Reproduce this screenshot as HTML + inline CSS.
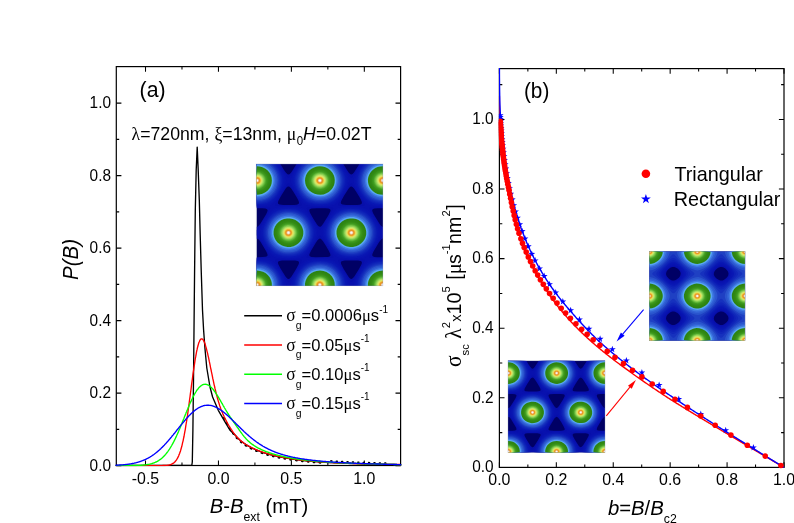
<!DOCTYPE html>
<html><head><meta charset="utf-8"><title>fig</title><style>html,body{margin:0;padding:0;background:#fff}svg{display:block;will-change:transform}</style></head><body>
<svg width="794" height="523" viewBox="0 0 794 523">
<rect width="794" height="523" fill="#fff"/>
<defs>
<clipPath id="ca"><rect x="115.5" y="65.8" width="285.8" height="400.4"/></clipPath>
<clipPath id="cb"><rect x="498.8" y="67.9" width="285.9" height="401.2"/></clipPath>
<g id="tri"><rect x="0" y="0" width="126.5" height="122" fill="#000065"/>
<path fill="#070faa" fill-rule="evenodd" d="M0.5,0.0 23.9,0.0 27.5,5.9 29.5,8.8 31.0,10.3 32.0,10.6 33.0,10.2 34.5,8.7 36.5,5.8 40.0,0.0 86.8,0.0 90.5,6.1 92.5,8.9 94.0,10.3 95.0,10.6 96.0,10.1 97.5,8.6 102.9,0.0 126.5,0.0 126.5,44.2 121.0,44.2 118.0,44.5 116.5,45.0 116.0,45.5 115.7,46.5 116.1,48.0 117.0,50.0 122.5,59.1 124.0,61.2 125.0,62.2 126.0,62.8 126.5,62.8 126.5,74.6 126.0,74.6 125.0,75.2 124.0,76.2 122.5,78.3 117.0,87.5 116.1,89.5 115.7,91.0 116.0,92.0 116.7,92.5 118.0,92.9 121.0,93.2 126.5,93.2 126.5,122.0 0.0,122.0 0.0,93.2 6.0,93.1 9.0,92.8 10.5,92.2 11.0,91.5 11.1,91.0 10.7,89.5 9.5,87.0 4.0,77.8 2.0,75.3 1.0,74.7 0.0,74.7 0.0,62.7 1.0,62.7 2.0,62.1 4.0,59.6 9.5,50.5 10.7,48.0 11.1,46.5 11.0,45.9 10.5,45.2 9.0,44.6 6.0,44.3 0.0,44.2 0.0,0.0ZM31.5,22.5 30.5,23.1 29.0,24.8 24.5,32.0 21.8,37.0 21.4,38.5 21.5,39.5 22.0,40.1 23.0,40.5 27.0,41.0 37.5,40.9 40.0,40.7 41.5,40.3 42.4,39.5 42.5,38.5 42.1,37.0 40.6,34.0 37.0,28.0 34.5,24.3 33.0,22.8 32.0,22.4ZM94.4,22.5 93.5,23.0 92.0,24.7 87.4,32.0 84.7,37.0 84.3,38.5 84.4,39.5 85.0,40.1 86.0,40.6 90.0,41.0 100.5,40.9 103.0,40.7 104.5,40.3 105.3,39.5 105.4,38.5 105.0,37.0 103.5,34.0 100.0,28.2 97.5,24.4 96.0,22.9 95.0,22.4ZM55.2,44.5 53.6,45.0 53.1,45.5 52.9,46.0 52.9,47.0 53.6,49.0 57.0,55.0 60.5,60.4 61.5,61.7 62.5,62.5 63.5,62.8 64.0,62.7 65.0,62.0 66.5,60.1 71.8,51.5 73.8,47.5 74.0,46.5 73.7,45.5 73.2,45.0 72.0,44.6 69.0,44.3 60.0,44.2ZM62.4,75.0 61.0,76.3 59.5,78.4 54.4,87.0 53.0,90.0 52.8,91.0 53.1,92.0 53.8,92.5 55.0,92.9 59.5,93.2 69.0,93.1 71.5,92.9 73.0,92.5 73.7,92.0 73.9,91.5 73.8,90.0 72.4,87.0 69.5,81.9 66.5,77.3 65.0,75.4 64.0,74.7 63.5,74.6ZM25.5,96.5 23.0,96.9 21.8,97.5 21.4,98.5 21.7,100.0 24.0,104.5 29.0,112.6 30.0,113.8 31.0,114.7 32.0,115.0 32.5,114.9 33.5,114.2 35.0,112.4 39.5,105.2 42.0,100.5 42.5,99.0 42.4,98.0 42.1,97.5 41.3,97.0 38.5,96.5 32.0,96.4ZM88.4,96.5 86.0,96.9 84.7,97.5 84.3,98.5 84.6,100.0 87.0,104.7 92.0,112.7 93.0,113.9 94.0,114.7 95.0,115.0 95.5,114.8 96.5,114.1 98.0,112.3 102.5,105.0 104.9,100.5 105.4,99.0 105.3,98.0 105.0,97.5 104.2,97.0 101.5,96.5 95.5,96.4Z"/>
<path fill="#0811ae" fill-rule="evenodd" d="M0.5,0.0 23.0,0.0 30.0,11.8 31.0,13.2 31.5,13.6 32.0,13.8 33.0,13.1 34.0,11.6 40.9,0.0 85.9,0.0 93.0,11.9 94.0,13.3 94.5,13.7 95.0,13.7 95.5,13.5 96.5,12.3 103.8,0.0 126.5,0.0 126.5,43.5 115.0,43.4 113.5,43.7 113.1,44.0 113.0,44.5 114.1,47.0 119.4,55.5 124.5,64.2 125.5,65.5 126.0,65.9 126.5,65.9 126.5,71.5 126.0,71.5 125.5,71.9 124.5,73.2 119.3,82.0 114.1,90.5 113.3,92.0 113.0,93.0 113.1,93.5 113.5,93.7 115.0,94.0 126.5,93.9 126.5,122.0 0.0,122.0 0.0,93.9 12.0,94.0 13.5,93.6 13.8,93.0 13.5,92.0 12.7,90.5 7.8,82.5 2.5,73.5 1.0,71.6 0.5,71.5 0.0,71.6 0.0,65.8 0.5,65.9 1.0,65.8 2.5,63.9 7.7,55.0 13.0,46.5 13.8,44.5 13.7,44.0 13.5,43.8 12.0,43.4 0.0,43.5 0.0,0.0ZM31.4,19.5 30.0,21.2 24.9,30.0 19.9,38.0 18.8,40.0 18.6,41.0 19.0,41.5 19.5,41.7 21.5,41.9 32.0,41.7 42.0,41.9 44.0,41.7 44.9,41.5 45.3,41.0 45.2,40.5 44.6,39.0 38.7,29.5 34.0,21.4 32.5,19.5 32.0,19.2ZM94.3,19.5 93.5,20.3 92.5,21.9 87.8,30.0 82.8,38.0 81.7,40.0 81.5,41.0 81.9,41.5 82.5,41.7 84.5,41.9 95.0,41.7 105.0,41.9 106.5,41.8 107.8,41.5 108.2,41.0 108.1,40.5 107.5,39.0 101.6,29.5 97.0,21.5 95.5,19.5 95.0,19.3ZM51.1,43.5 50.2,44.0 50.1,44.5 51.2,47.0 62.0,64.8 63.0,65.8 63.5,65.9 64.0,65.7 65.5,63.8 70.3,55.5 75.6,47.0 76.6,45.0 76.6,44.0 75.7,43.5 74.0,43.4 53.5,43.3ZM63.3,71.5 62.5,72.0 61.5,73.3 56.1,82.5 51.4,90.0 50.2,92.5 50.1,93.0 50.2,93.5 51.5,94.0 53.5,94.1 63.5,93.9 74.0,94.1 75.5,93.9 76.5,93.6 76.7,93.0 76.6,92.5 75.6,90.5 70.7,82.5 65.0,72.9 64.0,71.7ZM18.9,96.0 18.6,96.5 18.7,97.0 19.9,99.5 25.2,108.0 30.0,116.2 31.0,117.6 31.5,118.0 32.0,118.2 33.0,117.5 34.0,116.0 39.3,107.0 44.3,99.0 45.0,97.5 45.3,96.5 45.0,96.0 44.5,95.8 42.5,95.5 32.0,95.7 21.5,95.5 20.0,95.6ZM81.8,96.0 81.5,96.5 81.6,97.0 82.8,99.5 87.8,107.5 93.0,116.3 94.0,117.7 94.5,118.1 95.0,118.1 96.0,117.3 97.0,115.9 101.9,107.5 107.2,99.0 107.9,97.5 108.2,96.5 107.9,96.0 107.5,95.8 105.0,95.5 95.0,95.7 84.5,95.5 83.0,95.6Z"/>
<path fill="#0913b0" fill-rule="evenodd" d="M0.5,0.0 22.1,0.0 26.3,7.0 28.2,11.0 29.2,13.5 29.6,16.5 29.2,19.5 27.3,24.0 24.6,29.0 21.0,34.6 18.0,38.3 15.5,40.4 14.0,41.2 12.5,41.7 7.5,42.5 0.0,42.8 0.0,0.0ZM41.5,0.5 41.8,0.0 85.0,0.0 88.4,5.5 91.1,11.0 92.3,14.5 92.5,16.0 92.5,17.5 92.2,19.0 91.3,21.5 88.4,27.5 84.3,34.0 82.5,36.4 80.5,38.7 78.0,40.7 75.0,41.8 70.5,42.5 64.0,42.8 57.5,42.6 52.0,41.8 49.0,40.8 46.5,38.9 43.0,34.7 38.7,28.0 35.7,22.0 34.7,19.5 34.3,17.5 34.4,15.0 34.7,13.5 35.7,11.0 38.1,6.0ZM104.5,0.3 104.7,0.0 126.5,0.0 126.5,42.8 121.0,42.6 116.5,42.1 113.0,41.3 111.0,40.2 108.5,38.0 106.0,34.8 102.8,30.0 100.2,25.5 98.8,22.5 97.6,19.5 97.2,17.0 97.3,15.0 98.2,12.0 99.7,8.5 101.9,4.5ZM29.0,42.5 36.0,42.5 41.5,43.0 45.0,43.8 47.5,45.1 49.0,46.4 51.0,48.7 54.7,54.0 58.7,61.0 60.7,66.0 61.1,68.5 60.7,71.5 58.9,76.0 56.2,81.0 52.5,86.7 49.5,90.4 47.0,92.6 44.5,93.7 42.0,94.3 38.5,94.7 29.5,94.9 22.0,94.3 19.5,93.8 17.5,92.9 16.0,91.9 14.5,90.6 12.5,88.2 10.2,85.0 7.7,81.0 5.8,77.5 4.1,74.0 3.2,71.5 2.8,69.5 2.9,67.5 3.4,65.5 4.3,63.0 6.3,59.0 8.9,54.5 11.5,50.6 14.0,47.4 16.5,45.1 19.0,43.8 23.0,42.9ZM92.0,42.5 99.0,42.5 104.5,43.0 108.0,43.9 110.5,45.2 112.0,46.5 113.5,48.2 117.6,54.0 121.3,60.5 123.4,65.5 124.0,68.5 123.7,71.0 122.2,75.0 119.7,80.0 116.2,85.5 113.0,89.8 110.5,92.2 109.0,93.1 107.5,93.7 105.0,94.3 101.5,94.7 97.0,94.9 92.5,94.9 85.0,94.3 82.5,93.8 80.5,93.0 78.5,91.6 77.0,90.1 73.1,85.0 70.6,81.0 68.7,77.5 66.3,72.0 65.8,70.0 65.7,68.0 66.3,65.5 67.2,63.0 69.2,59.0 71.8,54.5 74.5,50.4 77.0,47.3 79.5,45.0 82.0,43.8 86.0,42.9ZM0.5,94.6 7.0,94.9 12.0,95.6 15.0,96.7 17.0,98.1 19.0,100.2 21.5,103.5 23.8,107.0 26.4,111.5 28.3,115.5 29.2,118.0 29.6,120.0 29.6,122.0 0.0,122.0 0.0,94.6ZM56.0,95.0 64.0,94.6 71.5,95.0 76.0,95.9 77.5,96.5 79.0,97.4 81.0,99.2 83.5,102.3 86.4,106.5 88.7,110.5 90.7,114.5 91.9,117.5 92.5,120.0 92.5,122.0 34.3,122.0 34.3,120.5 34.6,118.5 36.3,114.0 40.1,107.0 44.5,100.7 47.0,98.0 49.0,96.6 51.5,95.7ZM119.0,95.0 126.5,94.6 126.5,122.0 97.2,122.0 97.2,120.5 97.4,119.0 98.1,116.5 99.2,114.0 101.3,110.0 103.3,106.5 107.5,100.6 110.0,97.9 112.0,96.6 114.5,95.7Z"/>
<path fill="#0916b2" fill-rule="evenodd" d="M0.5,0.0 21.1,0.0 23.4,3.5 25.4,7.0 26.9,10.5 27.8,13.5 28.2,17.0 27.9,19.0 27.4,21.0 25.4,26.0 22.5,31.0 19.0,35.6 16.0,38.4 13.0,40.1 9.5,41.2 5.0,41.8 0.0,42.0 0.0,0.0ZM42.5,0.5 42.8,0.0 84.0,0.0 87.2,5.0 89.4,9.5 90.7,13.5 91.1,17.0 90.8,19.0 90.3,21.0 88.3,26.0 85.4,31.0 82.0,35.5 79.0,38.3 76.0,40.1 72.0,41.3 67.0,41.9 60.5,41.9 54.5,41.2 50.5,40.0 48.5,38.8 47.0,37.7 45.0,35.7 43.2,33.5 39.6,28.0 37.0,22.5 36.2,20.0 35.8,18.0 35.9,14.5 36.3,12.5 37.2,10.0 39.3,5.5ZM105.5,0.3 105.7,0.0 126.5,0.0 126.5,42.0 121.5,41.8 117.5,41.2 114.0,40.2 111.5,38.9 109.0,36.8 106.5,34.0 103.7,30.0 101.4,26.0 99.9,22.5 99.0,19.5 98.6,17.0 98.8,14.5 99.7,11.0 101.0,8.0 103.1,4.0ZM26.5,43.5 32.5,43.2 38.5,43.6 43.0,44.5 45.0,45.3 46.5,46.1 49.5,48.6 53.1,53.0 56.2,58.0 57.7,61.0 58.7,63.5 59.5,67.0 59.6,69.0 59.5,70.5 58.6,74.0 56.7,78.5 53.4,84.0 50.0,88.3 47.0,90.9 45.5,91.8 43.5,92.7 41.0,93.4 37.5,93.9 34.0,94.2 30.0,94.2 26.0,93.9 23.0,93.4 20.5,92.7 18.5,91.9 16.5,90.6 15.0,89.4 11.5,85.4 7.8,79.5 5.3,74.0 4.7,72.0 4.3,69.5 4.3,67.5 4.8,65.0 5.8,62.0 7.2,59.0 10.8,53.0 14.0,49.0 16.0,47.1 17.5,46.1 19.5,45.0 21.5,44.4ZM89.5,43.4 95.5,43.2 101.5,43.6 106.0,44.6 108.0,45.4 109.5,46.2 111.5,47.7 113.0,49.2 116.3,53.5 119.6,59.0 121.7,64.0 122.5,67.5 122.3,71.0 121.2,75.0 118.8,80.0 115.6,85.0 112.5,88.7 109.5,91.2 107.5,92.3 106.0,92.8 103.5,93.5 100.5,93.9 97.0,94.2 93.0,94.2 89.0,93.9 86.0,93.4 83.5,92.8 81.5,91.9 79.5,90.7 78.0,89.5 74.5,85.5 72.4,82.5 70.7,79.5 68.2,74.0 67.5,71.5 67.2,69.5 67.2,67.5 67.7,65.0 68.7,62.0 69.8,59.5 71.8,56.0 73.7,53.0 77.0,48.9 79.0,47.1 80.5,46.0 82.0,45.2 84.5,44.3ZM0.5,95.4 6.5,95.7 11.0,96.6 14.5,98.0 17.5,100.3 19.5,102.4 21.9,105.5 23.8,108.5 25.7,112.0 26.8,114.5 27.8,117.5 28.2,120.0 28.1,122.0 0.0,122.0 0.0,95.4ZM60.0,95.5 66.5,95.5 72.5,96.2 74.5,96.7 76.5,97.5 78.5,98.7 80.0,99.9 82.0,101.9 84.4,105.0 86.4,108.0 88.3,111.5 89.7,114.5 90.7,117.5 91.1,120.0 91.0,122.0 35.8,122.0 35.7,120.0 36.1,117.5 37.8,113.0 41.1,107.0 43.0,104.2 45.0,101.7 48.0,98.9 51.0,97.2 55.0,96.1ZM123.0,95.5 126.5,95.4 126.5,122.0 98.7,122.0 98.6,120.0 98.9,118.0 99.7,115.5 100.7,113.0 102.2,110.0 104.3,106.5 108.0,101.6 111.0,98.8 114.0,97.2 118.0,96.1Z"/>
<path fill="#0a18b4" fill-rule="evenodd" d="M0.5,0.0 19.9,0.0 22.4,3.5 24.6,7.5 26.2,11.5 26.8,14.5 27.0,16.5 26.8,18.5 26.3,21.0 25.7,23.0 23.3,28.0 20.0,32.9 17.0,36.1 14.0,38.3 10.5,39.9 6.0,40.8 0.0,41.2 0.0,0.0ZM44.0,0.0 82.8,0.0 85.9,4.5 88.2,9.0 89.6,13.5 89.9,17.0 89.7,19.0 89.2,21.0 87.5,25.5 84.7,30.5 81.5,34.6 78.5,37.3 75.0,39.3 73.0,40.0 70.5,40.6 65.0,41.2 59.0,41.0 54.0,40.0 52.0,39.4 50.0,38.4 48.0,37.0 46.5,35.8 44.5,33.7 42.8,31.5 39.8,26.5 38.6,24.0 37.7,21.5 37.0,17.5 37.0,15.5 37.2,13.5 38.4,9.5 40.9,4.5ZM106.5,0.5 106.9,0.0 126.5,0.0 126.5,41.2 122.0,41.0 118.0,40.3 114.5,39.2 112.0,37.8 109.5,35.9 107.0,33.2 104.7,30.0 102.4,26.0 100.9,22.5 100.1,19.5 99.8,16.5 100.0,14.0 100.8,11.0 102.2,7.5 104.1,4.0ZM26.0,44.4 31.5,44.0 37.0,44.3 41.5,45.2 43.5,45.9 45.5,46.9 47.5,48.3 49.0,49.6 52.0,53.0 55.2,58.0 57.2,62.5 58.3,66.5 58.4,70.0 57.5,74.0 55.7,78.5 52.7,83.5 49.5,87.3 48.0,88.7 46.0,90.2 42.5,91.9 40.0,92.6 37.0,93.1 34.0,93.4 30.5,93.4 27.5,93.2 24.5,92.7 22.0,92.1 19.5,91.1 18.0,90.3 16.0,88.8 14.1,87.0 12.5,85.2 9.3,80.5 7.7,77.5 6.7,75.0 5.9,72.5 5.6,70.5 5.5,68.5 5.7,66.0 6.3,63.5 7.2,61.0 8.7,58.0 10.2,55.5 13.5,51.0 15.0,49.5 17.0,47.8 19.0,46.6 21.0,45.7 23.5,44.9ZM88.5,44.5 94.0,44.0 99.5,44.3 104.5,45.2 108.0,46.7 109.5,47.6 111.5,49.2 114.9,53.0 117.8,57.5 120.1,62.5 121.2,66.5 121.3,70.0 120.4,74.0 118.6,78.5 115.9,83.0 112.5,87.2 111.0,88.6 109.0,90.1 105.5,91.8 103.0,92.6 100.0,93.1 97.0,93.3 93.5,93.4 90.5,93.2 87.5,92.7 85.0,92.1 82.5,91.1 81.0,90.3 79.0,88.9 77.0,87.0 75.5,85.3 72.2,80.5 70.6,77.5 69.6,75.0 68.8,72.5 68.5,70.5 68.4,68.5 68.6,66.0 69.2,63.5 70.1,61.0 72.7,56.0 74.5,53.4 76.4,51.0 78.0,49.4 80.0,47.7 82.0,46.5 84.0,45.6ZM0.5,96.2 6.0,96.6 10.5,97.5 14.0,99.1 16.0,100.4 17.5,101.7 19.5,103.9 21.1,106.0 23.1,109.0 24.7,112.0 25.9,115.0 26.6,117.5 26.9,119.5 26.9,122.0 0.0,122.0 0.0,96.2ZM58.5,96.5 64.5,96.2 70.5,96.8 73.0,97.4 75.0,98.1 77.0,99.1 79.0,100.5 81.0,102.3 83.3,105.0 85.4,108.0 87.1,111.0 88.4,114.0 89.4,117.0 89.8,119.5 89.8,122.0 37.0,122.0 37.0,120.0 37.2,118.0 37.7,116.0 38.6,113.5 41.1,108.5 44.5,103.7 47.5,100.7 50.5,98.7 54.0,97.4ZM121.5,96.5 126.5,96.2 126.5,122.0 99.9,122.0 99.8,120.0 100.2,117.5 101.7,113.0 104.3,108.0 107.5,103.6 110.5,100.7 113.5,98.7 117.0,97.3Z"/>
<path fill="#0d20b7" fill-rule="evenodd" d="M0.5,0.0 18.7,0.0 21.7,4.0 23.8,8.0 25.4,12.5 25.8,16.5 25.7,18.5 25.2,21.0 24.4,23.5 23.4,26.0 20.5,30.7 18.7,33.0 17.0,34.7 13.5,37.3 10.0,38.9 5.5,40.0 0.5,40.3 0.0,40.3 0.0,0.0ZM45.0,0.2 45.2,0.0 81.6,0.0 84.2,3.5 86.7,8.0 88.3,12.5 88.7,16.5 88.3,20.5 86.7,25.0 84.2,29.5 81.5,33.1 80.0,34.6 78.0,36.3 74.5,38.3 72.0,39.2 70.0,39.7 65.0,40.3 59.5,40.1 57.0,39.7 54.5,39.1 52.5,38.4 50.5,37.4 47.0,34.8 45.2,33.0 43.6,31.0 40.8,26.5 39.7,24.0 38.8,21.5 38.1,17.5 38.3,13.5 38.8,11.5 39.7,9.0 41.9,4.5ZM108.0,0.1 108.1,0.0 126.5,0.0 126.5,40.3 122.5,40.1 118.5,39.4 115.5,38.4 112.5,36.8 110.0,34.9 107.5,32.3 105.1,29.0 103.2,25.5 102.0,22.5 101.2,19.5 101.0,16.5 101.2,13.5 102.2,10.0 103.7,6.5 105.8,3.0ZM29.0,45.0 34.0,44.9 39.0,45.6 43.0,46.9 46.5,48.9 50.0,52.0 53.0,56.0 55.4,60.5 56.9,65.0 57.3,69.0 56.7,73.0 55.1,77.5 52.5,82.1 49.5,85.9 48.0,87.3 46.0,88.9 42.5,90.7 38.5,91.9 33.0,92.5 27.5,92.2 25.0,91.8 22.5,91.1 20.5,90.3 18.5,89.3 16.5,87.8 14.5,86.0 11.3,82.0 9.8,79.5 8.5,77.0 7.6,74.5 6.9,72.0 6.7,70.0 6.7,67.5 6.9,65.5 7.6,63.0 8.5,60.5 9.7,58.0 11.2,55.5 13.0,53.1 14.5,51.4 16.5,49.6 20.0,47.3 24.0,45.8ZM92.0,45.0 97.0,44.9 102.0,45.6 106.0,46.9 109.5,48.9 112.9,52.0 115.9,56.0 118.3,60.5 119.8,65.0 120.2,69.0 119.6,73.0 118.0,77.5 115.5,82.0 112.5,85.8 111.0,87.2 109.0,88.8 105.5,90.7 101.5,91.9 99.0,92.3 96.0,92.5 90.5,92.3 88.0,91.8 85.5,91.2 83.5,90.4 81.5,89.3 79.5,87.9 77.5,86.1 74.2,82.0 72.7,79.5 71.4,77.0 70.5,74.5 69.8,72.0 69.6,70.0 69.6,67.5 69.8,65.5 70.5,63.0 71.4,60.5 72.6,58.0 74.1,55.5 76.0,53.0 77.8,51.0 79.5,49.5 83.0,47.3 87.0,45.8ZM0.5,97.1 5.5,97.4 8.0,97.9 10.5,98.7 14.0,100.4 16.0,101.8 17.5,103.2 19.2,105.0 21.1,107.5 22.6,110.0 23.9,112.5 24.8,115.0 25.5,117.5 25.8,119.5 25.8,122.0 0.0,122.0 0.0,97.1ZM58.0,97.5 61.0,97.2 64.0,97.1 67.0,97.3 70.0,97.7 72.5,98.4 75.0,99.3 77.0,100.4 79.0,101.9 81.0,103.8 83.0,106.1 84.6,108.5 86.3,111.5 87.4,114.0 88.3,117.0 88.7,119.5 88.7,122.0 38.1,122.0 38.3,118.0 39.4,114.0 41.6,109.5 44.5,105.2 47.5,102.1 50.5,100.0 54.0,98.5ZM121.0,97.5 126.5,97.1 126.5,122.0 101.0,122.0 101.2,118.0 102.3,114.0 104.5,109.5 107.2,105.5 110.0,102.5 113.0,100.2 116.5,98.6Z"/>
<path fill="#1127ba" fill-rule="evenodd" d="M0.5,0.0 17.3,0.0 20.2,3.5 22.7,8.0 23.7,10.5 24.2,12.5 24.7,16.5 24.2,20.5 23.7,22.5 22.7,25.0 20.2,29.5 18.5,31.7 16.8,33.5 13.5,36.0 10.0,37.8 5.5,39.0 0.5,39.4 0.0,39.4 0.0,0.0ZM46.5,0.1 46.6,0.0 80.2,0.0 83.1,3.5 85.6,8.0 87.1,12.5 87.6,16.5 87.1,20.5 85.6,25.0 83.4,29.0 80.5,32.7 79.0,34.1 77.0,35.7 73.5,37.5 71.5,38.3 69.0,38.9 64.0,39.4 59.0,39.1 56.5,38.6 54.0,37.8 50.5,36.1 47.0,33.4 45.3,31.5 43.7,29.5 41.4,25.5 39.8,21.0 39.2,17.0 39.3,15.0 39.7,12.5 41.0,8.5 43.4,4.0ZM109.5,0.0 126.5,0.0 126.5,39.4 122.5,39.2 119.0,38.5 116.0,37.5 113.0,35.9 110.5,33.9 107.7,31.0 105.7,28.0 103.9,24.5 102.7,21.0 102.2,18.0 102.2,15.0 102.7,12.0 103.6,9.0 105.4,5.5 107.4,2.5ZM29.0,46.0 34.0,45.9 38.5,46.5 42.5,47.9 46.0,49.9 48.0,51.5 49.5,53.0 52.2,56.5 54.5,61.0 55.2,63.0 55.9,65.5 56.1,69.5 55.8,72.0 55.4,74.0 53.5,78.5 51.0,82.5 48.0,85.9 45.0,88.2 43.0,89.3 41.0,90.1 37.0,91.2 32.0,91.6 27.0,91.2 22.5,90.0 20.5,89.1 18.5,88.0 16.6,86.5 15.0,85.0 13.2,83.0 11.8,81.0 9.4,76.5 8.7,74.5 8.1,72.0 7.8,69.5 7.8,67.5 8.1,65.0 8.7,63.0 10.6,58.5 11.7,56.5 13.5,54.1 15.0,52.4 17.0,50.5 20.5,48.3 24.5,46.8ZM91.5,46.0 96.5,45.9 101.0,46.4 105.0,47.7 108.5,49.6 111.9,52.5 114.7,56.0 117.2,60.5 118.1,63.0 118.7,65.0 119.0,69.0 118.5,73.0 117.2,77.0 114.7,81.5 111.8,85.0 108.5,87.8 105.0,89.7 101.0,91.0 96.0,91.6 93.5,91.6 90.5,91.3 86.0,90.2 84.0,89.4 82.0,88.3 80.0,86.9 78.4,85.5 76.5,83.5 75.0,81.5 72.5,77.0 71.8,75.0 71.1,72.5 70.7,70.5 70.7,68.0 70.9,66.0 71.4,63.5 73.2,59.0 74.6,56.5 76.1,54.5 79.0,51.3 82.5,48.8 84.5,47.8 87.0,46.9ZM0.5,98.0 5.5,98.4 10.0,99.6 13.5,101.4 17.0,104.1 18.7,106.0 20.2,108.0 22.8,112.5 23.7,115.0 24.4,117.5 24.7,120.0 24.7,122.0 0.0,122.0 0.0,98.0ZM58.0,98.5 61.0,98.1 64.0,98.0 67.0,98.2 69.5,98.6 72.0,99.3 74.5,100.3 76.5,101.4 78.5,102.9 80.5,104.7 82.4,107.0 84.1,109.5 85.4,112.0 86.5,114.5 87.2,117.0 87.5,119.5 87.6,122.0 39.2,122.0 39.4,118.5 40.3,114.5 42.1,110.5 44.8,106.5 47.5,103.6 50.5,101.3 54.0,99.6ZM121.0,98.5 123.5,98.1 126.5,98.0 126.5,122.0 102.1,122.0 102.3,118.5 103.2,114.5 105.0,110.5 107.7,106.5 110.5,103.5 113.5,101.2 117.0,99.5Z"/>
<path fill="#1631be" fill-rule="evenodd" d="M0.5,0.0 15.7,0.0 18.9,3.5 21.3,7.5 22.2,9.5 23.0,12.0 23.4,14.0 23.5,16.5 23.1,20.5 22.4,23.0 21.6,25.0 19.3,29.0 16.2,32.5 13.0,35.0 9.5,36.8 5.5,37.9 0.5,38.4 0.0,38.4 0.0,0.0ZM48.0,0.2 48.2,0.0 78.6,0.0 79.6,1.0 82.5,4.5 84.7,8.5 86.0,12.5 86.4,16.5 86.0,20.5 84.7,24.5 82.5,28.5 79.5,32.1 76.5,34.6 74.5,35.8 72.5,36.8 68.5,37.9 63.5,38.4 59.0,38.0 54.5,36.8 52.5,35.9 50.5,34.8 47.2,32.0 44.3,28.5 42.1,24.5 41.2,22.0 40.7,20.0 40.4,16.0 40.9,12.0 41.7,9.5 42.6,7.5 45.0,3.5ZM111.0,0.1 126.5,0.0 126.5,38.4 123.0,38.2 119.5,37.5 116.5,36.5 113.5,34.8 111.0,32.9 108.5,30.3 106.3,27.0 104.8,24.0 103.8,21.0 103.3,18.0 103.3,15.0 103.8,12.0 104.8,9.0 106.6,5.5 108.7,2.5ZM29.0,47.0 33.5,46.9 38.0,47.5 42.0,48.9 45.5,50.9 47.5,52.5 48.9,54.0 51.6,57.5 53.6,61.5 54.7,65.5 55.0,69.5 54.4,73.5 52.9,77.5 50.5,81.5 47.5,84.9 44.5,87.2 42.5,88.3 40.5,89.2 36.5,90.2 31.5,90.6 27.0,90.1 22.5,88.8 19.0,86.9 17.1,85.5 15.5,84.0 12.7,80.5 10.6,76.5 9.7,74.0 9.2,72.0 8.9,68.0 9.2,65.5 9.7,63.5 11.2,59.5 12.7,57.0 14.0,55.1 17.0,52.0 20.5,49.6 24.5,47.9ZM92.0,47.0 96.5,46.9 101.0,47.5 105.0,48.9 108.5,51.0 111.8,54.0 114.5,57.5 116.5,61.5 117.6,65.5 117.9,69.5 117.3,73.5 115.8,77.5 113.4,81.5 110.5,84.8 107.5,87.1 105.5,88.3 103.5,89.1 99.5,90.2 94.5,90.6 90.0,90.1 85.5,88.9 82.0,87.0 80.0,85.5 78.5,84.1 75.6,80.5 74.2,78.0 73.3,76.0 72.1,72.0 71.8,68.0 72.1,65.5 72.6,63.5 73.2,61.5 74.4,59.0 77.0,55.0 80.0,51.9 83.5,49.5 87.5,47.8ZM0.5,99.0 5.0,99.4 9.5,100.6 13.0,102.4 16.5,105.2 18.2,107.0 19.7,109.0 21.8,113.0 22.7,115.5 23.2,117.5 23.5,120.0 23.5,122.0 0.0,122.0 0.0,99.0ZM58.5,99.5 61.0,99.1 64.0,99.0 67.0,99.3 69.5,99.7 71.5,100.3 74.0,101.3 76.0,102.4 78.0,103.9 79.7,105.5 81.5,107.5 82.9,109.5 84.3,112.0 85.3,114.5 86.0,117.0 86.4,119.5 86.4,122.0 40.4,122.0 40.6,118.0 41.5,114.5 43.3,110.5 45.5,107.3 48.0,104.6 51.0,102.3 54.5,100.6ZM121.5,99.4 126.5,99.0 126.5,122.0 103.3,122.0 103.4,118.5 104.4,114.5 106.2,110.5 108.5,107.1 111.0,104.5 114.0,102.2 117.5,100.5Z"/>
<path fill="#1f40c3" fill-rule="evenodd" d="M0.5,0.0 13.9,0.0 15.6,1.5 17.5,3.5 18.9,5.5 20.1,7.5 21.2,10.0 21.8,12.0 22.2,14.5 22.3,16.5 21.9,20.5 20.6,24.5 18.2,28.5 15.5,31.6 12.5,34.0 9.0,35.8 5.0,36.9 0.5,37.3 0.0,37.3 0.0,0.0ZM49.5,0.4 50.0,0.0 76.8,0.0 79.5,2.5 82.1,6.0 83.9,9.5 85.0,13.5 85.2,17.5 84.7,21.0 83.2,25.0 81.0,28.7 78.0,32.0 74.5,34.5 70.5,36.2 66.5,37.1 62.0,37.3 58.0,36.7 54.0,35.4 50.5,33.4 47.3,30.5 44.7,27.0 42.7,23.0 41.7,19.0 41.6,15.0 42.4,11.0 44.1,7.0 46.5,3.4ZM112.5,0.3 112.9,0.0 126.5,0.0 126.5,37.3 123.0,37.1 119.5,36.3 116.5,35.2 114.0,33.8 111.5,31.8 109.3,29.5 107.3,26.5 105.8,23.5 104.9,20.5 104.5,17.5 104.6,14.5 105.2,11.5 106.2,8.5 107.9,5.5 110.0,2.7ZM30.0,48.0 34.5,48.0 38.5,48.8 42.0,50.1 45.5,52.3 48.5,55.2 50.9,58.5 52.7,62.5 53.7,66.5 53.7,70.5 52.9,74.5 51.4,78.0 49.0,81.6 46.2,84.5 43.0,86.7 39.5,88.3 35.0,89.3 30.5,89.5 26.5,88.9 22.5,87.6 19.0,85.5 15.7,82.5 13.1,79.0 11.2,75.0 10.3,71.0 10.1,69.0 10.2,66.5 11.2,62.5 13.0,58.5 15.5,55.1 18.5,52.2 22.0,50.1 26.0,48.6ZM93.0,48.0 97.5,48.0 101.5,48.8 105.0,50.2 108.5,52.4 111.7,55.5 114.0,59.0 115.8,63.0 116.6,67.0 116.6,70.5 115.8,74.5 114.0,78.5 111.5,82.1 108.5,85.0 105.0,87.2 101.5,88.6 97.5,89.4 93.0,89.4 89.0,88.8 85.0,87.4 81.5,85.2 79.5,83.5 78.1,82.0 75.7,78.5 74.0,74.5 73.1,70.5 73.1,66.5 74.1,62.5 75.9,58.5 78.5,55.0 81.5,52.2 85.0,50.0 89.0,48.6ZM0.5,100.1 5.0,100.5 9.0,101.6 11.0,102.6 13.0,103.8 16.0,106.3 18.7,109.5 20.8,113.5 21.7,116.0 22.1,118.0 22.3,122.0 0.0,122.0 0.0,100.1ZM59.0,100.5 61.5,100.2 64.0,100.1 66.5,100.3 69.0,100.7 71.0,101.3 73.5,102.4 75.5,103.5 77.5,105.0 79.1,106.5 80.8,108.5 82.2,110.5 83.5,113.0 84.3,115.0 84.9,117.5 85.2,120.0 85.2,122.0 41.6,122.0 41.7,118.5 42.7,114.5 44.3,111.0 46.3,108.0 49.0,105.2 52.0,103.1 55.5,101.4ZM122.0,100.5 126.5,100.1 126.5,122.0 104.5,122.0 104.6,118.5 105.4,115.0 106.9,111.5 109.2,108.0 112.0,105.1 115.0,103.0 118.5,101.4Z"/>
<path fill="#2a55cd" fill-rule="evenodd" d="M0.5,0.0 11.8,0.0 13.5,1.2 16.5,4.2 17.8,6.0 19.0,8.0 19.9,10.0 20.6,12.5 21.1,16.5 20.6,20.5 19.5,24.0 17.5,27.5 14.9,30.5 12.0,32.9 8.5,34.7 4.5,35.8 0.5,36.1 0.0,36.1 0.0,0.0ZM51.5,0.4 52.1,0.0 74.7,0.0 77.3,2.0 79.6,4.5 81.9,8.0 83.3,11.5 83.9,15.0 83.9,18.5 83.1,22.0 81.6,25.5 79.2,29.0 76.5,31.7 73.0,33.9 69.5,35.3 65.5,36.1 61.0,36.0 57.0,35.2 53.5,33.8 50.0,31.4 47.2,28.5 44.9,25.0 43.4,21.0 42.8,17.0 43.1,13.5 44.2,9.5 46.1,6.0 48.5,3.0ZM114.5,0.3 115.0,0.0 126.5,0.0 126.5,36.1 123.0,35.9 120.0,35.2 117.0,34.1 114.5,32.7 111.9,30.5 109.7,28.0 108.1,25.5 106.7,22.5 106.0,19.5 105.7,16.5 106.0,13.5 106.7,10.5 108.1,7.5 109.7,5.0 111.9,2.5ZM27.5,49.5 31.5,49.1 35.5,49.3 39.0,50.2 42.5,51.8 45.6,54.0 48.4,57.0 50.6,60.5 51.9,64.0 52.5,67.5 52.3,71.5 51.4,75.0 49.7,78.5 47.5,81.5 44.5,84.3 41.0,86.4 37.5,87.7 33.5,88.3 29.0,88.2 25.0,87.2 21.5,85.7 18.4,83.5 15.5,80.4 13.4,77.0 11.9,73.0 11.4,69.0 11.7,65.5 12.9,61.5 14.8,58.0 17.5,54.7 20.5,52.3 24.0,50.5ZM90.5,49.5 94.5,49.1 98.5,49.3 102.0,50.2 105.5,51.8 108.5,54.0 111.3,57.0 113.5,60.5 114.8,64.0 115.4,67.5 115.2,71.5 114.3,75.0 112.6,78.5 110.4,81.5 107.5,84.2 104.0,86.4 100.5,87.6 96.5,88.3 92.0,88.2 88.0,87.3 84.5,85.7 81.3,83.5 78.4,80.5 76.3,77.0 74.8,73.0 74.3,69.0 74.6,65.5 75.8,61.5 77.7,58.0 80.1,55.0 83.1,52.5 86.5,50.7ZM0.5,101.3 4.5,101.6 8.5,102.7 12.0,104.5 15.0,107.0 16.5,108.6 17.9,110.5 19.7,114.0 20.8,118.0 21.0,122.0 0.0,122.0 0.0,101.3ZM60.5,101.4 65.0,101.3 69.5,102.1 73.5,103.7 77.0,106.1 78.5,107.6 80.1,109.5 81.4,111.5 82.4,113.5 83.7,117.5 83.9,119.5 83.9,122.0 42.9,122.0 43.0,118.5 43.8,115.0 45.4,111.5 47.5,108.5 50.5,105.6 53.5,103.6 57.0,102.2ZM123.0,101.5 126.5,101.3 126.5,122.0 105.8,122.0 105.9,118.5 106.7,115.0 108.3,111.5 110.4,108.5 113.0,105.9 116.0,103.8 119.5,102.3Z"/>
<path fill="#3161d6" fill-rule="evenodd" d="M0.5,0.0 9.1,0.0 11.0,1.0 13.0,2.5 15.9,5.5 18.1,9.0 19.3,12.5 19.8,16.5 19.4,20.0 18.3,23.5 16.3,27.0 14.0,29.6 11.0,32.0 8.0,33.5 4.5,34.5 0.5,34.9 0.0,34.9 0.0,0.0ZM54.0,0.4 54.8,0.0 72.0,0.0 74.5,1.4 76.5,3.0 78.4,5.0 79.9,7.0 81.4,10.0 82.4,13.5 82.7,17.0 82.2,20.5 81.0,24.0 79.2,27.0 77.0,29.5 74.0,31.9 70.5,33.7 67.0,34.6 63.0,34.9 59.0,34.5 55.5,33.3 52.0,31.4 49.3,29.0 46.9,26.0 45.2,22.5 44.3,19.0 44.2,15.5 44.7,12.0 46.1,8.5 48.4,5.0 51.0,2.4ZM117.0,0.3 117.7,0.0 126.5,0.0 126.5,34.9 123.0,34.7 120.0,33.9 117.0,32.7 114.5,31.1 112.2,29.0 110.2,26.5 108.7,24.0 107.6,21.0 107.1,18.0 107.1,15.0 107.6,12.0 108.7,9.0 110.2,6.5 112.2,4.0 114.5,1.9ZM29.0,50.5 33.0,50.3 36.5,50.8 40.0,51.9 43.0,53.6 45.9,56.0 48.3,59.0 49.9,62.0 50.9,65.5 51.2,69.0 50.8,72.5 49.6,76.0 47.9,79.0 45.5,81.8 42.5,84.2 39.0,85.9 35.5,86.8 31.5,87.1 28.0,86.7 24.5,85.7 21.0,83.9 18.1,81.5 15.7,78.5 13.9,75.0 12.9,71.5 12.7,68.0 13.2,64.5 14.5,61.0 16.5,57.7 19.0,55.0 22.0,52.9 25.5,51.3ZM92.0,50.5 96.0,50.3 99.5,50.8 103.0,52.0 106.0,53.6 108.8,56.0 111.2,59.0 112.8,62.0 113.8,65.5 114.1,69.0 113.7,72.5 112.5,76.0 110.8,79.0 108.5,81.7 105.5,84.1 102.0,85.8 98.5,86.8 94.5,87.1 91.0,86.8 87.5,85.8 84.0,84.0 81.0,81.5 78.6,78.5 76.8,75.0 75.8,71.5 75.6,67.5 76.2,64.0 77.6,60.5 79.5,57.6 82.0,55.0 85.0,52.8 88.5,51.3ZM0.5,102.5 4.5,102.9 8.0,103.9 11.5,105.7 14.5,108.3 17.0,111.5 18.7,115.0 19.6,118.5 19.7,122.0 0.0,122.0 0.0,102.5ZM62.5,102.5 66.5,102.7 70.5,103.7 74.0,105.5 77.0,107.8 79.6,111.0 81.4,114.5 82.4,118.0 82.6,122.0 44.2,122.0 44.3,118.5 45.2,115.0 46.9,111.5 49.2,108.5 52.0,106.0 55.0,104.3 58.5,103.1ZM125.5,102.5 126.5,102.5 126.5,122.0 107.1,122.0 107.2,118.5 108.1,115.0 109.8,111.5 112.1,108.5 114.9,106.0 118.0,104.2 121.5,103.0Z"/>
<path fill="#3f7be2" fill-rule="evenodd" d="M0.5,0.0 5.3,0.0 6.5,0.4 10.0,2.0 12.7,4.0 15.0,6.5 16.8,9.5 18.0,13.0 18.4,16.5 18.1,19.5 17.0,23.0 15.4,26.0 13.0,28.8 10.5,30.7 7.5,32.3 4.0,33.3 0.5,33.6 0.0,33.6 0.0,0.0ZM57.0,0.5 58.6,0.0 68.2,0.0 70.5,0.8 73.5,2.3 76.2,4.5 78.3,7.0 79.9,10.0 80.9,13.0 81.3,16.0 81.1,19.0 80.1,22.5 78.6,25.5 76.5,28.2 74.0,30.3 71.0,32.0 67.5,33.2 64.0,33.6 60.5,33.4 57.0,32.5 54.0,31.1 51.0,28.8 48.5,26.0 46.9,23.0 45.9,20.0 45.5,16.5 45.9,13.0 46.9,10.0 48.5,7.0 51.0,4.2 54.0,1.9ZM120.0,0.5 121.5,0.0 126.5,0.0 126.5,33.6 123.5,33.4 120.5,32.7 117.5,31.4 115.0,29.8 112.6,27.5 110.8,25.0 109.6,22.5 108.7,19.5 108.4,16.5 108.7,13.5 109.6,10.5 110.8,8.0 112.6,5.5 114.6,3.5 117.0,1.8ZM28.0,52.0 31.5,51.6 35.0,51.8 38.5,52.7 41.5,54.2 44.0,56.0 46.3,58.5 48.2,61.5 49.3,64.5 49.8,67.5 49.7,71.0 48.8,74.5 47.3,77.5 45.0,80.4 42.6,82.5 39.5,84.2 36.5,85.3 33.0,85.8 29.5,85.7 26.0,84.9 23.0,83.5 20.1,81.5 17.7,79.0 15.8,76.0 14.6,73.0 14.1,70.0 14.2,66.5 15.1,63.0 16.6,60.0 18.9,57.0 21.5,54.8 24.5,53.1ZM91.0,52.0 94.5,51.6 98.0,51.8 101.5,52.8 104.5,54.3 107.0,56.1 109.2,58.5 111.1,61.5 112.2,64.5 112.7,67.5 112.6,71.0 111.7,74.5 110.2,77.5 108.0,80.3 105.5,82.5 102.5,84.2 99.5,85.2 96.0,85.8 92.5,85.7 89.0,84.9 85.5,83.3 82.5,81.1 80.2,78.5 78.4,75.5 77.4,72.5 77.0,69.0 77.2,66.0 78.2,62.5 79.8,59.5 82.0,56.8 84.5,54.7 87.5,53.1ZM0.5,103.8 4.0,104.1 7.5,105.1 10.5,106.7 13.5,109.1 15.8,112.0 17.3,115.0 18.2,118.5 18.4,122.0 0.0,122.0 0.0,103.8ZM60.5,104.0 64.5,103.8 68.5,104.5 72.0,105.9 73.9,107.0 75.5,108.3 78.0,111.0 80.0,114.5 81.0,118.0 81.3,120.0 81.3,122.0 45.5,122.0 45.6,119.0 46.3,116.0 47.5,113.0 49.5,110.1 52.0,107.7 54.5,106.0 57.5,104.7ZM123.5,104.0 126.5,103.8 126.5,122.0 108.4,122.0 108.6,118.5 109.3,115.5 110.7,112.5 112.5,110.0 115.0,107.6 117.5,106.0 120.5,104.7Z"/>
<path fill="#57a5f4" fill-rule="evenodd" d="M0.5,0.7 3.5,1.0 6.5,1.8 9.5,3.3 12.0,5.2 14.0,7.5 15.7,10.5 16.7,13.5 17.0,16.5 16.7,19.5 15.7,22.5 14.0,25.5 12.0,27.8 9.5,29.7 6.5,31.2 3.5,32.0 0.5,32.3 0.0,32.2 0.0,0.8ZM60.5,1.0 64.0,0.8 67.0,1.1 70.0,2.1 72.5,3.4 75.0,5.3 77.0,7.7 78.6,10.5 79.5,13.5 79.9,16.5 79.5,19.5 78.6,22.5 77.2,25.0 75.2,27.5 73.0,29.3 70.0,30.9 67.0,31.9 64.0,32.2 60.5,32.0 57.5,31.2 54.5,29.8 52.0,27.9 49.9,25.5 48.2,22.5 47.2,19.5 46.9,16.5 47.2,13.5 48.2,10.5 49.9,7.5 52.0,5.1 54.5,3.2 57.5,1.8ZM123.5,1.0 126.5,0.7 126.5,32.3 123.5,32.0 120.5,31.3 118.0,30.1 115.5,28.4 113.2,26.0 111.6,23.5 110.5,21.0 109.9,18.0 109.9,15.5 110.4,12.5 111.6,9.5 113.2,7.0 115.5,4.6 117.8,3.0 120.5,1.7ZM31.0,53.0 34.0,53.1 37.0,53.7 40.0,54.9 42.5,56.6 44.9,59.0 46.6,61.5 47.8,64.5 48.4,67.5 48.3,70.5 47.6,73.5 46.2,76.5 44.4,79.0 42.0,81.2 39.5,82.7 36.5,83.8 33.0,84.4 29.5,84.3 26.5,83.6 23.5,82.2 21.0,80.5 18.7,78.0 17.1,75.5 16.0,72.5 15.5,69.5 15.7,66.5 16.4,63.5 17.9,60.5 19.9,58.0 22.2,56.0 25.0,54.4 28.0,53.4ZM93.5,53.0 97.0,53.1 100.0,53.7 103.0,55.0 105.5,56.7 107.8,59.0 109.5,61.5 110.7,64.5 111.3,67.5 111.2,70.5 110.5,73.5 109.1,76.5 107.5,78.8 105.1,81.0 102.5,82.7 99.5,83.8 96.5,84.4 93.0,84.4 90.0,83.8 87.0,82.6 84.5,81.0 82.0,78.5 80.3,76.0 79.0,73.0 78.5,70.0 78.5,67.0 79.2,64.0 80.5,61.0 82.3,58.5 84.5,56.4 87.5,54.6 90.5,53.5ZM0.5,105.1 4.0,105.5 7.0,106.4 10.0,108.0 12.5,110.1 14.4,112.5 15.9,115.5 16.8,118.5 16.9,122.0 0.0,122.0 0.0,105.2ZM60.0,105.5 64.0,105.2 67.5,105.6 71.0,106.9 74.2,109.0 76.6,111.5 77.6,113.0 78.6,115.0 79.7,118.5 79.8,122.0 47.0,122.0 47.1,119.0 47.6,116.5 48.6,114.0 50.2,111.5 52.0,109.5 54.5,107.6 57.0,106.4ZM123.0,105.5 126.5,105.1 126.5,122.0 109.9,122.0 109.9,119.5 110.5,116.5 111.5,114.0 113.1,111.5 115.0,109.4 117.5,107.6 120.0,106.3Z"/>
<path fill="#64bafa" fill-rule="evenodd" d="M0.5,2.2 3.5,2.5 6.0,3.2 8.5,4.4 11.0,6.3 12.9,8.5 14.3,11.0 15.1,13.5 15.4,16.5 15.1,19.5 14.3,22.0 12.9,24.5 11.0,26.7 8.5,28.6 6.0,29.8 3.5,30.5 0.5,30.8 0.0,30.8 0.0,2.2ZM60.5,2.5 63.0,2.2 66.0,2.4 69.0,3.2 71.5,4.5 74.0,6.4 75.8,8.5 77.2,11.0 78.0,13.5 78.3,16.0 78.1,19.0 77.4,21.5 76.1,24.0 74.5,26.1 72.3,28.0 70.0,29.4 67.0,30.4 64.0,30.8 61.0,30.6 58.0,29.9 55.5,28.7 53.2,27.0 51.4,25.0 49.8,22.5 48.8,19.5 48.5,16.5 48.7,14.0 49.6,11.0 51.0,8.5 52.7,6.5 55.0,4.7 57.5,3.3ZM123.5,2.4 126.5,2.2 126.5,30.8 123.5,30.6 121.0,29.9 118.5,28.7 116.5,27.3 114.5,25.3 113.0,23.0 111.9,20.5 111.4,18.0 111.4,15.5 111.8,13.0 112.7,10.5 114.3,8.0 116.1,6.0 118.5,4.3 121.0,3.1ZM30.5,54.4 33.0,54.4 36.0,54.9 38.5,55.8 41.3,57.5 43.4,59.5 45.0,61.7 46.2,64.5 46.8,67.0 46.8,70.0 46.4,72.5 45.4,75.0 43.7,77.5 41.8,79.5 39.5,81.1 37.0,82.2 34.0,82.9 31.0,83.0 28.5,82.6 25.5,81.6 23.0,80.2 21.0,78.4 19.1,76.0 17.9,73.5 17.1,70.5 17.1,67.5 17.5,65.0 18.5,62.5 20.1,60.0 22.0,58.0 24.5,56.3 27.5,55.0ZM93.0,54.5 96.0,54.4 99.0,54.9 101.5,55.9 104.0,57.4 106.0,59.2 107.8,61.5 109.0,64.0 109.7,67.0 109.7,70.0 109.3,72.5 108.3,75.0 106.6,77.5 104.7,79.5 102.5,81.0 100.0,82.1 97.0,82.9 94.0,83.0 91.5,82.7 88.5,81.7 86.0,80.2 84.0,78.5 82.0,76.0 80.8,73.5 80.0,70.5 79.9,68.0 80.4,65.0 81.4,62.5 83.0,60.0 85.0,57.9 87.5,56.2 90.0,55.2ZM0.5,106.6 3.5,106.9 6.5,107.8 9.0,109.1 11.5,111.2 13.3,113.5 14.7,116.5 15.3,119.0 15.4,122.0 0.0,122.0 0.0,106.6ZM60.0,107.0 63.5,106.6 67.0,107.0 70.5,108.3 73.1,110.0 75.5,112.5 77.2,115.5 78.1,118.5 78.3,122.0 48.5,122.0 48.5,119.5 49.0,117.0 50.0,114.5 51.3,112.5 53.0,110.6 55.0,109.1 57.5,107.7ZM123.0,106.9 126.5,106.6 126.5,122.0 111.4,122.0 111.4,119.5 111.9,117.0 112.9,114.5 114.2,112.5 116.0,110.5 118.0,109.0 120.5,107.7Z"/>
<path fill="#2d8212" fill-rule="evenodd" d="M0.5,2.2 3.0,2.4 6.0,3.2 8.5,4.4 11.0,6.3 12.9,8.5 14.3,11.0 15.1,13.5 15.4,16.5 15.1,19.5 14.3,22.0 12.9,24.5 11.0,26.7 8.5,28.6 6.0,29.8 3.0,30.6 0.5,30.8 0.0,30.8 0.0,2.2ZM60.5,2.5 63.0,2.2 66.0,2.4 69.0,3.2 71.5,4.5 74.0,6.4 75.8,8.5 77.2,11.0 78.0,13.5 78.3,16.0 78.1,19.0 77.4,21.5 76.1,24.0 74.5,26.1 72.3,28.0 70.0,29.3 67.0,30.4 64.0,30.8 61.0,30.6 58.0,29.8 55.5,28.6 53.0,26.8 51.0,24.5 49.6,22.0 48.8,19.5 48.5,16.5 48.7,14.0 49.6,11.0 51.0,8.5 52.7,6.5 55.0,4.7 57.5,3.4ZM123.5,2.5 126.5,2.2 126.5,30.8 123.5,30.5 121.0,29.9 118.5,28.7 116.5,27.3 114.5,25.2 113.0,23.0 112.0,20.5 111.5,18.0 111.4,15.5 111.8,13.0 112.8,10.5 114.3,8.0 116.2,6.0 118.5,4.3 121.0,3.1ZM30.5,54.5 33.0,54.4 36.0,54.9 38.5,55.8 41.2,57.5 43.4,59.5 44.8,61.5 46.0,64.0 46.8,67.0 46.8,70.0 46.3,72.5 45.3,75.0 43.7,77.5 41.7,79.5 39.5,81.0 37.0,82.2 34.0,82.9 31.0,83.0 28.5,82.6 25.5,81.6 23.0,80.1 21.0,78.4 19.1,76.0 17.9,73.5 17.1,70.5 17.1,67.5 17.5,65.0 18.5,62.5 20.1,60.0 22.1,58.0 24.5,56.3 27.5,55.1ZM93.5,54.5 96.5,54.5 99.5,55.1 102.0,56.1 104.5,57.8 106.5,59.8 108.0,62.0 109.1,64.5 109.7,67.5 109.7,70.5 109.1,73.0 108.0,75.5 106.5,77.6 104.5,79.6 102.0,81.3 99.5,82.3 96.5,82.9 93.5,82.9 90.5,82.4 88.0,81.4 85.5,79.8 83.5,78.0 81.7,75.5 80.6,73.0 80.0,70.0 80.0,67.0 80.6,64.5 81.7,62.0 83.4,59.5 85.5,57.6 88.0,56.0 90.5,55.0ZM0.5,106.6 3.5,106.9 6.5,107.8 9.0,109.1 11.5,111.2 13.3,113.5 14.7,116.5 15.3,119.0 15.4,122.0 0.0,122.0 0.0,106.6ZM60.0,107.0 63.5,106.6 67.0,107.0 70.0,108.1 73.1,110.0 75.5,112.5 77.2,115.5 78.1,118.5 78.3,122.0 48.5,122.0 48.5,119.5 49.0,117.0 50.1,114.5 51.3,112.5 53.0,110.6 55.0,109.1 57.5,107.8ZM123.0,107.0 126.5,106.6 126.5,122.0 111.4,122.0 111.4,119.5 111.9,117.0 113.0,114.5 114.2,112.5 116.0,110.6 118.0,109.0 120.5,107.7Z"/>
<path fill="#308713" fill-rule="evenodd" d="M0.5,3.6 3.0,3.8 5.5,4.5 8.0,5.8 10.0,7.4 11.8,9.5 12.9,11.5 13.7,14.0 14.0,16.5 13.7,19.0 12.9,21.5 11.8,23.5 10.0,25.6 8.0,27.2 5.5,28.5 3.0,29.2 0.5,29.4 0.0,29.4 0.0,3.6ZM60.5,3.9 63.0,3.6 65.5,3.8 68.0,4.4 70.5,5.5 72.5,7.0 74.3,9.0 75.6,11.0 76.5,13.5 76.9,16.0 76.7,18.5 76.0,21.0 75.0,23.0 73.5,25.0 71.5,26.8 69.5,28.0 67.0,28.9 64.5,29.4 61.5,29.3 59.0,28.7 56.5,27.6 54.3,26.0 52.5,24.1 51.2,22.0 50.3,19.5 49.9,17.0 50.1,14.5 50.8,12.0 52.1,9.5 53.8,7.5 55.6,6.0 58.0,4.7ZM123.0,4.0 126.5,3.6 126.5,29.4 124.0,29.2 121.5,28.6 119.5,27.6 117.5,26.3 115.7,24.5 114.4,22.5 113.5,20.5 112.9,18.0 112.8,16.0 113.2,13.5 114.1,11.0 115.4,9.0 116.7,7.5 118.5,6.0 120.5,4.9ZM30.0,55.9 33.0,55.8 35.5,56.3 38.0,57.2 40.0,58.4 41.9,60.0 43.4,62.0 44.5,64.0 45.2,66.5 45.4,69.0 45.1,71.5 44.2,74.0 43.0,76.0 41.5,77.8 39.5,79.4 37.0,80.7 34.5,81.4 32.0,81.6 29.5,81.4 27.0,80.7 24.5,79.4 22.5,77.9 20.9,76.0 19.5,73.5 18.7,71.0 18.5,68.5 18.8,66.0 19.6,63.5 21.0,61.2 23.0,59.1 25.0,57.7 27.5,56.5ZM93.0,55.9 96.0,55.8 98.5,56.3 101.0,57.2 103.0,58.4 105.0,60.2 106.5,62.2 107.6,64.5 108.2,67.0 108.3,69.5 107.9,72.0 106.9,74.5 105.6,76.5 104.0,78.2 102.0,79.6 99.5,80.8 97.0,81.4 94.5,81.6 92.0,81.3 89.5,80.5 87.0,79.2 85.0,77.5 83.4,75.5 82.2,73.0 81.5,70.5 81.4,68.0 81.8,65.5 82.8,63.0 84.1,61.0 86.0,59.0 88.0,57.6 90.5,56.5ZM0.5,108.0 3.5,108.3 6.0,109.1 8.5,110.5 10.5,112.3 12.2,114.5 13.3,117.0 13.9,119.5 13.9,122.0 0.0,122.0 0.0,108.0ZM60.0,108.4 63.0,108.0 66.5,108.3 69.5,109.4 72.0,111.0 74.4,113.5 75.9,116.0 76.7,119.0 76.8,122.0 50.0,122.0 50.0,119.5 50.4,117.5 51.2,115.5 52.4,113.5 53.7,112.0 55.5,110.5 57.5,109.3ZM123.0,108.4 126.5,108.0 126.5,122.0 112.9,122.0 112.9,120.0 113.3,117.5 114.1,115.5 115.3,113.5 116.6,112.0 118.5,110.4 120.5,109.3Z"/>
<path fill="#338b15" fill-rule="evenodd" d="M0.5,4.9 3.0,5.2 5.0,5.7 7.0,6.7 9.0,8.2 10.5,10.0 11.7,12.0 12.3,14.0 12.6,16.5 12.3,19.0 11.7,21.0 10.5,23.0 9.0,24.8 7.0,26.3 5.0,27.3 3.0,27.8 0.5,28.1 0.0,28.1 0.0,4.9ZM62.0,5.0 64.0,4.9 66.5,5.3 69.0,6.2 71.0,7.5 72.6,9.0 74.1,11.0 74.9,13.0 75.4,15.0 75.5,17.5 75.1,19.5 74.3,21.5 73.0,23.5 71.5,25.1 69.5,26.5 67.5,27.4 65.0,28.0 63.0,28.1 60.5,27.8 58.0,26.9 56.0,25.7 54.2,24.0 53.0,22.4 52.0,20.5 51.4,18.0 51.3,15.5 51.7,13.5 52.5,11.5 53.8,9.5 55.5,7.7 57.5,6.4 59.5,5.5ZM125.0,5.0 126.5,4.9 126.5,28.1 124.0,27.9 122.0,27.3 120.0,26.4 118.0,24.9 116.5,23.3 115.4,21.5 114.6,19.5 114.2,17.0 114.3,15.0 114.8,13.0 115.6,11.0 117.1,9.0 118.7,7.5 120.5,6.3 122.5,5.5ZM29.0,57.5 31.0,57.1 33.5,57.2 36.0,57.8 38.0,58.7 40.0,60.0 41.4,61.5 42.8,63.5 43.6,65.5 44.0,67.5 44.0,70.0 43.6,72.0 42.7,74.0 41.4,76.0 39.8,77.5 38.0,78.7 35.5,79.8 33.0,80.3 30.5,80.2 28.0,79.7 26.0,78.8 24.1,77.5 22.5,76.0 21.2,74.0 20.3,72.0 19.9,70.0 19.9,67.5 20.5,65.0 21.4,63.0 22.9,61.0 24.6,59.5 26.5,58.3ZM92.0,57.4 94.0,57.1 96.5,57.2 99.0,57.8 101.0,58.7 102.9,60.0 104.3,61.5 105.7,63.5 106.5,65.5 106.9,67.5 106.9,70.0 106.5,72.0 105.6,74.0 104.3,76.0 102.7,77.5 101.0,78.7 98.5,79.8 96.0,80.2 93.5,80.2 91.0,79.7 89.0,78.9 87.0,77.5 85.4,76.0 84.1,74.0 83.2,72.0 82.8,70.0 82.8,67.5 83.4,65.0 84.3,63.0 85.8,61.0 87.5,59.5 89.5,58.3ZM0.5,109.3 3.0,109.6 5.5,110.3 7.6,111.5 9.5,113.1 10.9,115.0 12.1,117.5 12.6,120.0 12.5,122.0 0.0,122.0 0.0,109.3ZM61.5,109.4 64.5,109.3 67.0,109.8 69.5,110.9 71.7,112.5 73.5,114.5 74.8,117.0 75.4,119.5 75.4,122.0 51.3,122.0 51.3,120.0 51.7,118.0 52.4,116.0 53.7,114.0 55.1,112.5 57.0,111.1 59.0,110.1ZM124.5,109.4 126.5,109.3 126.5,122.0 114.2,122.0 114.2,120.0 114.6,118.0 115.3,116.0 116.6,114.0 118.0,112.5 120.0,111.0 122.0,110.1Z"/>
<path fill="#3a941b" fill-rule="evenodd" d="M0.5,6.0 2.5,6.2 4.5,6.8 6.5,7.8 8.1,9.0 9.4,10.5 10.6,12.5 11.2,14.5 11.4,16.5 11.2,18.5 10.6,20.5 9.4,22.5 8.1,24.0 6.5,25.2 4.5,26.2 2.5,26.8 0.5,27.0 0.0,27.0 0.0,6.0ZM60.5,6.4 62.5,6.1 64.5,6.1 66.5,6.5 68.5,7.2 70.4,8.5 72.0,10.0 73.0,11.5 73.9,13.5 74.3,15.5 74.3,17.5 73.9,19.5 73.3,21.0 72.0,22.9 70.5,24.4 69.0,25.5 67.0,26.4 65.0,26.9 62.5,26.9 60.5,26.6 58.5,25.9 56.5,24.6 55.0,23.2 53.8,21.5 52.9,19.5 52.5,17.5 52.5,15.5 52.9,13.5 53.8,11.5 55.0,9.8 56.5,8.4 58.5,7.1ZM123.5,6.4 126.5,6.0 126.5,27.0 124.5,26.8 122.5,26.3 121.0,25.6 119.3,24.5 117.7,23.0 116.7,21.5 116.0,20.0 115.5,18.0 115.4,16.0 115.7,14.0 116.4,12.0 117.4,10.5 118.5,9.2 120.0,8.0 121.5,7.1ZM30.0,58.4 32.0,58.2 34.0,58.4 36.0,59.0 38.0,60.0 39.5,61.1 41.0,62.8 42.0,64.5 42.6,66.5 42.9,68.5 42.7,70.5 42.1,72.5 41.0,74.5 39.8,76.0 38.0,77.4 36.5,78.2 34.5,78.9 32.0,79.2 30.0,79.0 28.0,78.5 26.0,77.5 24.5,76.3 23.0,74.7 22.0,73.0 21.3,71.0 21.0,69.0 21.2,67.0 21.7,65.0 22.8,63.0 24.0,61.5 26.0,59.9 28.0,58.9ZM92.5,58.5 94.5,58.2 96.5,58.4 98.5,58.8 100.5,59.7 102.2,61.0 103.6,62.5 104.9,64.5 105.5,66.5 105.8,68.5 105.6,70.5 105.0,72.5 104.3,74.0 103.0,75.7 101.5,77.0 99.5,78.2 97.5,78.9 95.0,79.2 93.0,79.0 91.0,78.5 89.0,77.5 87.5,76.4 86.0,74.8 84.9,73.0 84.2,71.0 83.9,69.0 84.1,67.0 84.6,65.0 85.7,63.0 86.9,61.5 88.5,60.2 90.5,59.1ZM0.5,110.4 3.0,110.7 5.0,111.4 7.0,112.5 8.7,114.0 9.9,115.5 10.8,117.5 11.3,119.5 11.4,122.0 0.0,122.0 0.0,110.4ZM62.5,110.5 65.0,110.5 67.0,111.0 69.1,112.0 71.1,113.5 72.8,115.5 73.7,117.5 74.2,119.5 74.3,122.0 52.5,122.0 52.5,120.0 52.9,118.0 53.8,116.0 55.0,114.2 56.5,112.8 58.5,111.5 60.5,110.8ZM125.5,110.5 126.5,110.4 126.5,122.0 115.4,122.0 115.4,120.0 115.8,118.0 116.7,116.0 118.0,114.1 119.5,112.7 121.5,111.5 123.5,110.8Z"/>
<path fill="#419c21" fill-rule="evenodd" d="M0.5,7.0 2.5,7.2 4.5,7.8 6.0,8.6 7.5,9.8 8.9,11.5 9.7,13.0 10.2,14.5 10.4,16.5 10.2,18.5 9.7,20.0 8.9,21.5 7.5,23.2 6.0,24.4 4.5,25.2 2.5,25.8 0.5,26.0 0.0,26.0 0.0,7.0ZM60.5,7.5 62.5,7.1 64.5,7.1 66.5,7.5 68.0,8.1 69.5,9.1 71.0,10.5 72.1,12.0 72.8,13.5 73.2,15.0 73.3,17.0 72.9,19.0 72.4,20.5 71.4,22.0 70.0,23.5 68.5,24.6 67.0,25.3 65.0,25.8 63.0,26.0 61.0,25.7 59.5,25.2 57.5,24.1 56.2,23.0 55.0,21.5 54.0,19.5 53.6,17.5 53.6,15.5 54.0,13.5 54.7,12.0 55.8,10.5 57.0,9.3 58.5,8.3ZM123.5,7.4 126.5,7.0 126.5,26.0 124.5,25.8 123.0,25.4 121.5,24.8 120.0,23.8 118.7,22.5 117.6,21.0 116.9,19.5 116.5,18.0 116.4,16.5 116.6,14.5 117.1,13.0 117.9,11.5 119.0,10.1 120.3,9.0 122.0,8.0ZM30.0,59.4 32.0,59.2 34.0,59.4 36.0,60.1 37.5,60.9 39.0,62.1 40.2,63.5 41.0,65.0 41.6,66.5 41.8,68.0 41.7,70.0 41.2,72.0 40.5,73.5 39.3,75.0 38.0,76.2 36.5,77.1 34.5,77.8 32.5,78.2 30.5,78.1 28.5,77.6 27.0,76.9 25.5,75.9 24.1,74.5 23.2,73.0 22.4,71.0 22.1,69.0 22.2,67.0 22.9,65.0 23.7,63.5 25.0,62.0 26.5,60.8 28.0,60.0ZM93.0,59.4 95.0,59.2 97.0,59.5 99.0,60.1 100.5,60.9 102.0,62.2 103.1,63.5 103.9,65.0 104.6,67.0 104.7,69.0 104.5,70.5 103.9,72.5 103.0,74.0 102.0,75.2 100.5,76.5 99.0,77.3 97.0,77.9 95.0,78.2 93.0,78.0 91.0,77.4 89.5,76.7 88.0,75.5 86.7,74.0 85.8,72.5 85.2,70.5 85.0,68.5 85.1,67.0 85.8,65.0 86.6,63.5 87.9,62.0 89.5,60.7 91.0,60.0ZM0.5,111.4 2.5,111.6 4.5,112.2 6.5,113.4 7.8,114.5 8.9,116.0 9.9,118.0 10.3,120.0 10.3,122.0 0.0,122.0 0.0,111.4ZM62.5,111.5 65.0,111.6 67.0,112.1 69.0,113.1 70.5,114.3 71.9,116.0 72.8,118.0 73.2,120.0 73.2,122.0 53.6,122.0 53.6,120.0 53.8,118.5 54.7,116.5 55.7,115.0 57.0,113.7 58.5,112.7 60.5,111.9ZM125.5,111.5 126.5,111.4 126.5,122.0 116.5,122.0 116.4,120.5 116.7,118.5 117.6,116.5 118.6,115.0 120.0,113.6 121.5,112.6 123.5,111.8Z"/>
<path fill="#55ad30" fill-rule="evenodd" d="M0.5,7.9 2.5,8.1 4.0,8.6 5.5,9.4 6.9,10.5 8.1,12.0 8.9,13.5 9.3,15.0 9.5,16.5 9.3,18.0 8.9,19.5 8.1,21.0 6.9,22.5 5.5,23.6 4.0,24.4 2.5,24.9 0.5,25.1 0.0,25.1 0.0,7.9ZM62.5,8.0 64.0,7.9 66.0,8.3 67.5,8.9 69.0,9.8 70.3,11.0 71.3,12.5 72.0,14.0 72.3,15.5 72.3,17.5 72.0,19.0 71.3,20.5 70.5,21.7 69.5,22.8 68.0,23.9 66.5,24.5 64.5,25.0 63.0,25.1 61.0,24.8 59.5,24.2 58.0,23.3 57.0,22.5 55.8,21.0 55.0,19.5 54.5,17.5 54.5,16.0 54.8,14.0 55.5,12.5 56.5,11.0 57.6,10.0 59.0,9.0 60.5,8.4ZM125.5,8.0 126.5,7.9 126.5,25.1 125.0,25.0 123.5,24.6 122.0,24.0 120.5,23.0 119.4,22.0 118.4,20.5 117.7,19.0 117.4,17.0 117.4,15.5 117.7,14.0 118.4,12.5 119.5,10.9 120.5,10.0 122.0,9.0 123.5,8.4ZM29.5,60.4 31.0,60.2 33.0,60.2 34.5,60.5 36.0,61.0 37.5,62.0 38.6,63.0 39.8,64.5 40.4,66.0 40.8,67.5 40.9,69.5 40.6,71.0 40.0,72.5 39.0,74.0 38.0,75.0 36.5,76.1 35.0,76.8 33.5,77.2 31.5,77.3 29.5,77.0 28.0,76.4 26.5,75.5 25.4,74.5 24.2,73.0 23.5,71.5 23.1,70.0 23.0,68.0 23.3,66.5 24.0,64.8 25.0,63.3 26.4,62.0 28.0,61.0ZM92.5,60.4 94.0,60.2 96.0,60.2 98.0,60.7 99.5,61.4 101.0,62.5 102.0,63.5 102.9,65.0 103.5,66.5 103.8,68.0 103.7,70.0 103.3,71.5 102.6,73.0 101.5,74.4 100.5,75.4 99.0,76.3 97.5,76.9 96.0,77.2 94.0,77.2 92.0,76.8 90.5,76.2 89.0,75.2 87.8,74.0 86.8,72.5 86.2,71.0 85.9,69.0 86.0,67.5 86.4,66.0 87.0,64.5 88.2,63.0 89.5,61.8 91.0,61.0ZM0.5,112.3 2.5,112.5 4.0,113.0 5.5,113.8 7.0,115.0 8.2,116.5 8.9,118.0 9.4,120.0 9.4,122.0 0.0,122.0 0.0,112.3ZM62.0,112.4 64.0,112.3 66.0,112.7 68.0,113.5 69.5,114.6 70.7,116.0 71.8,118.0 72.3,120.0 72.3,122.0 54.5,122.0 54.5,120.5 54.7,119.0 55.2,117.5 56.1,116.0 57.0,114.9 58.5,113.7 60.0,113.0ZM124.5,112.5 126.5,112.3 126.5,122.0 117.4,122.0 117.4,120.5 117.6,119.0 118.1,117.5 119.0,116.0 120.0,114.8 121.5,113.7 123.0,112.9Z"/>
<path fill="#6dbe41" fill-rule="evenodd" d="M0.5,8.7 2.0,8.8 3.5,9.3 5.0,10.0 6.2,11.0 7.1,12.0 8.0,13.5 8.5,15.0 8.6,16.5 8.5,18.0 8.0,19.5 7.1,21.0 6.2,22.0 5.0,23.0 3.5,23.7 2.0,24.2 0.5,24.3 0.0,24.3 0.0,8.7ZM61.5,8.9 63.0,8.7 64.5,8.8 66.0,9.1 67.5,9.8 69.0,10.9 70.0,12.0 70.7,13.0 71.3,14.5 71.5,16.0 71.5,17.5 71.1,19.0 70.4,20.5 69.5,21.6 68.5,22.6 67.0,23.5 65.5,24.0 64.0,24.3 62.5,24.2 61.0,23.9 59.5,23.3 58.0,22.3 57.0,21.3 56.1,20.0 55.5,18.5 55.3,17.0 55.3,15.5 55.7,14.0 56.4,12.5 57.5,11.1 58.5,10.3 60.0,9.4ZM124.5,8.9 126.5,8.7 126.5,24.3 125.0,24.2 123.5,23.8 122.0,23.1 121.0,22.4 120.0,21.4 119.0,20.0 118.2,17.5 118.2,16.0 118.4,14.5 119.0,13.0 119.7,12.0 120.6,11.0 121.8,10.0 123.0,9.4ZM31.0,61.0 32.5,60.9 34.0,61.2 35.5,61.7 37.0,62.6 38.0,63.5 39.1,65.0 39.7,66.5 40.0,68.0 40.0,69.5 39.7,71.0 39.0,72.5 38.3,73.5 37.4,74.5 36.0,75.4 34.5,76.1 33.0,76.4 31.5,76.5 30.0,76.3 28.5,75.8 27.0,74.9 26.0,74.0 24.9,72.5 24.2,71.0 23.9,69.5 23.9,68.0 24.2,66.5 24.8,65.0 25.5,64.0 26.5,62.9 28.0,61.9 29.5,61.3ZM94.0,61.0 95.5,60.9 97.0,61.2 98.5,61.7 99.8,62.5 100.9,63.5 101.7,64.5 102.5,66.0 102.9,67.5 103.0,69.0 102.8,70.5 102.2,72.0 101.2,73.5 100.3,74.5 99.0,75.4 97.5,76.1 96.0,76.4 94.5,76.5 93.0,76.3 91.5,75.8 90.0,74.9 88.9,74.0 87.8,72.5 87.1,71.0 86.8,69.5 86.8,68.0 87.1,66.5 87.7,65.0 88.5,63.8 89.5,62.8 91.0,61.8 92.5,61.2ZM0.5,113.1 2.5,113.4 4.0,113.9 5.5,114.8 6.5,115.7 7.5,117.0 8.2,118.5 8.6,120.5 8.5,122.0 0.0,122.0 0.0,113.1ZM61.0,113.5 63.0,113.1 65.0,113.3 67.0,113.9 68.7,115.0 70.1,116.5 70.9,118.0 71.5,120.0 71.4,122.0 55.4,122.0 55.4,119.5 55.9,118.0 56.5,116.8 57.5,115.5 58.5,114.7ZM124.0,113.4 126.5,113.1 126.5,122.0 118.3,122.0 118.2,120.5 118.4,119.0 119.5,116.6 120.4,115.5 121.5,114.6Z"/>
<path fill="#82ce50" fill-rule="evenodd" d="M0.5,9.4 2.0,9.6 3.5,10.0 5.7,11.5 6.6,12.5 7.4,14.0 7.9,16.5 7.4,19.0 6.6,20.5 5.7,21.5 3.5,23.0 2.0,23.4 0.5,23.6 0.0,23.6 0.0,9.4ZM62.5,9.5 64.0,9.4 65.5,9.7 67.0,10.3 68.0,11.0 69.0,11.9 69.8,13.0 70.3,14.0 70.7,15.5 70.6,18.0 70.1,19.5 69.5,20.5 68.5,21.6 67.3,22.5 66.0,23.1 64.5,23.5 63.0,23.6 61.5,23.3 60.0,22.8 59.0,22.2 58.0,21.3 57.0,20.0 56.5,19.0 56.1,17.5 56.0,16.0 56.3,14.5 57.5,12.3 58.5,11.2 59.5,10.5 61.0,9.8ZM125.5,9.5 126.5,9.4 126.5,23.6 124.0,23.2 122.5,22.6 121.5,21.9 120.5,20.9 119.6,19.5 119.2,18.5 118.9,17.0 119.2,14.5 119.9,13.0 120.6,12.0 121.7,11.0 123.0,10.2ZM30.0,61.9 31.5,61.6 33.0,61.7 35.5,62.5 37.5,64.0 38.2,65.0 39.0,66.5 39.3,68.0 39.3,69.5 38.5,72.0 37.8,73.0 36.8,74.0 34.5,75.3 33.0,75.7 31.5,75.8 29.0,75.2 27.7,74.5 26.5,73.5 25.7,72.5 25.0,71.0 24.6,69.5 24.6,68.0 24.9,66.5 25.4,65.5 26.4,64.0 27.5,63.1 28.5,62.4ZM92.5,62.0 94.0,61.7 95.5,61.7 98.0,62.3 99.2,63.0 100.4,64.0 101.1,65.0 101.9,66.5 102.2,69.0 101.6,71.5 101.0,72.6 100.0,73.8 99.0,74.5 97.5,75.3 96.0,75.7 94.5,75.8 92.0,75.2 90.5,74.4 89.4,73.5 88.6,72.5 87.9,71.0 87.5,69.5 87.5,68.0 87.8,66.5 88.3,65.5 89.0,64.4 90.0,63.4 91.0,62.7ZM0.5,113.8 2.0,114.0 3.5,114.4 5.0,115.3 6.0,116.2 7.0,117.5 7.6,119.0 7.9,120.5 7.8,122.0 0.0,122.0 0.0,113.8ZM62.0,114.0 64.0,113.8 65.5,114.1 67.0,114.7 68.5,115.8 69.6,117.0 70.3,118.5 70.7,120.0 70.7,122.0 56.1,122.0 56.2,119.5 56.7,118.0 57.2,117.0 58.1,116.0 59.3,115.0 60.5,114.4ZM125.0,113.9 126.5,113.8 126.5,122.0 119.0,122.0 119.1,119.5 119.6,118.0 120.1,117.0 121.0,116.0 122.2,115.0 123.5,114.4Z"/>
<path fill="#9cd85b" fill-rule="evenodd" d="M0.5,10.1 3.0,10.5 4.0,11.0 5.3,12.0 6.7,14.0 7.1,15.5 7.2,16.5 7.1,17.5 6.7,19.0 5.3,21.0 4.0,22.0 3.0,22.5 0.5,22.9 0.0,22.9 0.0,10.1ZM61.0,10.5 63.5,10.1 66.0,10.6 67.0,11.1 68.2,12.0 69.6,14.0 69.9,15.0 70.1,16.5 69.9,18.0 69.6,19.0 68.2,21.0 67.0,21.9 66.0,22.4 63.5,22.9 61.0,22.5 59.5,21.7 58.6,21.0 57.2,19.0 56.9,18.0 56.7,16.5 56.9,15.0 57.2,14.0 58.6,12.0 59.5,11.3ZM124.0,10.5 126.5,10.1 126.5,22.9 124.0,22.5 122.0,21.4 121.1,20.5 120.4,19.5 119.7,17.5 119.7,15.5 120.5,13.3 122.0,11.6ZM30.5,62.4 33.0,62.3 34.5,62.8 35.5,63.2 36.5,64.0 37.4,65.0 38.0,66.0 38.5,67.5 38.7,69.0 38.5,70.0 37.7,72.0 36.0,73.8 35.0,74.4 33.5,75.0 31.0,75.1 29.5,74.7 28.5,74.2 27.5,73.5 26.5,72.5 25.9,71.5 25.4,70.0 25.2,69.0 25.4,67.5 25.9,66.0 26.5,65.0 28.0,63.5 29.0,62.9ZM93.5,62.4 96.0,62.4 97.5,62.8 98.5,63.3 100.3,65.0 101.3,67.0 101.6,68.5 101.5,69.5 101.1,71.0 100.6,72.0 99.0,73.7 98.0,74.4 96.5,74.9 94.0,75.1 92.5,74.7 91.5,74.3 90.4,73.5 89.4,72.5 88.8,71.5 88.3,70.0 88.1,69.0 88.3,67.5 88.8,66.0 89.4,65.0 91.0,63.4 92.0,62.9ZM0.5,114.5 2.0,114.6 3.2,115.0 4.5,115.7 5.5,116.6 6.2,117.5 6.9,119.0 7.2,120.5 7.1,122.0 0.0,122.0 0.0,114.5ZM63.0,114.5 64.5,114.6 66.0,115.0 67.0,115.5 68.3,116.5 69.1,117.5 69.8,119.0 70.1,120.5 70.0,122.0 56.8,122.0 56.7,120.5 56.9,119.5 57.4,118.0 58.1,117.0 59.1,116.0 60.5,115.1ZM126.0,114.5 126.5,114.5 126.5,122.0 119.7,122.0 119.6,120.5 119.8,119.5 120.3,118.0 121.0,117.0 122.0,116.0 123.0,115.3 124.5,114.7Z"/>
<path fill="#b5e166" fill-rule="evenodd" d="M0.5,10.7 2.0,10.8 3.0,11.2 4.9,12.5 5.7,13.5 6.2,14.5 6.6,16.5 6.2,18.5 5.7,19.5 4.9,20.5 3.0,21.8 2.0,22.2 0.5,22.3 0.0,22.3 0.0,10.7ZM61.5,11.0 62.5,10.7 64.0,10.7 66.0,11.2 67.8,12.5 68.6,13.5 69.1,14.5 69.4,15.5 69.5,17.0 68.9,19.0 67.5,20.8 65.5,22.0 64.5,22.2 63.0,22.3 61.0,21.9 60.0,21.3 59.0,20.5 58.2,19.5 57.7,18.5 57.4,17.5 57.3,16.0 57.9,14.0 58.5,13.0 59.5,12.0ZM124.5,10.9 126.5,10.7 126.5,22.3 124.5,22.1 122.5,21.1 121.1,19.5 120.3,17.5 120.3,15.5 121.1,13.5 122.5,11.9ZM31.0,62.9 32.5,62.9 33.5,63.1 35.5,64.0 37.0,65.5 37.9,67.5 38.0,68.5 37.9,70.0 37.0,72.0 35.4,73.5 34.0,74.2 33.0,74.4 30.5,74.4 28.5,73.5 26.9,72.0 26.4,71.0 25.9,69.5 26.0,67.5 26.3,66.5 27.0,65.3 28.0,64.3 29.0,63.6ZM94.0,62.9 95.5,62.9 96.5,63.1 98.5,64.0 99.9,65.5 100.8,67.5 100.9,69.0 100.8,70.0 99.9,72.0 99.0,73.0 98.0,73.7 96.0,74.4 93.5,74.4 91.4,73.5 89.8,72.0 89.3,71.0 88.8,69.5 88.8,68.0 89.0,67.0 90.0,65.2 91.0,64.2 92.0,63.5ZM0.5,115.1 2.0,115.2 3.0,115.6 4.0,116.1 5.0,117.0 5.8,118.0 6.4,119.5 6.6,121.0 6.5,122.0 0.0,122.0 0.0,115.1ZM61.5,115.4 63.0,115.1 64.5,115.2 66.0,115.6 67.4,116.5 68.4,117.5 69.2,119.0 69.5,120.5 69.4,122.0 57.4,122.0 57.4,120.0 58.1,118.0 59.5,116.4ZM124.0,115.5 125.0,115.2 126.5,115.1 126.5,122.0 120.3,122.0 120.3,120.0 121.0,118.0 122.3,116.5Z"/>
<path fill="#cbe76c" fill-rule="evenodd" d="M0.5,11.2 2.5,11.6 3.5,12.1 4.5,12.9 5.6,14.5 6.0,16.5 5.6,18.5 4.5,20.1 3.5,20.9 2.5,21.4 0.5,21.8 0.0,21.8 0.0,11.2ZM62.0,11.4 64.0,11.2 66.0,11.8 67.5,13.0 68.3,14.0 68.7,15.0 68.9,17.0 68.3,19.0 67.0,20.5 65.0,21.6 63.0,21.8 61.0,21.3 59.3,20.0 58.5,19.0 58.1,18.0 57.9,16.0 58.5,14.0 60.0,12.3ZM124.5,11.5 126.5,11.2 126.5,21.8 124.5,21.5 123.0,20.7 121.8,19.5 120.9,17.5 120.9,15.5 121.4,14.0 122.7,12.5ZM31.0,63.5 33.0,63.5 35.0,64.3 36.5,65.7 37.3,67.5 37.4,69.5 36.6,71.5 35.0,73.1 33.0,73.9 31.0,73.9 30.0,73.7 28.7,73.0 27.3,71.5 26.5,69.5 26.6,67.5 27.5,65.6 29.0,64.2ZM94.0,63.5 96.0,63.5 98.0,64.4 99.5,65.9 100.2,67.5 100.3,69.5 99.5,71.5 98.0,73.0 96.0,73.9 94.5,74.0 93.5,73.8 91.6,73.0 90.2,71.5 89.4,69.5 89.5,67.5 89.8,66.5 90.5,65.5 92.0,64.2ZM0.5,115.6 2.0,115.8 3.0,116.2 4.7,117.5 5.4,118.5 5.8,119.5 6.0,121.0 5.9,122.0 0.0,122.0 0.0,115.6ZM61.5,115.9 63.0,115.6 64.5,115.7 66.0,116.2 67.0,116.9 68.0,118.0 68.6,119.0 68.9,120.5 68.8,122.0 58.0,122.0 58.0,120.0 58.5,118.5 59.7,117.0ZM124.5,115.9 126.5,115.6 126.5,122.0 120.9,122.0 120.9,120.0 121.5,118.3 122.6,117.0Z"/>
<path fill="#dbe463" fill-rule="evenodd" d="M0.5,11.7 2.5,12.1 4.0,13.1 5.0,14.5 5.5,16.5 5.0,18.5 4.0,19.9 2.5,20.9 0.5,21.3 0.0,21.3 0.0,11.7ZM62.0,11.9 64.0,11.8 65.5,12.2 67.0,13.2 67.7,14.0 68.1,15.0 68.4,17.0 67.9,18.5 66.8,20.0 65.0,21.0 63.0,21.3 61.0,20.7 59.5,19.5 58.7,18.0 58.4,16.0 59.0,14.3 60.0,13.0 61.0,12.3ZM125.0,11.9 126.5,11.7 126.5,21.3 124.5,21.0 123.0,20.1 121.8,18.5 121.3,17.0 121.4,15.5 122.0,14.0 123.5,12.5ZM31.5,63.9 33.5,64.2 35.0,64.9 36.4,66.5 36.9,68.0 36.8,70.0 36.0,71.5 34.5,72.8 32.5,73.5 30.5,73.3 28.9,72.5 27.6,71.0 27.1,70.0 27.0,69.0 27.3,67.0 28.2,65.5 29.6,64.5ZM94.0,64.0 96.0,64.0 97.5,64.7 99.0,66.0 99.7,67.5 99.8,69.5 99.2,71.0 97.9,72.5 96.0,73.4 94.0,73.4 92.0,72.6 91.2,72.0 90.5,71.0 89.9,69.5 90.0,67.5 90.7,66.0 92.0,64.8ZM0.5,116.1 2.5,116.5 3.5,117.1 4.5,118.0 5.1,119.0 5.4,120.0 5.4,122.0 0.0,122.0 0.0,116.1ZM61.5,116.5 62.5,116.2 64.0,116.2 65.5,116.6 66.5,117.2 67.5,118.2 68.2,119.5 68.4,120.5 68.3,122.0 58.5,122.0 58.4,120.5 59.0,118.7 60.0,117.4ZM124.5,116.4 126.5,116.1 126.5,122.0 121.4,122.0 121.4,120.0 122.0,118.5 123.0,117.3Z"/>
<path fill="#eae05b" fill-rule="evenodd" d="M0.5,12.2 2.1,12.5 3.7,13.5 4.7,15.0 5.0,16.5 4.7,18.0 3.7,19.5 2.1,20.5 0.5,20.8 0.0,20.8 0.0,12.2ZM62.0,12.4 64.0,12.2 65.5,12.7 66.6,13.5 67.6,15.0 67.9,16.5 67.5,18.2 66.5,19.6 65.0,20.5 63.0,20.8 61.5,20.4 60.2,19.5 59.2,18.0 58.9,17.0 58.9,16.0 59.4,14.5 60.5,13.2ZM125.0,12.4 126.5,12.2 126.5,20.8 125.0,20.6 123.5,19.9 122.3,18.5 121.8,17.0 121.9,15.5 122.7,14.0 123.7,13.0ZM31.5,64.4 33.0,64.5 34.5,65.2 35.8,66.5 36.4,68.0 36.4,69.5 36.0,70.5 35.5,71.3 34.0,72.5 32.5,73.0 30.5,72.8 29.1,72.0 27.9,70.5 27.5,69.0 27.6,67.5 28.5,66.0 30.0,64.8ZM94.0,64.5 95.5,64.5 97.1,65.0 98.3,66.0 99.2,67.5 99.3,68.5 99.3,69.5 98.6,71.0 97.5,72.2 96.0,72.9 94.0,72.9 92.5,72.4 91.1,71.0 90.4,69.5 90.4,68.0 91.0,66.5 92.5,65.0ZM0.5,116.6 2.5,117.1 4.0,118.2 4.9,120.0 5.0,121.0 4.8,122.0 0.0,122.0 0.0,116.6ZM62.0,116.8 63.0,116.6 64.5,116.7 65.5,117.1 66.5,117.8 67.1,118.5 67.6,119.5 67.9,120.5 67.7,122.0 59.1,122.0 58.9,120.5 59.4,119.0 60.5,117.6ZM124.5,117.0 126.5,116.6 126.5,122.0 122.0,122.0 121.8,120.5 122.3,119.0 123.0,118.0Z"/>
<path fill="#edc341" fill-rule="evenodd" d="M0.5,12.7 2.0,13.0 3.5,14.0 4.2,15.0 4.5,16.5 4.2,18.0 3.5,19.0 2.0,20.0 0.5,20.3 0.0,20.3 0.0,12.7ZM62.0,12.9 63.5,12.7 65.0,13.0 66.4,14.0 67.1,15.0 67.4,16.5 67.1,18.0 66.4,19.0 65.0,20.0 63.5,20.3 62.0,20.1 60.5,19.1 59.7,18.0 59.4,16.5 59.7,15.0 60.5,13.9ZM125.0,12.9 126.5,12.7 126.5,20.3 125.0,20.1 123.8,19.5 122.9,18.5 122.3,17.0 122.4,15.5 122.9,14.5 123.8,13.5ZM31.0,65.0 32.5,64.9 34.0,65.4 35.0,66.2 35.7,67.5 35.9,69.0 35.5,70.5 34.5,71.6 33.0,72.4 31.5,72.5 30.0,72.0 28.8,71.0 28.0,69.5 28.0,68.0 28.7,66.5 29.8,65.5ZM94.0,65.0 95.5,64.9 97.0,65.5 98.0,66.4 98.6,67.5 98.8,69.0 98.4,70.5 97.5,71.6 96.0,72.4 94.5,72.5 92.8,72.0 91.7,71.0 90.9,69.5 90.9,68.0 91.6,66.5 92.7,65.5ZM0.5,117.1 2.3,117.5 3.6,118.5 4.4,120.0 4.5,121.0 4.3,122.0 0.0,122.0 0.0,117.1ZM62.0,117.3 63.0,117.1 64.0,117.1 65.0,117.4 66.0,118.0 66.9,119.0 67.3,120.0 67.4,121.0 67.2,122.0 59.6,122.0 59.4,120.5 59.9,119.0 60.8,118.0ZM124.5,117.5 125.5,117.2 126.5,117.1 126.5,122.0 122.5,122.0 122.3,120.5 122.6,119.5 123.5,118.2Z"/>
<path fill="#eda72a" fill-rule="evenodd" d="M0.5,13.1 2.0,13.5 3.0,14.1 3.6,15.0 4.0,16.5 3.6,18.0 3.0,18.9 2.0,19.5 0.5,19.9 0.0,19.8 0.0,13.2ZM62.0,13.4 63.0,13.2 64.5,13.3 65.7,14.0 66.5,15.0 66.9,16.0 66.7,17.5 66.0,18.8 65.0,19.5 64.0,19.8 62.5,19.7 61.1,19.0 60.3,18.0 59.9,17.0 60.0,15.5 61.0,14.0ZM125.0,13.4 126.5,13.1 126.5,19.9 125.0,19.6 124.0,19.0 123.2,18.0 122.8,17.0 122.8,16.0 123.2,15.0 124.0,14.0ZM31.0,65.5 32.5,65.4 33.5,65.7 34.6,66.5 35.2,67.5 35.4,69.0 35.2,70.0 34.5,71.0 33.0,71.9 31.5,72.0 30.0,71.5 29.0,70.5 28.5,69.5 28.5,68.0 28.9,67.0 29.9,66.0ZM94.0,65.4 95.5,65.4 96.5,65.7 97.5,66.5 98.1,67.5 98.3,69.0 98.1,70.0 97.4,71.0 96.0,71.9 94.5,72.0 93.0,71.6 92.0,70.7 91.4,69.5 91.4,68.0 91.8,67.0 92.8,66.0ZM0.5,117.5 2.0,117.9 3.4,119.0 4.0,120.5 3.8,122.0 0.0,122.0 0.0,117.6ZM62.0,117.8 63.0,117.6 64.0,117.6 65.0,117.9 65.9,118.5 66.8,120.0 66.9,121.0 66.7,122.0 60.1,122.0 59.9,120.5 60.2,119.5 60.9,118.5ZM125.0,117.8 126.5,117.5 126.5,122.0 123.0,122.0 122.8,120.5 123.1,119.5 123.8,118.5Z"/>
<path fill="#e99824" fill-rule="evenodd" d="M0.5,13.6 1.5,13.8 2.7,14.5 3.3,15.5 3.5,16.5 3.3,17.5 2.7,18.5 1.5,19.2 0.5,19.4 0.0,19.4 0.0,13.6ZM62.0,13.9 63.0,13.6 64.0,13.7 65.0,14.0 66.0,15.0 66.4,16.0 66.4,17.0 66.0,18.0 65.0,19.0 64.0,19.3 62.5,19.3 61.5,18.7 60.8,18.0 60.4,17.0 60.5,15.7 61.0,14.8ZM125.0,13.9 126.5,13.6 126.5,19.4 125.5,19.3 124.5,18.8 123.7,18.0 123.3,17.0 123.3,16.0 123.7,15.0ZM31.0,66.0 32.5,65.9 33.5,66.2 34.4,67.0 34.9,68.0 35.0,69.0 34.6,70.0 34.0,70.8 33.0,71.4 31.5,71.6 30.5,71.2 29.6,70.5 29.0,69.5 28.9,68.5 29.2,67.5 30.0,66.5ZM94.0,65.9 95.0,65.8 96.0,66.0 97.0,66.7 97.6,67.5 97.9,69.0 97.5,70.0 97.0,70.7 96.0,71.4 94.5,71.6 93.5,71.3 92.5,70.5 91.9,69.5 91.8,68.5 92.1,67.5 92.9,66.5ZM0.5,118.0 2.0,118.4 3.0,119.3 3.5,120.5 3.3,122.0 0.0,122.0 0.0,118.0ZM62.0,118.3 63.0,118.0 64.0,118.1 65.5,118.8 66.0,119.5 66.4,120.5 66.2,122.0 60.6,122.0 60.4,121.0 60.5,120.0 61.1,119.0ZM125.0,118.3 126.5,118.0 126.5,122.0 123.5,122.0 123.3,121.0 123.4,120.0 124.0,119.0Z"/>
<path fill="#e7922c" fill-rule="evenodd" d="M0.5,14.1 1.5,14.3 2.5,15.0 2.8,15.5 3.0,16.5 2.8,17.5 2.5,18.0 1.5,18.7 0.5,18.9 0.0,18.9 0.0,14.1ZM62.5,14.3 63.5,14.1 64.5,14.3 65.4,15.0 65.7,15.5 65.9,16.5 65.7,17.5 65.4,18.0 64.5,18.7 63.5,18.9 62.5,18.7 61.5,18.1 61.1,17.5 60.9,16.5 61.1,15.5 61.5,14.9ZM125.0,14.4 126.5,14.1 126.5,18.9 125.0,18.6 124.0,17.5 123.8,16.5 124.0,15.5ZM31.0,66.5 32.0,66.3 33.0,66.5 34.1,67.5 34.4,68.5 34.3,69.5 33.6,70.5 33.0,70.9 32.0,71.1 31.0,70.9 30.3,70.5 29.6,69.5 29.5,68.5 29.8,67.5 30.2,67.0ZM94.0,66.4 95.0,66.3 95.8,66.5 96.5,66.9 97.0,67.5 97.3,68.5 97.2,69.5 96.5,70.5 96.0,70.8 95.0,71.1 94.0,71.0 93.0,70.3 92.5,69.5 92.4,68.5 92.7,67.5 93.1,67.0ZM0.5,118.5 1.5,118.7 2.5,119.5 3.0,120.5 2.7,122.0 0.0,122.0 0.0,118.5ZM63.5,118.5 64.5,118.7 65.5,119.6 65.9,121.0 65.6,122.0 61.2,122.0 61.0,121.5 60.9,120.5 61.4,119.5 62.5,118.7ZM125.0,118.8 126.5,118.5 126.5,122.0 124.1,122.0 123.8,121.0 124.0,120.0Z"/>
<path fill="#edc599" fill-rule="evenodd" d="M0.5,14.7 1.5,14.9 2.0,15.3 2.4,16.5 2.0,17.7 1.5,18.1 0.5,18.3 0.0,18.3 0.0,14.7ZM62.5,14.9 63.0,14.7 64.0,14.7 65.0,15.5 65.3,16.0 65.3,17.0 64.5,18.0 64.0,18.3 63.0,18.3 62.3,18.0 61.8,17.5 61.5,17.0 61.5,16.0 62.0,15.2ZM125.5,14.8 126.5,14.7 126.5,18.3 125.2,18.0 124.4,17.0 124.5,15.8 125.0,15.1ZM31.5,66.9 32.7,67.0 33.4,67.5 33.7,68.0 33.9,69.0 33.7,69.5 33.3,70.0 32.5,70.5 31.5,70.5 31.0,70.3 30.5,69.9 30.0,69.0 30.2,68.0 30.5,67.5ZM94.5,66.9 95.6,67.0 96.3,67.5 96.6,68.0 96.8,69.0 96.6,69.5 96.2,70.0 95.5,70.4 94.5,70.5 94.0,70.4 93.5,70.0 92.9,69.0 93.0,68.2 93.4,67.5ZM0.5,119.0 1.5,119.3 2.2,120.0 2.4,121.0 2.1,122.0 0.0,122.0 0.0,119.1ZM62.5,119.3 63.0,119.1 64.0,119.1 65.0,119.9 65.3,121.0 65.0,122.0 61.8,122.0 61.6,121.5 61.5,120.5 62.0,119.6ZM125.5,119.2 126.5,119.1 126.5,122.0 124.8,122.0 124.5,121.5 124.4,120.5 124.6,120.0Z"/>
<path fill="#f7f7f7" fill-rule="evenodd" d="M0.5,15.4 1.0,15.4 1.5,15.9 1.7,16.5 1.5,17.1 1.0,17.6 0.5,17.6 0.0,17.6 0.0,15.4ZM63.0,15.4 64.0,15.5 64.5,16.0 64.5,17.0 64.0,17.5 63.0,17.6 62.3,17.0 62.3,16.0ZM126.0,15.4 126.5,15.4 126.5,17.6 125.5,17.3 125.1,16.5 125.5,15.7ZM31.0,68.0 31.5,67.6 32.5,67.7 32.9,68.0 33.1,68.5 33.0,69.2 32.5,69.7 32.0,69.8 31.1,69.5 30.8,69.0ZM94.0,67.9 95.0,67.6 95.8,68.0 96.0,68.5 96.0,69.0 95.7,69.5 95.0,69.8 94.0,69.5 93.7,69.0 93.7,68.5ZM0.5,119.8 1.2,120.0 1.6,120.5 1.5,121.5 0.8,122.0 0.0,121.9 0.0,119.9ZM63.0,119.8 64.0,119.9 64.5,120.5 64.5,121.3 64.0,121.9 63.0,122.0 62.4,121.5 62.3,120.5ZM126.0,119.8 126.5,119.8 126.5,122.0 125.9,122.0 125.5,121.7 125.1,121.0 125.5,120.0Z"/></g>
<g id="sq"><rect x="0" y="0" width="95.7" height="89" fill="#000065"/>
<path fill="#070faa" fill-rule="evenodd" d="M0.5,0.0 95.7,0.0 95.7,89.0 0.0,89.0 0.0,0.0ZM23.0,15.5 21.5,16.0 20.6,16.5 18.5,18.2 17.5,19.4 17.0,20.5 16.6,22.5 17.0,24.0 17.5,25.0 19.5,27.3 20.6,28.0 22.0,28.7 23.0,29.0 24.6,29.0 25.6,28.8 27.1,28.1 29.2,26.5 30.1,25.4 30.9,24.0 31.3,22.0 31.1,21.0 30.4,19.5 29.2,18.0 28.1,17.0 25.6,15.7 24.6,15.5ZM70.9,15.5 69.6,15.9 68.4,16.5 66.1,18.4 64.8,20.5 64.4,22.5 64.6,23.5 65.1,24.7 66.1,26.0 67.1,27.1 69.6,28.6 70.9,29.0 72.2,29.1 73.2,28.9 74.7,28.3 77.0,26.5 77.9,25.5 78.7,24.2 79.0,23.0 79.1,22.0 78.7,20.5 78.2,19.5 76.2,17.2 75.1,16.5 73.7,15.8 72.2,15.4ZM23.0,60.0 21.5,60.5 20.6,61.0 18.5,62.7 17.5,63.9 17.0,65.0 16.6,67.0 17.0,68.5 17.5,69.5 19.5,71.8 20.6,72.5 22.0,73.2 23.0,73.5 24.6,73.5 25.6,73.3 27.1,72.6 29.2,71.0 30.1,69.9 30.9,68.5 31.3,66.5 31.1,65.5 30.4,64.0 29.2,62.5 28.1,61.5 25.6,60.2 24.6,60.0ZM70.9,60.0 69.6,60.4 68.4,61.0 66.1,62.9 64.8,65.0 64.4,67.0 64.6,68.0 65.1,69.2 66.1,70.5 67.1,71.6 69.6,73.1 70.9,73.5 72.2,73.6 73.2,73.4 74.7,72.8 77.0,71.0 77.9,70.0 78.7,68.7 79.0,67.5 79.1,66.5 78.7,65.0 78.2,64.0 76.2,61.7 75.1,61.0 73.7,60.3 72.2,59.9Z"/>
<path fill="#0811ae" fill-rule="evenodd" d="M0.5,0.0 95.7,0.0 95.7,89.0 0.0,89.0 0.0,0.0ZM21.9,15.0 19.3,16.5 17.0,18.8 15.9,21.0 15.8,23.0 16.1,24.0 16.9,25.5 18.2,27.0 19.5,28.2 21.0,29.1 22.5,29.7 24.1,29.9 25.1,29.8 26.6,29.2 27.8,28.5 29.1,27.5 30.6,26.0 31.6,24.5 32.0,23.5 32.1,21.5 31.6,20.0 30.6,18.5 29.1,17.0 27.6,15.8 26.1,15.0 24.6,14.6 23.0,14.7ZM69.7,15.0 67.1,16.5 64.8,19.0 63.7,21.0 63.6,22.0 63.6,23.1 64.1,24.5 64.8,25.5 66.1,27.0 67.6,28.3 69.1,29.2 70.6,29.8 71.6,29.9 73.2,29.7 75.7,28.5 77.2,27.3 78.4,26.0 79.2,24.9 79.8,23.5 79.9,21.5 79.4,20.0 78.7,18.8 77.2,17.2 75.7,16.0 74.2,15.1 72.7,14.7 71.1,14.6ZM21.9,59.5 19.3,61.0 17.0,63.3 15.9,65.5 15.8,67.5 16.1,68.5 16.9,70.0 18.2,71.5 19.5,72.7 21.0,73.6 22.5,74.2 24.1,74.4 25.1,74.3 26.6,73.7 27.8,73.0 29.1,72.0 30.6,70.5 31.6,69.0 32.0,68.0 32.1,66.0 31.6,64.5 30.6,63.0 29.1,61.5 27.6,60.3 26.1,59.5 24.6,59.1 23.0,59.2ZM69.7,59.5 67.1,61.0 64.8,63.5 63.7,65.5 63.6,66.5 63.6,67.6 64.1,69.0 64.8,70.0 66.1,71.5 67.6,72.8 69.1,73.7 70.6,74.3 71.6,74.4 73.2,74.2 75.7,73.0 77.2,71.8 78.4,70.5 79.2,69.4 79.8,68.0 79.9,66.0 79.4,64.5 78.7,63.3 77.2,61.7 75.7,60.5 74.2,59.6 72.7,59.2 71.1,59.1Z"/>
<path fill="#0913b0" fill-rule="evenodd" d="M0.5,0.0 95.7,0.0 95.7,89.0 0.0,89.0 0.0,0.0ZM22.3,14.0 21.0,14.5 19.5,15.4 18.0,16.7 16.5,18.3 15.1,20.5 14.8,22.0 14.8,23.0 15.4,24.5 16.0,25.6 17.2,27.0 19.0,28.7 20.5,29.7 22.0,30.4 23.5,30.7 24.6,30.7 26.1,30.3 27.6,29.6 29.1,28.5 30.6,27.0 31.9,25.5 32.7,24.0 33.1,22.5 33.0,21.5 32.5,20.0 31.5,18.5 30.1,16.9 28.1,15.3 26.6,14.4 25.1,13.9 23.5,13.8ZM70.1,14.0 68.6,14.6 67.3,15.5 64.6,18.0 63.0,20.5 62.6,22.0 62.7,23.0 63.2,24.5 64.2,26.0 65.6,27.5 67.1,28.9 68.6,29.9 70.1,30.5 71.6,30.8 72.7,30.7 74.2,30.2 75.7,29.4 77.5,28.0 78.9,26.5 80.6,24.0 80.9,22.5 80.9,21.5 80.3,20.0 79.4,18.5 78.0,17.0 76.2,15.4 74.7,14.5 73.2,13.9 71.6,13.7ZM22.3,58.5 21.0,59.0 19.5,59.9 18.0,61.2 16.5,62.8 15.1,65.0 14.8,66.5 14.8,67.5 15.4,69.0 16.0,70.1 17.2,71.5 19.0,73.2 20.5,74.2 22.0,74.9 23.5,75.2 24.6,75.2 26.1,74.8 27.6,74.1 29.1,73.0 30.6,71.5 31.9,70.0 32.7,68.5 33.1,67.0 33.0,66.0 32.5,64.5 31.5,63.0 30.1,61.4 28.1,59.8 26.6,58.9 25.1,58.4 23.5,58.3ZM70.1,58.5 68.6,59.1 67.3,60.0 64.6,62.5 63.0,65.0 62.6,66.5 62.7,67.5 63.2,69.0 64.2,70.5 65.6,72.0 67.1,73.4 68.6,74.4 70.1,75.0 71.6,75.3 72.7,75.2 74.2,74.7 75.7,73.9 77.5,72.5 78.9,71.0 80.6,68.5 80.9,67.0 80.9,66.0 80.3,64.5 79.4,63.0 78.0,61.5 76.2,59.9 74.7,59.0 73.2,58.4 71.6,58.2Z"/>
<path fill="#0916b2" fill-rule="evenodd" d="M0.5,0.0 95.7,0.0 95.7,89.0 0.0,89.0 0.0,0.0ZM22.4,13.0 21.0,13.5 19.5,14.5 16.1,17.5 14.3,20.0 13.8,21.5 13.7,22.5 14.1,24.0 14.9,25.5 16.5,27.4 18.2,29.0 20.0,30.4 21.5,31.2 23.0,31.7 24.6,31.7 26.1,31.3 27.6,30.5 29.6,29.1 31.2,27.5 32.5,26.0 33.5,24.5 34.1,23.0 34.1,22.0 33.8,20.5 32.9,19.0 31.2,17.0 29.0,15.0 27.1,13.7 25.6,13.0 24.1,12.8ZM70.2,13.0 68.6,13.7 67.1,14.7 64.0,17.5 62.2,20.0 61.6,21.5 61.6,22.5 61.9,24.0 62.8,25.5 64.1,27.1 66.1,29.0 69.1,31.1 70.6,31.6 72.2,31.7 73.7,31.4 75.2,30.7 76.9,29.5 78.7,27.9 80.4,26.0 81.4,24.5 81.9,23.0 82.0,22.0 81.6,20.5 80.4,18.5 78.7,16.6 76.7,14.8 74.7,13.5 73.2,12.9 71.6,12.8ZM22.4,57.5 21.0,58.0 19.5,59.0 16.1,62.0 14.3,64.5 13.8,66.0 13.7,67.0 14.1,68.5 14.9,70.0 16.5,71.9 18.2,73.5 20.0,74.9 21.5,75.7 23.0,76.2 24.6,76.2 26.1,75.8 27.6,75.0 29.6,73.6 31.2,72.0 32.5,70.5 33.5,69.0 34.1,67.5 34.1,66.5 33.8,65.0 32.9,63.5 31.2,61.5 29.0,59.5 27.1,58.2 25.6,57.5 24.1,57.3ZM70.2,57.5 68.6,58.2 67.1,59.2 64.0,62.0 62.2,64.5 61.6,66.0 61.6,67.0 61.9,68.5 62.8,70.0 64.1,71.6 66.1,73.5 69.1,75.6 70.6,76.1 72.2,76.2 73.7,75.9 75.2,75.2 76.9,74.0 78.7,72.4 80.4,70.5 81.4,69.0 81.9,67.5 82.0,66.5 81.6,65.0 80.4,63.0 78.7,61.1 76.7,59.3 74.7,58.0 73.2,57.4 71.6,57.3Z"/>
<path fill="#0a18b4" fill-rule="evenodd" d="M0.5,0.0 95.7,0.0 95.7,89.0 0.0,89.0 0.0,0.0ZM22.0,12.0 20.5,12.7 19.0,13.8 15.0,17.5 13.1,20.0 12.6,21.5 12.5,22.5 12.9,24.0 13.8,25.5 15.5,27.5 18.0,29.9 20.0,31.5 21.5,32.3 23.0,32.8 24.6,32.8 26.1,32.4 27.6,31.6 29.6,30.1 31.9,28.0 33.7,26.0 34.7,24.5 35.3,23.0 35.3,22.0 35.0,20.5 33.7,18.5 31.4,16.0 28.6,13.6 26.6,12.3 25.1,11.8 23.5,11.6ZM69.9,12.0 68.1,12.9 66.6,14.0 62.8,17.5 61.0,20.0 60.4,21.5 60.4,22.5 60.7,24.0 61.6,25.5 63.3,27.5 65.4,29.5 67.2,31.0 69.1,32.2 70.6,32.7 72.2,32.9 73.7,32.5 75.7,31.5 77.7,29.9 79.8,28.0 81.6,26.0 82.6,24.5 83.1,23.0 83.2,22.0 82.8,20.5 81.6,18.5 79.2,16.0 76.7,13.8 74.7,12.4 73.2,11.8 71.6,11.6ZM22.0,56.5 20.5,57.2 19.0,58.3 15.0,62.0 13.1,64.5 12.6,66.0 12.5,67.0 12.9,68.5 13.8,70.0 15.5,72.0 18.0,74.4 20.0,76.0 21.5,76.8 23.0,77.3 24.6,77.3 26.1,76.9 27.6,76.1 29.6,74.6 31.9,72.5 33.7,70.5 34.7,69.0 35.3,67.5 35.3,66.5 35.0,65.0 33.7,63.0 31.4,60.5 28.6,58.1 26.6,56.8 25.1,56.3 23.5,56.1ZM69.9,56.5 68.1,57.4 66.6,58.5 62.8,62.0 61.0,64.5 60.4,66.0 60.4,67.0 60.7,68.5 61.6,70.0 63.3,72.0 65.4,74.0 67.2,75.5 69.1,76.7 70.6,77.2 72.2,77.4 73.7,77.0 75.7,76.0 77.7,74.4 79.8,72.5 81.6,70.5 82.6,69.0 83.1,67.5 83.2,66.5 82.8,65.0 81.6,63.0 79.2,60.5 76.7,58.3 74.7,56.9 73.2,56.3 71.6,56.1Z"/>
<path fill="#0d20b7" fill-rule="evenodd" d="M0.5,0.0 95.7,0.0 95.7,89.0 0.0,89.0 0.0,0.0ZM22.5,10.5 21.0,11.2 19.0,12.6 14.2,17.0 11.7,20.0 11.1,21.5 11.1,22.5 11.5,24.0 12.4,25.5 14.2,27.5 17.0,30.2 19.0,31.9 21.0,33.3 22.5,34.0 24.1,34.2 25.6,33.9 27.6,32.9 29.6,31.3 32.7,28.5 35.8,25.0 36.6,23.5 36.8,22.0 36.4,20.5 35.0,18.5 32.7,16.0 29.1,12.8 27.1,11.3 25.6,10.6 24.1,10.3ZM70.4,10.5 69.1,11.0 67.1,12.4 62.0,17.0 59.6,20.0 59.0,21.5 58.9,22.5 59.3,24.0 60.3,25.5 62.0,27.5 65.1,30.5 67.6,32.5 69.1,33.5 70.6,34.1 72.2,34.2 73.7,33.8 75.7,32.7 80.5,28.5 83.6,25.0 84.4,23.5 84.6,22.0 84.2,20.5 82.9,18.5 80.0,15.5 76.7,12.6 74.7,11.2 73.2,10.5 71.6,10.3ZM22.5,55.0 21.0,55.7 19.0,57.1 14.2,61.5 11.7,64.5 11.1,66.0 11.1,67.0 11.5,68.5 12.4,70.0 14.2,72.0 17.0,74.7 19.0,76.4 21.0,77.8 22.5,78.5 24.1,78.7 25.6,78.4 27.6,77.4 29.6,75.8 32.7,73.0 35.8,69.5 36.6,68.0 36.8,66.5 36.4,65.0 35.0,63.0 32.7,60.5 29.1,57.3 27.1,55.8 25.6,55.1 24.1,54.8ZM70.4,55.0 69.1,55.5 67.1,56.9 62.0,61.5 59.6,64.5 59.0,66.0 58.9,67.0 59.3,68.5 60.3,70.0 62.0,72.0 65.1,75.0 67.6,77.0 69.1,78.0 70.6,78.6 72.2,78.7 73.7,78.3 75.7,77.2 80.5,73.0 83.6,69.5 84.4,68.0 84.6,66.5 84.2,65.0 82.9,63.0 80.0,60.0 76.7,57.1 74.7,55.7 73.2,55.0 71.6,54.8Z"/>
<path fill="#1127ba" fill-rule="evenodd" d="M0.5,0.0 95.7,0.0 95.7,89.0 0.0,89.0 0.0,0.0ZM22.3,9.0 21.0,9.6 19.0,11.2 11.7,18.0 9.8,20.5 9.4,21.5 9.3,22.5 9.8,24.0 10.8,25.5 17.5,32.0 20.0,34.1 21.5,35.2 23.0,35.8 24.1,35.9 25.6,35.5 27.6,34.3 34.6,28.0 36.6,26.0 37.8,24.5 38.5,23.0 38.6,22.0 38.1,20.5 36.6,18.5 33.0,15.0 28.1,10.6 26.6,9.5 25.1,8.8 23.5,8.6ZM70.1,9.0 68.6,9.8 66.6,11.4 59.6,18.0 57.6,20.5 57.2,21.5 57.1,22.5 57.6,24.0 59.1,26.0 66.1,32.7 68.1,34.3 69.6,35.3 71.1,35.8 72.2,35.9 73.7,35.4 75.7,34.1 83.0,27.5 85.6,24.5 86.3,23.0 86.4,22.0 85.9,20.5 84.4,18.5 76.2,10.8 74.2,9.3 72.7,8.7 71.1,8.7ZM22.3,53.5 21.0,54.1 19.0,55.7 11.7,62.5 9.8,65.0 9.4,66.0 9.3,67.0 9.8,68.5 10.8,70.0 17.5,76.5 20.0,78.6 21.5,79.7 23.0,80.3 24.1,80.4 25.6,80.0 27.6,78.8 34.6,72.5 36.6,70.5 37.8,69.0 38.5,67.5 38.6,66.5 38.1,65.0 36.6,63.0 33.0,59.5 28.1,55.1 26.6,54.0 25.1,53.3 23.5,53.1ZM70.1,53.5 68.6,54.3 66.6,55.9 59.6,62.5 57.6,65.0 57.2,66.0 57.1,67.0 57.6,68.5 59.1,70.5 66.1,77.2 68.1,78.8 69.6,79.8 71.1,80.3 72.2,80.4 73.7,79.9 75.7,78.6 83.0,72.0 85.6,69.0 86.3,67.5 86.4,66.5 85.9,65.0 84.4,63.0 76.2,55.3 74.2,53.8 72.7,53.2 71.1,53.2Z"/>
<path fill="#1631be" fill-rule="evenodd" d="M0.5,0.0 95.7,0.0 95.7,89.0 0.0,89.0 0.0,0.0ZM23.4,6.5 22.0,7.0 20.5,8.2 14.5,13.9 8.9,19.0 7.3,21.0 6.9,22.5 7.6,24.0 8.9,25.5 14.5,30.6 20.0,35.9 22.0,37.5 23.0,37.9 24.1,38.0 25.6,37.6 27.1,36.6 33.1,30.8 38.5,26.0 40.3,24.0 40.8,23.0 40.9,22.0 40.3,20.5 39.0,19.0 33.1,13.7 27.6,8.4 26.1,7.2 25.1,6.7ZM71.3,6.5 70.1,6.9 68.6,7.9 56.7,19.0 55.1,21.0 54.8,22.5 55.4,24.0 56.7,25.5 62.6,30.8 67.6,35.7 69.6,37.3 70.6,37.8 71.6,38.0 73.2,37.7 74.7,36.8 86.3,26.0 88.1,24.0 88.6,23.0 88.8,22.0 88.1,20.5 86.8,19.0 81.2,13.9 75.2,8.2 73.2,6.8 72.2,6.5ZM23.4,51.0 22.0,51.5 20.5,52.7 14.5,58.4 8.9,63.5 7.3,65.5 6.9,67.0 7.6,68.5 8.9,70.0 14.5,75.1 20.0,80.4 22.0,82.0 23.0,82.4 24.1,82.5 25.6,82.1 27.1,81.1 33.1,75.3 38.5,70.5 40.3,68.5 40.8,67.5 40.9,66.5 40.3,65.0 39.0,63.5 33.1,58.2 27.6,52.9 26.1,51.7 25.1,51.2ZM71.3,51.0 70.1,51.4 68.6,52.4 56.7,63.5 55.1,65.5 54.8,67.0 55.4,68.5 56.7,70.0 62.6,75.3 67.6,80.2 69.6,81.8 70.6,82.3 71.6,82.5 73.2,82.2 74.7,81.3 86.3,70.5 88.1,68.5 88.6,67.5 88.8,66.5 88.1,65.0 86.8,63.5 81.2,58.4 75.2,52.7 73.2,51.3 72.2,51.0Z"/>
<path fill="#1f40c3" fill-rule="evenodd" d="M0.5,0.0 95.7,0.0 95.7,89.0 0.0,89.0 0.0,0.0ZM23.0,3.0 21.5,4.5 17.4,9.5 14.5,12.4 10.5,15.9 3.6,21.0 2.9,22.0 2.9,22.5 3.1,23.0 4.2,24.0 10.0,28.2 13.5,31.1 17.4,35.0 22.0,40.6 23.0,41.5 24.1,41.8 24.6,41.7 25.6,40.9 30.5,35.0 33.6,31.8 37.1,28.8 44.3,23.5 45.0,22.5 45.0,22.0 44.7,21.5 43.7,20.5 37.6,16.1 33.6,12.7 30.5,9.5 25.1,3.2 24.1,2.7ZM70.9,3.0 69.6,4.2 65.2,9.5 62.3,12.5 58.6,15.7 51.4,21.0 50.7,22.0 50.7,22.5 51.0,23.0 52.0,24.0 58.1,28.4 61.6,31.4 65.2,35.0 70.1,40.9 71.1,41.7 71.6,41.8 72.7,41.5 73.7,40.6 78.3,35.0 81.7,31.6 85.7,28.2 91.5,24.0 92.6,23.0 92.8,22.5 92.8,22.0 92.6,21.5 91.5,20.5 85.2,15.9 81.2,12.5 78.3,9.5 73.2,3.4 72.2,2.7 71.6,2.7ZM23.0,47.5 21.5,49.0 17.4,54.0 14.5,56.9 10.5,60.4 3.6,65.5 2.9,66.5 2.9,67.0 3.1,67.5 4.2,68.5 10.0,72.7 13.5,75.6 17.4,79.5 22.0,85.1 23.0,86.0 24.1,86.3 24.6,86.2 25.6,85.4 30.5,79.5 33.6,76.3 37.1,73.3 44.3,68.0 45.0,67.0 45.0,66.5 44.7,66.0 43.7,65.0 37.6,60.6 33.6,57.2 30.5,54.0 25.1,47.7 24.1,47.2ZM70.9,47.5 69.6,48.7 65.2,54.0 62.3,57.0 58.6,60.2 51.4,65.5 50.7,66.5 50.7,67.0 51.0,67.5 52.0,68.5 58.1,72.9 61.6,75.9 65.2,79.5 70.1,85.4 71.1,86.2 71.6,86.3 72.7,86.0 73.7,85.1 78.3,79.5 81.7,76.1 85.7,72.7 91.5,68.5 92.6,67.5 92.8,67.0 92.8,66.5 92.6,66.0 91.5,65.0 85.2,60.4 81.2,57.0 78.3,54.0 73.2,47.9 72.2,47.2 71.6,47.2Z"/>
<path fill="#2a55cd" fill-rule="evenodd" d="M0.5,0.0 20.3,0.0 20.2,1.5 19.7,3.0 18.3,6.0 15.7,9.5 13.0,12.3 9.5,15.1 6.0,17.2 3.0,18.4 0.0,18.9 0.0,0.0ZM27.6,0.0 68.2,0.0 67.8,2.5 66.4,5.5 64.0,9.0 61.1,12.1 57.6,14.9 54.1,17.1 51.1,18.3 48.1,18.9 45.6,18.6 42.1,17.3 38.6,15.3 35.1,12.5 32.1,9.5 29.6,6.0 27.9,2.5ZM75.7,0.0 95.7,0.0 95.7,18.9 92.7,18.4 89.7,17.2 85.7,14.7 82.4,12.0 79.2,8.5 76.9,5.0 75.7,2.0 75.4,0.0ZM0.5,25.6 3.5,26.2 6.5,27.6 10.0,29.8 13.3,32.5 16.1,35.5 18.3,38.5 19.7,41.5 20.2,43.0 20.3,44.5 20.2,46.0 19.7,47.5 18.3,50.5 15.7,54.0 13.0,56.8 9.5,59.6 6.0,61.7 3.0,62.9 0.0,63.4 0.0,25.6ZM45.6,25.9 48.6,25.6 51.6,26.3 55.6,28.3 59.1,30.7 62.7,34.0 65.5,37.5 67.4,41.0 67.9,42.5 68.1,44.0 67.9,46.5 66.7,49.5 64.4,53.0 61.7,56.0 58.1,59.1 54.6,61.3 51.6,62.7 48.6,63.4 45.6,63.1 42.6,62.1 39.1,60.1 35.6,57.5 32.6,54.5 29.9,51.0 28.3,48.0 27.8,46.5 27.6,45.0 27.8,42.5 28.8,40.0 30.6,37.0 33.1,34.0 36.1,31.1 39.1,28.9 42.6,26.9ZM93.2,25.9 95.7,25.6 95.7,63.4 92.7,62.9 89.7,61.7 86.2,59.6 82.9,57.0 80.0,54.0 77.4,50.5 76.0,47.5 75.4,45.0 75.7,42.5 76.6,40.0 78.4,37.0 80.9,34.0 83.7,31.3 87.2,28.7 90.7,26.8ZM0.5,70.1 3.5,70.7 6.5,72.1 10.0,74.3 13.3,77.0 16.1,80.0 18.3,83.0 19.7,86.0 20.2,87.5 20.3,89.0 0.0,89.0 0.0,70.1ZM45.6,70.4 48.6,70.1 51.6,70.8 55.6,72.8 59.6,75.6 63.1,79.0 65.8,82.5 67.6,86.0 68.0,87.5 68.2,89.0 27.5,89.0 27.9,86.5 29.0,84.0 30.9,81.0 33.5,78.0 36.6,75.2 39.6,73.1 43.1,71.2ZM93.2,70.4 95.7,70.1 95.7,89.0 75.4,89.0 75.8,86.5 76.9,84.0 78.8,81.0 81.4,78.0 84.2,75.4 87.2,73.2 90.7,71.3Z"/>
<path fill="#3161d6" fill-rule="evenodd" d="M0.5,0.0 18.3,0.0 17.9,2.5 16.8,5.5 14.9,8.5 12.1,11.5 9.0,13.9 6.0,15.6 3.0,16.6 0.0,17.0 0.0,0.0ZM30.1,0.0 66.1,0.0 65.7,3.0 64.4,6.0 62.3,9.0 60.1,11.3 57.1,13.7 54.1,15.5 51.1,16.6 48.1,17.0 45.1,16.7 42.1,15.7 38.6,13.7 35.6,11.3 33.0,8.5 30.8,5.0 30.2,3.5 29.7,1.5 29.6,0.0ZM77.7,0.0 95.7,0.0 95.7,17.0 92.7,16.6 89.2,15.3 86.2,13.6 83.2,11.1 80.8,8.5 78.9,5.5 77.8,2.5 77.5,0.5 77.4,0.0ZM0.5,27.5 3.5,28.0 6.5,29.2 9.5,30.9 12.5,33.4 14.9,36.0 16.8,39.0 17.9,42.0 18.3,44.5 17.9,47.0 16.8,50.0 14.9,53.0 12.1,56.0 9.0,58.4 6.0,60.1 3.0,61.1 0.0,61.5 0.0,27.5ZM44.6,27.9 47.6,27.5 50.6,27.8 54.1,29.0 57.6,31.1 61.0,34.0 63.4,37.0 65.1,40.0 66.0,43.0 66.0,46.0 65.3,48.5 63.8,51.5 61.6,54.3 58.6,57.1 55.6,59.2 52.6,60.6 49.6,61.4 46.6,61.4 43.6,60.8 40.1,59.2 37.1,57.1 34.2,54.5 32.3,52.0 30.6,49.0 29.7,46.0 29.6,43.5 30.2,41.0 31.3,38.5 33.4,35.5 35.7,33.0 38.6,30.8 41.6,29.0ZM92.7,27.9 95.7,27.5 95.7,61.5 93.2,61.2 90.2,60.3 87.2,58.7 84.2,56.5 81.6,54.0 79.5,51.0 78.1,48.0 77.5,45.5 77.6,43.0 78.2,40.5 79.5,38.0 81.6,35.0 84.2,32.5 86.7,30.6 89.7,28.9ZM0.5,72.0 3.5,72.5 6.5,73.7 9.5,75.4 12.5,77.9 14.9,80.5 16.8,83.5 17.9,86.5 18.3,89.0 0.0,89.0 0.0,72.0ZM44.6,72.4 46.1,72.1 48.1,72.0 51.1,72.4 54.6,73.8 58.2,76.0 61.5,79.0 64.1,82.5 65.5,85.5 66.0,87.5 66.1,89.0 29.6,89.0 29.9,86.5 30.8,84.0 32.3,81.5 34.2,79.0 36.6,76.8 39.1,74.9 42.1,73.3ZM92.7,72.4 95.7,72.0 95.7,89.0 77.4,89.0 77.8,86.5 78.7,84.0 80.1,81.5 82.1,79.0 84.7,76.6 87.2,74.8 90.2,73.2Z"/>
<path fill="#3f7be2" fill-rule="evenodd" d="M0.5,0.0 16.5,0.0 16.2,2.5 15.1,5.5 13.6,8.0 11.3,10.5 9.0,12.4 6.0,14.0 3.0,15.0 0.0,15.4 0.0,0.0ZM31.6,0.0 64.4,0.0 64.0,3.0 63.0,5.5 61.4,8.0 59.1,10.6 56.6,12.5 53.6,14.2 50.6,15.1 47.6,15.4 45.1,15.1 42.1,14.2 39.1,12.5 36.5,10.5 34.3,8.0 32.5,5.0 31.5,2.0 31.3,0.0ZM79.7,0.0 95.7,0.0 95.7,15.4 92.7,15.0 89.7,14.0 86.7,12.4 84.2,10.3 82.1,8.0 80.3,5.0 79.6,3.0 79.3,1.5 79.2,0.0ZM0.5,29.1 3.5,29.6 6.5,30.7 9.0,32.1 11.5,34.2 13.6,36.5 15.1,39.0 16.2,42.0 16.5,44.5 16.2,47.0 15.1,50.0 13.6,52.5 11.3,55.0 9.0,56.9 6.0,58.5 3.0,59.5 0.0,59.9 0.0,29.1ZM45.1,29.4 48.1,29.1 51.1,29.5 54.1,30.6 57.1,32.3 59.7,34.5 61.8,37.0 63.5,40.0 64.2,42.5 64.4,45.0 63.8,48.0 62.7,50.5 61.0,53.0 58.6,55.5 56.1,57.3 53.1,58.9 50.1,59.7 47.1,59.9 44.1,59.4 41.1,58.2 38.6,56.7 36.0,54.5 33.9,52.0 32.2,49.0 31.5,46.5 31.3,44.0 31.9,41.0 33.0,38.5 34.7,36.0 37.1,33.5 39.6,31.7 42.1,30.3ZM92.7,29.5 95.7,29.1 95.7,59.9 93.2,59.6 90.2,58.8 87.2,57.2 84.9,55.5 82.5,53.0 80.8,50.5 79.7,48.0 79.2,45.5 79.3,43.0 79.9,40.5 81.1,38.0 82.9,35.5 84.9,33.5 87.2,31.8 90.2,30.2ZM0.5,73.6 3.5,74.1 6.5,75.2 9.0,76.6 11.5,78.7 13.6,81.0 15.1,83.5 16.2,86.5 16.5,89.0 0.0,89.0 0.0,73.6ZM45.1,73.9 48.6,73.6 51.6,74.1 54.6,75.3 57.6,77.2 60.2,79.5 62.4,82.5 63.8,85.5 64.3,87.5 64.4,89.0 31.3,89.0 31.6,86.5 32.5,84.0 33.9,81.5 35.5,79.5 37.6,77.6 40.1,75.9 42.6,74.6ZM92.7,74.0 95.7,73.6 95.7,89.0 79.2,89.0 79.3,87.0 80.1,84.5 81.4,82.0 83.2,79.7 85.2,77.8 87.7,76.0 90.2,74.7Z"/>
<path fill="#57a5f4" fill-rule="evenodd" d="M0.5,0.0 14.9,0.0 14.6,2.5 13.8,5.0 12.3,7.5 10.5,9.5 8.0,11.4 5.5,12.8 2.5,13.7 0.0,13.9 0.0,0.0ZM33.1,0.0 62.8,0.0 62.5,2.5 61.6,5.0 60.1,7.5 58.3,9.5 56.1,11.3 53.6,12.6 50.6,13.6 48.1,13.9 45.6,13.7 42.6,12.9 40.1,11.6 37.6,9.7 35.6,7.5 34.1,5.0 33.1,2.0 32.9,0.0ZM81.2,0.0 95.7,0.0 95.7,13.9 93.2,13.7 90.2,12.8 87.7,11.4 85.2,9.5 83.1,7.0 81.7,4.5 80.9,1.5 80.8,0.0ZM0.5,30.6 3.0,30.9 5.5,31.7 8.0,33.1 10.5,35.0 12.3,37.0 13.8,39.5 14.6,42.0 14.9,44.5 14.6,47.0 13.8,49.5 12.3,52.0 10.5,54.0 8.0,55.9 5.5,57.3 2.5,58.2 0.0,58.4 0.0,30.6ZM45.1,30.9 47.6,30.6 50.6,30.9 53.6,31.9 56.1,33.2 58.6,35.3 60.5,37.5 61.8,40.0 62.6,42.5 62.8,45.0 62.4,47.5 61.4,50.0 60.1,52.0 58.1,54.2 55.8,56.0 53.1,57.4 50.6,58.1 48.1,58.4 45.1,58.1 42.1,57.1 39.6,55.8 37.1,53.7 35.2,51.5 33.9,49.0 33.1,46.5 32.9,44.0 33.3,41.5 34.3,39.0 35.6,37.0 37.6,34.8 39.9,33.0 42.6,31.6ZM92.7,30.9 95.7,30.6 95.7,58.4 93.2,58.2 90.7,57.5 88.2,56.2 85.8,54.5 83.8,52.5 82.4,50.5 81.3,48.0 80.8,45.5 80.9,43.0 81.3,41.0 82.4,38.5 83.8,36.5 85.7,34.6 87.7,33.1 90.2,31.7ZM0.5,75.1 3.0,75.4 5.5,76.2 8.0,77.6 10.5,79.5 12.3,81.5 13.8,84.0 14.6,86.5 14.9,89.0 0.0,89.0 0.0,75.1ZM45.1,75.4 48.6,75.1 51.6,75.6 54.6,76.8 57.1,78.5 59.6,80.9 61.4,83.5 62.4,86.0 62.8,89.0 32.9,89.0 33.2,86.5 33.9,84.5 34.9,82.5 36.4,80.5 38.5,78.5 40.6,77.1 42.6,76.1ZM92.7,75.4 95.7,75.1 95.7,89.0 80.8,89.0 80.9,87.0 81.7,84.5 82.8,82.5 84.3,80.5 86.2,78.7 88.2,77.3 90.2,76.2Z"/>
<path fill="#64bafa" fill-rule="evenodd" d="M0.5,0.0 13.4,0.0 13.2,2.0 12.4,4.5 11.3,6.5 9.5,8.5 7.5,10.1 5.0,11.5 2.5,12.2 0.0,12.4 0.0,0.0ZM34.6,0.0 61.2,0.0 60.9,2.5 60.2,4.5 59.1,6.5 57.4,8.5 55.1,10.3 53.1,11.4 50.6,12.2 48.1,12.4 45.6,12.2 43.1,11.6 40.6,10.3 38.6,8.8 37.0,7.0 35.5,4.5 34.7,2.0ZM82.7,0.0 95.7,0.0 95.7,12.4 93.2,12.2 90.7,11.5 88.2,10.1 86.2,8.5 84.4,6.5 83.1,4.0 82.4,1.0 82.3,0.0ZM0.5,32.1 3.0,32.4 5.5,33.3 7.5,34.4 9.5,36.0 11.3,38.0 12.4,40.0 13.2,42.5 13.4,44.5 13.2,46.5 12.4,49.0 11.3,51.0 9.5,53.0 7.5,54.6 5.0,56.0 2.5,56.7 0.0,56.9 0.0,32.1ZM44.6,32.5 47.1,32.1 49.6,32.2 52.1,32.8 54.6,33.9 56.6,35.3 58.3,37.0 59.7,39.0 60.8,41.5 61.2,44.0 61.1,46.0 60.5,48.5 59.4,50.5 57.9,52.5 56.1,54.1 54.1,55.4 51.6,56.4 49.1,56.9 46.6,56.9 44.1,56.4 41.6,55.4 39.5,54.0 37.4,52.0 36.0,50.0 34.9,47.5 34.5,45.0 34.6,43.0 35.2,40.5 36.3,38.5 37.8,36.5 40.1,34.5 42.1,33.4ZM92.7,32.4 95.7,32.1 95.7,56.9 93.2,56.7 91.2,56.1 89.2,55.2 87.2,53.9 85.7,52.5 84.1,50.5 83.1,48.5 82.4,46.0 82.4,43.5 82.8,41.5 83.5,39.5 84.8,37.5 86.2,36.0 88.2,34.4 90.2,33.3ZM0.5,76.6 3.0,76.9 5.5,77.8 7.5,78.9 9.5,80.5 11.3,82.5 12.4,84.5 13.2,87.0 13.4,89.0 0.0,89.0 0.0,76.6ZM44.6,77.0 47.1,76.6 50.1,76.8 53.1,77.6 55.6,79.0 57.9,81.0 59.7,83.5 60.8,86.0 61.2,89.0 34.5,89.0 34.7,87.0 35.2,85.0 36.3,83.0 37.4,81.5 38.9,80.0 40.6,78.7 42.6,77.6ZM92.7,76.9 95.7,76.6 95.7,89.0 82.3,89.0 82.5,87.0 83.1,85.0 84.1,83.0 85.2,81.5 86.7,80.0 88.7,78.6 90.7,77.5Z"/>
<path fill="#2d8212" fill-rule="evenodd" d="M0.5,0.0 13.4,0.0 13.2,2.0 12.4,4.5 11.2,6.5 9.5,8.5 7.5,10.1 5.0,11.4 2.5,12.2 0.0,12.4 0.0,0.0ZM34.6,0.0 61.2,0.0 60.9,2.5 60.2,4.5 59.1,6.5 57.4,8.5 55.1,10.3 53.1,11.3 50.6,12.1 48.1,12.4 45.6,12.2 43.1,11.5 40.6,10.3 38.6,8.7 36.6,6.5 35.5,4.5 34.7,2.0ZM82.7,0.0 95.7,0.0 95.7,12.4 93.2,12.2 90.7,11.4 88.2,10.1 86.2,8.5 84.5,6.5 83.1,4.0 82.4,1.0 82.3,0.0ZM0.5,32.1 3.0,32.4 5.5,33.3 7.5,34.4 9.5,36.0 11.2,38.0 12.4,40.0 13.2,42.5 13.4,44.5 13.2,46.5 12.4,49.0 11.2,51.0 9.5,53.0 7.5,54.6 5.0,55.9 2.5,56.7 0.0,56.9 0.0,32.1ZM44.6,32.5 47.1,32.1 49.6,32.2 52.1,32.8 54.6,33.9 56.6,35.3 58.3,37.0 59.7,39.0 60.8,41.5 61.2,44.0 61.1,46.0 60.4,48.5 59.4,50.5 57.9,52.5 56.1,54.1 54.1,55.3 51.6,56.4 49.1,56.9 46.6,56.9 44.1,56.4 41.6,55.3 39.5,54.0 37.4,52.0 36.0,50.0 34.9,47.5 34.5,45.0 34.6,43.0 35.3,40.5 36.3,38.5 37.8,36.5 40.1,34.6 42.1,33.4ZM92.7,32.4 95.7,32.1 95.7,56.9 93.2,56.7 91.2,56.1 89.2,55.2 87.2,53.9 85.2,52.0 83.8,50.0 82.9,48.0 82.5,46.0 82.4,43.5 82.8,41.5 83.6,39.5 84.8,37.5 86.2,36.0 88.2,34.4 90.2,33.3ZM0.5,76.6 3.0,76.9 5.5,77.8 7.5,78.9 9.5,80.5 11.2,82.5 12.4,84.5 13.2,87.0 13.4,89.0 0.0,89.0 0.0,76.6ZM44.6,77.0 47.1,76.6 50.1,76.8 53.1,77.7 55.6,79.1 57.9,81.0 59.7,83.5 60.8,86.0 61.2,89.0 34.5,89.0 34.7,87.0 35.3,85.0 36.3,83.0 37.4,81.5 38.9,80.0 40.6,78.7 42.6,77.7ZM92.7,76.9 95.7,76.6 95.7,89.0 82.3,89.0 82.5,87.0 83.1,85.0 84.1,83.0 85.2,81.5 86.7,80.0 88.7,78.6 90.7,77.6Z"/>
<path fill="#308713" fill-rule="evenodd" d="M0.5,0.0 11.9,0.0 11.7,2.0 11.1,4.0 9.9,6.0 8.5,7.6 6.5,9.2 4.5,10.2 2.5,10.8 0.0,11.1 0.0,0.0ZM36.1,0.0 59.8,0.0 59.6,2.0 58.9,4.0 57.8,6.0 56.1,7.9 54.1,9.3 52.1,10.3 50.1,10.9 47.6,11.1 45.1,10.8 43.1,10.1 41.1,9.0 39.2,7.5 37.9,6.0 36.8,4.0 36.1,1.5 35.9,0.0ZM84.2,0.0 95.7,0.0 95.7,11.1 93.2,10.8 91.2,10.2 89.2,9.2 87.2,7.6 85.4,5.5 84.4,3.5 83.8,0.5 83.8,0.0ZM0.5,33.4 2.5,33.7 4.5,34.3 6.5,35.3 8.5,36.9 9.9,38.5 11.1,40.5 11.7,42.5 11.9,44.5 11.7,46.5 11.1,48.5 9.9,50.5 8.5,52.1 6.5,53.7 4.5,54.7 2.5,55.3 0.0,55.6 0.0,33.4ZM46.6,33.5 48.6,33.4 51.1,33.9 53.1,34.6 55.1,35.8 56.6,37.1 58.1,39.0 59.1,41.0 59.6,43.0 59.8,45.0 59.4,47.0 58.7,49.0 57.4,51.0 56.0,52.5 54.1,53.8 52.1,54.8 49.6,55.5 47.6,55.6 45.1,55.3 42.6,54.4 40.6,53.2 39.1,51.9 37.6,50.0 36.6,48.0 36.1,46.0 35.9,44.0 36.4,41.5 37.3,39.5 38.6,37.7 40.1,36.2 42.1,34.9 44.6,33.9ZM94.7,33.5 95.7,33.4 95.7,55.6 93.2,55.3 91.2,54.7 89.2,53.7 87.6,52.5 86.2,51.0 84.9,49.0 84.1,47.0 83.8,45.0 83.9,43.0 84.4,41.0 85.4,39.0 86.7,37.4 88.2,36.0 90.2,34.7 92.2,33.9ZM0.5,77.9 2.5,78.2 4.5,78.8 6.5,79.8 8.5,81.4 9.9,83.0 11.1,85.0 11.7,87.0 11.9,89.0 0.0,89.0 0.0,77.9ZM46.6,78.0 48.6,77.9 51.1,78.4 53.6,79.4 55.6,80.7 57.4,82.5 58.7,84.5 59.4,86.5 59.8,89.0 35.9,89.0 36.1,87.0 36.8,85.0 37.9,83.0 39.1,81.6 40.6,80.3 42.6,79.1 44.6,78.4ZM94.7,78.0 95.7,77.9 95.7,89.0 83.8,89.0 84.0,87.0 84.6,85.0 85.8,83.0 87.0,81.5 88.7,80.1 90.7,79.0 92.7,78.3Z"/>
<path fill="#338b15" fill-rule="evenodd" d="M0.5,0.0 10.6,0.0 10.4,2.0 9.9,3.5 8.8,5.5 7.5,6.9 6.0,8.1 4.0,9.1 2.0,9.7 0.0,9.9 0.0,0.0ZM37.6,0.0 58.5,0.0 58.2,2.0 57.5,4.0 56.6,5.5 55.3,7.0 53.6,8.3 52.1,9.0 50.1,9.6 48.1,9.9 46.1,9.7 44.1,9.2 42.1,8.3 40.4,7.0 39.1,5.5 37.9,3.5 37.3,1.0 37.2,0.0ZM85.2,0.0 95.7,0.0 95.7,9.9 93.7,9.7 91.7,9.1 89.7,8.1 88.2,6.9 86.9,5.5 85.8,3.5 85.2,1.5ZM0.5,34.6 2.5,34.9 4.5,35.6 6.0,36.4 7.5,37.6 8.8,39.0 9.9,41.0 10.4,42.5 10.6,44.5 10.4,46.5 9.9,48.0 8.8,50.0 7.5,51.4 6.0,52.6 4.0,53.6 2.0,54.2 0.0,54.4 0.0,34.6ZM45.1,35.0 47.1,34.6 49.1,34.7 51.1,35.1 52.6,35.7 54.1,36.6 55.8,38.0 57.0,39.5 58.0,41.5 58.4,43.5 58.4,45.5 58.0,47.5 57.3,49.0 56.1,50.6 54.6,52.1 53.1,53.0 51.1,53.9 49.1,54.3 47.1,54.4 45.1,54.0 43.1,53.3 41.6,52.4 39.9,51.0 38.7,49.5 37.7,47.5 37.3,45.5 37.3,43.5 37.7,41.5 38.4,40.0 39.6,38.4 41.1,36.9 43.1,35.7ZM93.2,34.9 95.7,34.6 95.7,54.4 93.7,54.2 92.2,53.8 90.2,52.9 88.7,51.9 87.3,50.5 86.3,49.0 85.6,47.5 85.1,45.5 85.1,44.0 85.4,42.0 86.0,40.5 86.9,39.0 88.2,37.6 89.7,36.4 91.2,35.6ZM0.5,79.1 2.5,79.4 4.5,80.1 6.0,80.9 7.5,82.1 8.8,83.5 9.9,85.5 10.4,87.0 10.6,89.0 0.0,89.0 0.0,79.1ZM45.1,79.5 47.1,79.1 49.6,79.3 52.1,80.0 54.1,81.1 55.8,82.5 57.3,84.5 58.1,86.5 58.5,89.0 37.2,89.0 37.4,87.5 37.7,86.0 38.4,84.5 39.5,83.0 40.6,81.9 42.1,80.7 43.6,80.0ZM93.2,79.4 95.7,79.1 95.7,89.0 85.1,89.0 85.2,87.5 85.6,86.0 86.3,84.5 87.3,83.0 88.7,81.6 90.2,80.6Z"/>
<path fill="#3a941b" fill-rule="evenodd" d="M0.5,0.0 9.5,0.0 9.3,2.0 8.7,3.5 7.8,5.0 6.5,6.4 5.0,7.5 3.5,8.2 2.0,8.6 0.0,8.9 0.0,0.0ZM38.6,0.0 57.4,0.0 57.1,2.0 56.6,3.5 55.7,5.0 54.6,6.2 53.1,7.3 51.6,8.1 50.1,8.6 48.1,8.8 46.1,8.7 44.1,8.1 42.6,7.3 41.1,6.2 39.7,4.5 38.9,3.0 38.4,1.0 38.3,0.0ZM86.7,0.0 95.7,0.0 95.7,8.9 93.7,8.6 92.2,8.2 90.2,7.2 88.7,6.0 87.5,4.5 86.6,2.5 86.2,0.0ZM0.5,35.7 2.0,35.9 4.0,36.5 5.5,37.3 7.0,38.5 8.2,40.0 8.9,41.5 9.4,43.0 9.5,44.5 9.3,46.5 8.7,48.0 7.8,49.5 6.5,50.9 5.0,52.0 3.5,52.7 2.0,53.1 0.0,53.4 0.0,35.6ZM45.6,35.9 47.1,35.7 49.1,35.7 51.1,36.2 52.6,36.9 54.1,37.9 55.3,39.0 56.3,40.5 57.0,42.0 57.3,43.5 57.3,45.5 57.0,47.0 56.3,48.5 55.3,50.0 54.1,51.1 52.6,52.1 50.6,53.0 49.1,53.3 47.1,53.3 45.1,53.0 43.6,52.4 42.1,51.5 40.6,50.2 39.4,48.5 38.7,47.0 38.4,45.5 38.4,43.5 38.9,41.5 39.7,40.0 40.9,38.5 42.1,37.5 43.6,36.6ZM93.2,36.0 95.7,35.6 95.7,53.4 93.7,53.1 92.2,52.7 90.7,52.0 89.3,51.0 88.2,49.9 87.2,48.5 86.6,47.0 86.2,45.5 86.2,44.0 86.4,42.5 87.0,41.0 87.9,39.5 88.7,38.5 90.2,37.3 91.7,36.5ZM0.5,80.2 2.0,80.4 4.0,81.0 5.5,81.8 7.0,83.0 8.2,84.5 8.9,86.0 9.4,87.5 9.5,89.0 0.0,89.0 0.0,80.1ZM45.6,80.4 47.6,80.2 49.6,80.3 51.6,80.9 53.6,82.0 55.1,83.3 56.3,85.0 57.1,87.0 57.4,89.0 38.3,89.0 38.5,87.5 38.9,86.0 40.4,83.5 42.6,81.7 44.1,80.9ZM93.2,80.5 95.7,80.1 95.7,89.0 86.2,89.0 86.3,87.5 86.8,86.0 88.2,83.6 90.2,81.8 91.7,81.0Z"/>
<path fill="#419c21" fill-rule="evenodd" d="M0.5,0.0 8.6,0.0 8.4,1.5 7.9,3.0 7.0,4.5 6.0,5.6 4.9,6.5 3.5,7.3 2.0,7.7 0.0,8.0 0.0,0.0ZM39.6,0.0 56.4,0.0 56.3,1.5 55.8,3.0 54.9,4.5 54.0,5.5 52.6,6.6 51.1,7.4 49.6,7.8 48.1,8.0 46.1,7.8 44.6,7.4 43.1,6.6 41.7,5.5 40.5,4.0 39.7,2.5 39.3,0.5 39.3,0.0ZM87.2,0.0 95.7,0.0 95.7,8.0 93.7,7.7 92.2,7.3 90.8,6.5 89.7,5.6 88.7,4.5 87.8,3.0 87.3,1.5ZM0.5,36.6 2.0,36.8 3.5,37.2 5.0,38.1 6.2,39.0 7.0,40.0 7.9,41.5 8.4,43.0 8.6,44.5 8.4,46.0 7.9,47.5 7.0,49.0 6.0,50.1 4.9,51.0 3.5,51.8 2.0,52.2 0.0,52.5 0.0,36.5ZM45.1,37.0 46.6,36.6 48.6,36.6 50.1,36.8 51.6,37.4 53.1,38.2 54.1,39.1 55.1,40.3 55.8,41.5 56.3,43.0 56.4,44.5 56.3,46.0 55.8,47.5 55.1,48.7 54.1,49.9 53.1,50.8 51.6,51.6 50.1,52.2 48.1,52.5 46.1,52.3 44.6,51.9 43.1,51.1 41.7,50.0 40.8,49.0 39.9,47.5 39.4,46.0 39.3,44.0 39.6,42.5 40.2,41.0 41.1,39.7 42.3,38.5 43.6,37.6ZM93.2,36.9 95.7,36.5 95.7,52.5 94.2,52.3 92.7,51.9 91.2,51.2 90.1,50.5 89.1,49.5 88.2,48.3 87.6,47.0 87.2,45.5 87.2,44.0 87.4,42.5 88.0,41.0 88.7,40.0 90.7,38.1ZM0.5,81.1 2.0,81.3 3.5,81.7 5.0,82.6 6.2,83.5 7.0,84.5 7.9,86.0 8.4,87.5 8.6,89.0 0.0,89.0 0.0,81.0ZM45.1,81.5 47.1,81.1 49.1,81.1 51.1,81.6 52.8,82.5 54.5,84.0 55.5,85.5 56.1,87.0 56.4,89.0 39.3,89.0 39.7,86.5 40.8,84.5 42.6,82.7ZM93.2,81.4 95.7,81.0 95.7,89.0 87.1,89.0 87.6,86.5 88.7,84.5 90.7,82.6Z"/>
<path fill="#55ad30" fill-rule="evenodd" d="M0.5,0.0 7.7,0.0 7.2,2.5 6.4,4.0 5.5,5.0 4.5,5.8 3.0,6.6 1.5,7.0 0.0,7.2 0.0,0.0ZM40.6,0.0 55.6,0.0 55.4,1.5 55.1,2.5 54.2,4.0 53.4,5.0 51.1,6.5 49.6,7.0 48.1,7.2 46.6,7.1 45.1,6.7 43.6,6.0 42.3,5.0 41.1,3.5 40.4,2.0 40.1,0.0ZM88.2,0.0 95.7,0.0 95.7,7.2 94.2,7.0 92.7,6.6 91.2,5.8 90.2,5.0 89.3,4.0 88.5,2.5 88.0,0.5 88.0,0.0ZM0.5,37.3 3.0,37.9 4.5,38.7 5.5,39.5 6.4,40.5 7.2,42.0 7.7,44.5 7.2,47.0 6.4,48.5 5.5,49.5 4.5,50.3 3.0,51.1 1.5,51.5 0.0,51.7 0.0,37.3ZM46.6,37.4 48.1,37.3 49.6,37.5 52.1,38.5 53.4,39.5 54.2,40.5 54.9,41.5 55.4,43.0 55.6,44.5 55.4,46.0 54.9,47.5 54.2,48.5 53.4,49.5 52.1,50.5 49.6,51.5 48.1,51.7 46.6,51.6 45.1,51.2 43.6,50.5 42.3,49.5 41.5,48.5 40.8,47.5 40.3,46.0 40.1,44.5 40.3,43.0 40.8,41.5 41.5,40.5 42.3,39.5 43.6,38.5 45.1,37.8ZM94.2,37.5 95.7,37.3 95.7,51.7 93.2,51.3 91.7,50.6 90.7,49.9 89.7,49.0 88.7,47.5 88.3,46.5 88.0,45.0 88.3,42.5 89.0,41.0 89.7,40.0 91.7,38.4ZM0.5,81.8 3.0,82.4 4.5,83.2 5.5,84.0 6.4,85.0 7.2,86.5 7.7,89.0 0.0,89.0 0.0,81.8ZM46.6,81.9 48.6,81.9 50.1,82.1 51.6,82.7 52.8,83.5 53.8,84.5 54.9,86.0 55.4,87.5 55.6,89.0 40.1,89.0 40.3,87.5 40.6,86.5 41.9,84.5 42.9,83.5 44.1,82.7ZM94.2,82.0 95.7,81.8 95.7,89.0 88.0,89.0 88.5,86.5 89.7,84.5 91.7,82.9Z"/>
<path fill="#6dbe41" fill-rule="evenodd" d="M0.5,0.0 7.0,0.0 6.9,0.5 6.6,2.0 6.2,3.0 5.5,4.0 4.5,4.9 2.5,6.0 0.0,6.5 0.0,0.0ZM41.1,0.0 54.8,0.0 54.7,1.0 54.3,2.5 52.9,4.5 51.6,5.5 50.6,6.0 48.1,6.5 46.6,6.4 45.1,6.0 44.1,5.5 42.8,4.5 42.0,3.5 41.2,2.0 40.9,0.5 40.9,0.0ZM89.2,0.0 95.7,0.0 95.7,6.5 93.2,6.0 91.7,5.3 90.7,4.5 89.8,3.5 89.1,2.0 88.7,0.0ZM0.5,38.0 3.0,38.7 5.0,40.0 6.4,42.0 6.8,43.0 7.0,44.5 6.8,46.0 6.4,47.0 5.0,49.0 4.0,49.8 2.5,50.5 0.0,51.0 0.0,38.0ZM45.6,38.4 48.1,38.0 50.6,38.5 51.6,39.0 52.9,40.0 54.3,42.0 54.7,43.5 54.8,44.5 54.7,45.5 54.3,47.0 52.9,49.0 51.6,50.0 50.6,50.5 48.1,51.0 46.6,50.9 45.1,50.5 44.1,50.0 42.8,49.0 41.4,47.0 41.0,45.5 40.9,44.5 41.0,43.5 41.4,42.0 42.1,40.9 43.1,39.8 44.2,39.0ZM93.2,38.5 95.7,38.0 95.7,51.0 93.2,50.5 91.2,49.4 90.2,48.5 89.5,47.5 88.8,45.5 88.8,43.5 89.7,41.2 91.2,39.6ZM0.5,82.5 3.0,83.2 5.0,84.5 6.4,86.5 6.8,87.5 7.0,89.0 0.0,89.0 0.0,82.5ZM45.6,82.9 47.1,82.6 49.1,82.6 50.6,83.0 52.1,83.9 53.1,84.8 54.0,86.0 54.6,87.5 54.8,89.0 40.9,89.0 41.2,87.0 42.1,85.4 43.6,83.9ZM93.2,83.0 95.7,82.5 95.7,89.0 88.7,89.0 89.1,87.0 89.8,85.5 91.3,84.0Z"/>
<path fill="#82ce50" fill-rule="evenodd" d="M0.5,0.0 6.3,0.0 6.3,0.5 5.7,2.5 5.1,3.5 4.0,4.5 2.0,5.6 0.0,5.9 0.0,0.0ZM41.6,0.0 54.2,0.0 53.8,2.0 53.3,3.0 52.5,4.0 50.6,5.3 49.6,5.6 48.1,5.9 45.6,5.5 43.6,4.3 42.1,2.5 41.6,1.0ZM89.7,0.0 95.7,0.0 95.7,5.9 93.2,5.4 92.2,4.9 91.1,4.0 90.3,3.0 89.8,2.0 89.4,0.0ZM0.5,38.7 2.5,39.1 3.5,39.6 4.6,40.5 5.4,41.5 5.9,42.5 6.3,44.5 5.9,46.5 5.4,47.5 4.5,48.6 2.5,49.9 0.0,50.4 0.0,38.6ZM46.1,38.9 48.6,38.7 50.6,39.2 52.5,40.5 53.3,41.5 53.8,42.5 54.1,43.5 54.1,45.0 53.6,47.0 52.1,48.8 50.1,50.0 47.6,50.4 46.1,50.1 45.1,49.8 43.2,48.5 42.4,47.5 41.9,46.5 41.6,45.5 41.6,44.0 42.1,42.0 42.8,41.0 43.8,40.0 45.1,39.2ZM93.7,38.9 95.7,38.6 95.7,50.4 93.7,50.1 91.7,49.0 90.3,47.5 89.5,45.5 89.5,43.5 90.3,41.5 91.7,40.0ZM0.5,83.2 2.5,83.6 3.5,84.1 4.6,85.0 5.4,86.0 5.9,87.0 6.3,89.0 0.0,89.0 0.0,83.1ZM46.1,83.4 47.6,83.1 49.1,83.3 50.6,83.7 51.6,84.3 52.6,85.2 53.6,86.5 53.9,87.5 54.2,89.0 41.5,89.0 41.9,87.0 42.8,85.5 44.1,84.3ZM93.7,83.4 95.7,83.1 95.7,89.0 89.4,89.0 89.8,87.0 90.6,85.5 92.2,84.1Z"/>
<path fill="#9cd85b" fill-rule="evenodd" d="M0.5,0.0 5.7,0.0 5.7,0.5 5.0,2.5 3.7,4.0 2.0,5.0 0.0,5.3 0.0,0.0ZM42.6,0.0 53.6,0.0 53.1,2.0 52.1,3.5 51.1,4.4 50.1,4.9 48.1,5.3 46.6,5.2 45.6,4.9 44.6,4.4 43.6,3.5 42.8,2.5 42.4,1.5 42.1,0.0ZM90.2,0.0 95.7,0.0 95.7,5.3 93.7,5.0 91.7,3.8 90.4,2.0 90.0,0.5 90.0,0.0ZM0.5,39.2 2.5,39.7 4.3,41.0 5.3,42.5 5.7,44.5 5.3,46.5 4.0,48.3 2.0,49.5 0.0,49.8 0.0,39.2ZM46.1,39.4 48.1,39.2 50.1,39.6 51.1,40.1 52.1,41.0 53.1,42.5 53.6,44.5 53.1,46.5 52.1,48.0 51.1,48.9 50.1,49.4 48.1,49.8 46.6,49.7 45.6,49.4 44.6,48.9 43.6,48.0 42.6,46.5 42.1,44.5 42.6,42.5 43.1,41.5 44.1,40.5ZM94.2,39.4 95.7,39.2 95.7,49.8 93.7,49.5 92.0,48.5 90.7,47.0 90.0,45.0 90.2,43.0 91.0,41.5 92.2,40.3ZM0.5,83.7 2.5,84.2 4.3,85.5 5.3,87.0 5.7,89.0 0.0,89.0 0.0,83.7ZM46.1,83.9 47.1,83.7 48.6,83.7 50.1,84.1 51.1,84.6 52.1,85.5 52.9,86.5 53.3,87.5 53.6,89.0 42.1,89.0 42.4,87.5 43.1,86.0 44.6,84.6ZM94.2,83.9 95.7,83.7 95.7,89.0 90.0,89.0 90.2,87.5 91.2,85.8 92.7,84.5Z"/>
<path fill="#b5e166" fill-rule="evenodd" d="M0.5,0.0 5.2,0.0 5.1,0.5 4.7,2.0 3.5,3.5 2.0,4.4 0.0,4.8 0.0,0.0ZM43.1,0.0 53.0,0.0 52.9,1.0 52.5,2.0 51.4,3.5 49.6,4.5 47.6,4.8 45.6,4.3 43.8,3.0 43.2,2.0 42.8,1.0 42.7,0.0ZM90.7,0.0 95.7,0.0 95.7,4.8 93.7,4.4 92.2,3.5 91.0,2.0 90.6,0.5 90.5,0.0ZM0.5,39.7 2.5,40.3 4.0,41.5 4.9,43.0 5.2,44.5 4.7,46.5 3.5,48.0 2.0,48.9 0.0,49.3 0.0,39.7ZM46.1,40.0 48.1,39.7 50.1,40.2 51.6,41.2 52.5,42.5 53.0,44.0 52.8,46.0 51.9,47.5 50.1,48.8 48.1,49.3 46.1,49.0 44.3,48.0 43.2,46.5 42.8,45.5 42.7,44.5 42.8,43.5 43.2,42.5 44.3,41.0ZM94.2,39.9 95.7,39.7 95.7,49.3 93.7,48.9 92.2,48.0 91.0,46.5 90.6,45.0 90.6,43.5 91.3,42.0 92.7,40.6ZM0.5,84.2 2.5,84.8 4.0,86.0 4.9,87.5 5.2,89.0 0.0,89.0 0.0,84.2ZM46.1,84.5 47.1,84.2 48.6,84.2 50.7,85.0 52.3,86.5 52.8,87.5 53.0,89.0 42.7,89.0 42.9,87.5 43.6,86.3 44.6,85.3ZM94.2,84.4 95.7,84.2 95.7,89.0 90.5,89.0 90.8,87.5 91.7,86.0 92.7,85.1Z"/>
<path fill="#cbe76c" fill-rule="evenodd" d="M0.5,0.0 4.7,0.0 4.6,0.5 4.1,2.0 3.0,3.3 1.5,4.1 0.0,4.3 0.0,0.0ZM43.6,0.0 52.5,0.0 52.2,1.5 51.1,3.1 49.6,4.0 47.6,4.3 46.1,4.0 44.5,3.0 43.7,2.0 43.3,1.0 43.2,0.0ZM91.2,0.0 95.7,0.0 95.7,4.3 93.7,3.9 92.3,3.0 91.3,1.5 91.1,0.5 91.0,0.0ZM0.5,40.2 2.0,40.6 3.5,41.6 4.4,43.0 4.7,44.5 4.4,46.0 3.4,47.5 2.0,48.4 0.0,48.8 0.0,40.2ZM46.1,40.5 47.6,40.2 49.6,40.5 51.1,41.4 52.0,42.5 52.5,44.0 52.4,45.5 51.6,47.1 50.1,48.3 48.6,48.8 46.6,48.7 45.1,48.0 43.7,46.5 43.2,45.0 43.2,44.0 43.5,43.0 44.5,41.5ZM94.2,40.4 95.7,40.2 95.7,48.8 94.2,48.6 92.7,47.8 91.6,46.5 91.1,45.0 91.2,43.5 91.9,42.0 92.9,41.0ZM0.5,84.7 2.0,85.1 3.5,86.1 4.4,87.5 4.7,89.0 0.0,89.0 0.0,84.7ZM46.1,85.0 47.1,84.7 48.6,84.7 50.6,85.5 52.0,87.0 52.4,88.0 52.5,89.0 43.2,89.0 43.5,87.5 44.0,86.5 45.1,85.5ZM94.2,84.9 95.7,84.7 95.7,89.0 91.0,89.0 91.3,87.5 91.9,86.5 92.9,85.5Z"/>
<path fill="#dbe463" fill-rule="evenodd" d="M0.5,0.0 4.2,0.0 4.2,0.5 3.6,2.0 2.7,3.0 1.5,3.7 0.0,3.9 0.0,0.0ZM44.1,0.0 52.1,0.0 51.7,1.5 51.1,2.5 49.6,3.6 48.1,3.9 46.1,3.6 44.6,2.5 43.8,1.0 43.6,0.0ZM91.7,0.0 95.7,0.0 95.7,3.9 94.2,3.7 92.7,2.7 91.8,1.5 91.5,0.5 91.5,0.0ZM0.5,40.6 2.0,41.1 3.2,42.0 3.9,43.0 4.2,44.5 3.9,46.0 3.0,47.2 1.5,48.2 0.0,48.4 0.0,40.6ZM46.1,40.9 47.6,40.6 49.1,40.8 50.5,41.5 51.5,42.5 52.0,44.0 51.9,45.5 51.1,47.0 50.1,47.8 48.6,48.4 47.1,48.4 45.6,47.8 44.2,46.5 43.7,45.0 43.8,43.5 44.6,42.0ZM94.2,40.8 95.7,40.6 95.7,48.4 94.2,48.2 93.0,47.5 92.1,46.5 91.5,45.0 91.6,43.5 92.1,42.5 93.0,41.5ZM0.5,85.1 2.0,85.6 3.2,86.5 3.9,87.5 4.2,89.0 0.0,89.0 0.0,85.1ZM46.1,85.4 48.1,85.1 49.1,85.3 50.1,85.7 51.5,87.0 51.9,88.0 52.1,89.0 43.6,89.0 43.8,88.0 44.2,87.0 45.1,86.0ZM94.2,85.3 95.7,85.1 95.7,89.0 91.5,89.0 91.6,88.0 92.2,86.9 93.0,86.0Z"/>
<path fill="#eae05b" fill-rule="evenodd" d="M0.5,0.0 3.8,0.0 3.7,0.5 3.4,1.5 2.5,2.6 1.5,3.2 0.0,3.5 0.0,0.0ZM44.1,0.0 51.6,0.0 51.3,1.5 50.5,2.5 49.1,3.3 47.6,3.5 46.1,3.1 45.1,2.4 44.4,1.5ZM92.2,0.0 95.7,0.0 95.7,3.5 94.2,3.2 93.1,2.5 92.1,1.0 91.9,0.0ZM0.1,41.0 1.5,41.3 2.6,42.0 3.4,43.0 3.8,44.5 3.4,46.0 2.6,47.0 1.5,47.7 0.0,48.0ZM95.7,41.0 95.7,48.0 94.2,47.7 93.1,47.0 92.3,46.0 91.9,44.5 92.3,43.0 93.1,42.0 94.2,41.3ZM46.1,41.4 47.1,41.1 48.6,41.1 50.1,41.7 50.9,42.5 51.5,43.5 51.6,45.0 51.1,46.3 50.1,47.3 48.6,47.9 47.1,47.9 45.6,47.3 44.8,46.5 44.1,45.0 44.2,43.5 45.1,42.1ZM0.1,85.5 1.5,85.8 2.6,86.5 3.4,87.5 3.8,89.0 0.0,89.0ZM95.7,85.5 95.7,89.0 91.9,89.0 92.3,87.5 93.1,86.5 94.2,85.8ZM46.1,85.9 47.1,85.6 48.1,85.5 49.8,86.0 51.1,87.2 51.5,88.0 51.6,89.0 44.1,89.0 44.2,88.0 44.6,87.2 45.2,86.5Z"/>
<path fill="#edc341" fill-rule="evenodd" d="M0.5,0.0 3.4,0.0 3.3,0.5 2.9,1.5 2.0,2.5 1.0,3.0 0.0,3.1 0.0,0.0ZM44.6,0.0 51.2,0.0 50.8,1.5 50.1,2.3 49.1,2.9 47.6,3.1 46.1,2.7 45.3,2.0 44.7,1.0ZM92.7,0.0 95.7,0.0 95.7,3.1 94.2,2.8 93.2,2.1 92.8,1.5 92.4,0.5 92.3,0.0ZM0.5,41.4 1.5,41.7 2.6,42.5 3.2,43.5 3.4,44.5 3.2,45.5 2.5,46.6 1.5,47.3 0.0,47.6 0.0,41.4ZM47.1,41.5 48.6,41.5 49.6,41.8 50.6,42.7 51.2,44.0 51.2,45.0 50.6,46.3 49.6,47.2 48.6,47.5 47.1,47.5 46.1,47.2 45.1,46.3 44.5,45.0 44.5,44.0 45.1,42.7 46.1,41.8ZM95.2,41.4 95.7,41.4 95.7,47.6 94.2,47.3 93.2,46.6 92.5,45.5 92.3,44.5 92.5,43.5 93.1,42.5 94.2,41.7ZM0.5,85.9 1.5,86.2 2.6,87.0 3.2,88.0 3.4,89.0 0.0,89.0 0.0,85.9ZM47.1,86.0 48.6,86.0 49.8,86.5 50.8,87.5 51.2,89.0 44.5,89.0 44.7,88.0 45.3,87.0 46.1,86.3ZM95.2,85.9 95.7,85.9 95.7,89.0 92.3,89.0 92.5,88.0 93.1,87.0 94.2,86.2Z"/>
<path fill="#eda72a" fill-rule="evenodd" d="M0.5,0.0 2.9,0.0 2.9,0.5 2.5,1.4 2.0,2.0 1.0,2.6 0.0,2.7 0.0,0.0ZM45.1,0.0 50.8,0.0 50.6,1.0 49.8,2.0 48.6,2.6 47.6,2.7 46.6,2.5 45.6,1.7 45.0,0.5 44.9,0.0ZM93.2,0.0 95.7,0.0 95.7,2.7 94.7,2.6 93.7,2.0 93.2,1.4 92.8,0.5 92.8,0.0ZM0.5,41.8 2.0,42.5 2.7,43.5 2.9,44.5 2.7,45.5 2.0,46.5 1.0,47.1 0.0,47.2 0.0,41.8ZM47.1,41.9 48.6,41.9 49.6,42.3 50.3,43.0 50.7,44.0 50.7,45.0 50.3,46.0 49.6,46.7 48.6,47.1 47.1,47.1 46.1,46.7 45.4,46.0 45.0,45.0 45.0,44.0 45.4,43.0 46.1,42.3ZM94.7,41.9 95.7,41.8 95.7,47.2 94.7,47.1 93.7,46.5 93.2,45.9 92.8,45.0 92.8,44.0 93.2,43.1 93.7,42.5ZM0.5,86.3 2.0,87.0 2.7,88.0 2.9,89.0 0.0,89.0 0.0,86.3ZM47.1,86.4 48.6,86.4 49.6,86.8 50.6,88.0 50.8,89.0 44.9,89.0 45.1,88.0 45.6,87.3 46.1,86.8ZM94.7,86.4 95.7,86.3 95.7,89.0 92.8,89.0 93.2,87.5 93.7,87.0Z"/>
<path fill="#e99824" fill-rule="evenodd" d="M0.5,0.0 2.5,0.0 2.5,0.5 2.0,1.4 1.5,1.9 0.0,2.3 0.0,0.0ZM45.6,0.0 50.4,0.0 50.1,1.0 49.8,1.5 49.1,2.0 48.1,2.3 47.1,2.2 46.1,1.7 45.4,0.5 45.3,0.0ZM93.2,0.0 95.7,0.0 95.7,2.3 94.7,2.2 93.8,1.5 93.4,1.0ZM0.5,42.2 1.3,42.5 1.9,43.0 2.3,43.5 2.5,44.5 2.3,45.5 1.9,46.0 1.0,46.7 0.0,46.8 0.0,42.2ZM46.6,42.5 47.6,42.2 48.6,42.3 49.6,42.8 50.1,43.4 50.3,44.0 50.3,45.0 49.8,46.0 49.2,46.5 48.1,46.8 47.1,46.7 46.1,46.2 45.6,45.6 45.4,45.0 45.4,44.0 45.9,43.0ZM94.7,42.3 95.7,42.2 95.7,46.8 94.2,46.4 93.7,45.9 93.2,45.0 93.2,44.0 93.4,43.5 93.8,43.0ZM0.5,86.7 1.3,87.0 1.9,87.5 2.3,88.0 2.5,89.0 0.0,89.0 0.0,86.7ZM46.6,87.0 47.6,86.7 49.1,87.0 50.1,87.9 50.4,89.0 45.3,89.0 45.6,87.9ZM94.7,86.8 95.7,86.7 95.7,89.0 93.2,89.0 93.7,87.6Z"/>
<path fill="#e7922c" fill-rule="evenodd" d="M0.5,0.0 2.1,0.0 2.0,0.5 1.3,1.5 0.0,1.9 0.0,0.0ZM46.1,0.0 49.9,0.0 49.6,1.1 49.1,1.6 48.1,1.9 47.1,1.8 46.5,1.5 45.8,0.5 45.8,0.0ZM93.7,0.0 95.7,0.0 95.7,1.9 94.7,1.7 94.2,1.3 93.7,0.5ZM0.5,42.6 1.5,43.2 2.0,43.9 2.1,44.5 2.0,45.1 1.5,45.8 1.0,46.2 0.0,46.4 0.0,42.6ZM46.6,42.9 47.1,42.7 48.1,42.6 49.1,42.9 49.6,43.4 49.9,44.0 49.9,45.0 49.2,46.0 48.6,46.3 47.6,46.4 46.6,46.1 46.1,45.6 45.8,45.0 45.8,44.0ZM94.7,42.8 95.7,42.6 95.7,46.4 94.4,46.0 93.7,45.0 93.7,43.9 94.2,43.2ZM0.5,87.1 1.5,87.7 2.0,88.4 2.1,89.0 0.0,89.0 0.0,87.1ZM46.6,87.4 47.6,87.1 48.6,87.2 49.6,87.9 49.9,89.0 45.8,89.0 46.1,88.0ZM94.7,87.3 95.7,87.1 95.7,89.0 93.6,89.0 93.9,88.0Z"/>
<path fill="#edc599" fill-rule="evenodd" d="M0.5,0.0 1.6,0.0 1.5,0.5 1.0,1.2 0.0,1.5 0.0,0.0ZM46.6,0.0 49.5,0.0 49.1,1.0 48.1,1.5 47.6,1.5 46.6,1.0 46.2,0.0ZM94.2,0.0 95.7,0.0 95.7,1.5 95.2,1.4 94.5,1.0 94.2,0.5ZM0.0,43.0 1.2,43.5 1.6,44.5 1.2,45.5 0.5,45.9 0.0,46.0ZM95.7,43.0 95.7,46.0 95.2,45.9 94.5,45.5 94.1,44.5 94.5,43.5 95.2,43.1ZM47.1,43.2 47.6,43.0 48.6,43.2 49.4,44.0 49.4,45.0 48.6,45.8 48.1,46.0 47.1,45.8 46.3,45.0 46.3,44.0ZM0.0,87.5 1.2,88.0 1.6,89.0 0.0,89.0ZM95.7,87.5 95.7,89.0 94.1,89.0 94.5,88.0 95.2,87.6ZM47.1,87.7 47.6,87.5 48.6,87.7 49.1,88.1 49.5,89.0 46.2,89.0 46.6,88.1Z"/>
<path fill="#f7f7f7" fill-rule="evenodd" d="M0.5,0.0 1.0,0.0 0.8,0.5 0.0,0.9 0.0,0.0ZM47.1,0.0 48.8,0.0 48.7,0.5 48.1,0.9 47.6,0.9 47.1,0.6 46.9,0.0ZM94.7,0.0 95.7,0.0 95.7,0.9 94.9,0.5ZM0.5,43.7 0.8,44.0 1.0,44.5 0.8,45.0 0.0,45.4 0.0,43.6ZM47.1,43.9 47.6,43.6 48.1,43.6 48.6,43.9 48.8,44.5 48.7,45.0 48.1,45.4 47.6,45.4 47.1,45.1 46.9,44.5ZM95.2,43.7 95.7,43.6 95.7,45.4 94.9,45.0 94.7,44.5 94.9,44.0ZM0.5,88.2 1.0,89.0 0.0,89.0 0.0,88.1ZM47.1,88.4 47.6,88.1 48.1,88.1 48.7,88.5 48.8,89.0 46.9,89.0ZM95.2,88.2 95.7,88.1 95.7,89.0 94.7,89.0Z"/></g>
<clipPath id="ct"><rect width="126.5" height="122"/></clipPath>
<clipPath id="cs"><rect width="95.7" height="89"/></clipPath>
</defs>
<path d="M145.51,465.50v-5.10 M145.51,66.60v5.10 M218.45,465.50v-5.10 M218.45,66.60v5.10 M291.38,465.50v-5.10 M291.38,66.60v5.10 M364.32,465.50v-5.10 M364.32,66.60v5.10 M181.98,465.50v-2.90 M181.98,66.60v2.90 M254.92,465.50v-2.90 M254.92,66.60v2.90 M327.85,465.50v-2.90 M327.85,66.60v2.90 M116.30,465.60h5.10 M400.60,465.60h-5.10 M116.30,393.10h5.10 M400.60,393.10h-5.10 M116.30,320.60h5.10 M400.60,320.60h-5.10 M116.30,248.10h5.10 M400.60,248.10h-5.10 M116.30,175.60h5.10 M400.60,175.60h-5.10 M116.30,103.10h5.10 M400.60,103.10h-5.10 M116.30,429.35h2.90 M400.60,429.35h-2.90 M116.30,356.85h2.90 M400.60,356.85h-2.90 M116.30,284.35h2.90 M400.60,284.35h-2.90 M116.30,211.85h2.90 M400.60,211.85h-2.90 M116.30,139.35h2.90 M400.60,139.35h-2.90" stroke="#000" stroke-width="1.05" fill="none"/>
<rect x="116.30" y="66.60" width="284.30" height="398.90" fill="none" stroke="#000" stroke-width="1.2"/>
<text transform="translate(145.51,483.90) scale(1,1.035)" text-anchor="middle" style="font-family:'Liberation Sans';font-size:15.9px;" fill="#000" >-0.5</text>
<text transform="translate(218.45,483.90) scale(1,1.035)" text-anchor="middle" style="font-family:'Liberation Sans';font-size:15.9px;" fill="#000" >0.0</text>
<text transform="translate(291.38,483.90) scale(1,1.035)" text-anchor="middle" style="font-family:'Liberation Sans';font-size:15.9px;" fill="#000" >0.5</text>
<text transform="translate(364.32,483.90) scale(1,1.035)" text-anchor="middle" style="font-family:'Liberation Sans';font-size:15.9px;" fill="#000" >1.0</text>
<text transform="translate(111.00,470.60) scale(1,1.035)" text-anchor="end" style="font-family:'Liberation Sans';font-size:15.4px;" fill="#000" >0.0</text>
<text transform="translate(111.00,398.10) scale(1,1.035)" text-anchor="end" style="font-family:'Liberation Sans';font-size:15.4px;" fill="#000" >0.2</text>
<text transform="translate(111.00,325.60) scale(1,1.035)" text-anchor="end" style="font-family:'Liberation Sans';font-size:15.4px;" fill="#000" >0.4</text>
<text transform="translate(111.00,253.10) scale(1,1.035)" text-anchor="end" style="font-family:'Liberation Sans';font-size:15.4px;" fill="#000" >0.6</text>
<text transform="translate(111.00,180.60) scale(1,1.035)" text-anchor="end" style="font-family:'Liberation Sans';font-size:15.4px;" fill="#000" >0.8</text>
<text transform="translate(111.00,108.10) scale(1,1.035)" text-anchor="end" style="font-family:'Liberation Sans';font-size:15.4px;" fill="#000" >1.0</text>
<g clip-path="url(#ca)" fill="none" stroke-width="1.35" stroke-linejoin="round">
<path d="M116.4,465.4 L191.8,465.4 L192.3,462.0 L192.9,430.0 L193.5,380.0 L194.0,330.0 L194.6,270.0 L195.3,210.0 L196.2,170.0 L197.2,147.1 L198.2,170.0 L199.3,200.0 L200.2,235.0 L201.2,270.0 L202.5,310.0 L203.6,330.0 L205.0,349.0 L206.8,368.0 L210.0,387.0 L212.6,397.0 L218.3,410.3 L225.0,421.8 L229.8,430.0 L236.0,436.1 L238.0,438.3 L240.0,440.2 L242.0,441.8 L244.0,443.3 L246.0,444.6 L248.0,445.8 L250.0,446.9 L252.0,448.0 L254.0,448.9 L256.0,449.8 L258.0,450.6 L260.0,451.4 L262.0,452.1 L264.0,452.8 L266.0,453.4 L268.0,454.0 L270.0,454.6 L272.0,455.1 L274.0,455.6 L276.0,456.1 L278.0,456.5 L280.0,456.9 L282.0,457.3 L284.0,457.7 L286.0,458.0 L288.0,458.4 L290.0,458.7 L292.0,459.0 L294.0,459.3 L296.0,459.6 L298.0,459.8 L300.0,460.1 L302.0,460.3 L304.0,460.5 L306.0,460.8 L308.0,461.0 L310.0,461.1 L312.0,461.3 L314.0,461.5 L316.0,461.7 L318.0,461.8 L320.0,462.0 L322.0,462.1 L324.0,462.2 L326.0,462.4 L328.0,462.5 L330.0,462.6 L332.0,462.7 L334.0,462.8 L336.0,462.9 L338.0,463.0 L340.0,463.1 L342.0,463.2 L344.0,463.3 L346.0,463.4 L348.0,463.4 L350.0,463.5 L352.0,463.6 L354.0,463.6 L356.0,463.7 L358.0,463.8 L360.0,463.8 L362.0,463.9 L364.0,463.9 L366.0,464.0 L368.0,464.0 L370.0,464.1 L372.0,464.1 L374.0,464.2 L376.0,464.2 L378.0,464.2 L380.0,464.3 L382.0,464.3 L384.0,464.3 L386.0,464.4 L388.0,464.4 L390.0,464.5 L392.0,464.5 L394.0,464.5 L396.0,464.6 L398.0,464.6 L400.0,464.7" stroke="#000"/>
<path d="M224.0,417.9 L225.0,419.9 L226.0,421.9 L227.0,423.7 L228.0,425.5 L229.0,427.2 L230.0,428.8 L231.0,430.4 L232.0,431.9 L233.0,433.3 L234.0,434.7 L235.0,436.0 L236.0,437.2 L237.0,438.3 L238.0,439.4 L239.0,440.4 L240.0,441.3 L241.0,442.1 L242.0,442.9 L243.0,443.7 L244.0,444.4 L245.0,445.1 L246.0,445.7 L247.0,446.3 L248.0,446.9 L249.0,447.5 L250.0,448.0 L251.0,448.5 L252.0,449.0 L253.0,449.5 L254.0,450.0 L255.0,450.4 L256.0,450.8 L257.0,451.2 L258.0,451.6 L259.0,452.0 L260.0,452.4 L261.0,452.8 L262.0,453.1 L263.0,453.4 L264.0,453.8 L265.0,454.1 L266.0,454.4 L267.0,454.7 L268.0,455.0 L269.0,455.3 L270.0,455.5 L271.0,455.8 L272.0,456.1 L273.0,456.3 L274.0,456.5 L275.0,456.8 L276.0,457.0 L277.0,457.2 L278.0,457.4 L279.0,457.7 L280.0,457.9 L281.0,458.1 L282.0,458.2 L283.0,458.4 L284.0,458.6 L285.0,458.8 L286.0,459.0 L287.0,459.1 L288.0,459.3 L289.0,459.4 L290.0,459.6 L291.0,459.8 L292.0,459.9 L293.0,460.0 L294.0,460.2 L295.0,460.3 L296.0,460.4 L297.0,460.6 L298.0,460.7 L299.0,460.8 L300.0,460.9 L301.0,461.0 L302.0,461.2 L303.0,461.3 L304.0,461.4 L305.0,461.5 L306.0,461.6 L307.0,461.6 L308.0,461.7 L309.0,461.8 L310.0,461.9 L311.0,462.0 L312.0,462.1 L313.0,462.2 L314.0,462.2 L315.0,462.3 L316.0,462.4 L317.0,462.5 L318.0,462.5 L319.0,462.6 L320.0,462.7 L321.0,462.7 L322.0,462.8 L323.0,462.8 L324.0,462.9 L325.0,463.0" stroke="#000" stroke-width="1.9" stroke-dasharray="0.9 5.0" stroke-linecap="round"/>
<path d="M331.0,460.9 L332.0,461.0 L333.0,461.1 L334.0,461.1 L335.0,461.2 L336.0,461.3 L337.0,461.3 L338.0,461.4 L339.0,461.4 L340.0,461.5 L341.0,461.6 L342.0,461.6 L343.0,461.7 L344.0,461.7 L345.0,461.8 L346.0,461.8 L347.0,461.9 L348.0,461.9 L349.0,462.0 L350.0,462.0 L351.0,462.0 L352.0,462.1 L353.0,462.1 L354.0,462.2 L355.0,462.2 L356.0,462.3 L357.0,462.3 L358.0,462.3 L359.0,462.4 L360.0,462.4 L361.0,462.5 L362.0,462.5 L363.0,462.5 L364.0,462.6 L365.0,462.6 L366.0,462.6 L367.0,462.7 L368.0,462.7 L369.0,462.7 L370.0,462.8 L371.0,462.8 L372.0,462.8 L373.0,462.9 L374.0,462.9 L375.0,462.9 L376.0,463.0 L377.0,463.0 L378.0,463.0 L379.0,463.0 L380.0,463.1 L381.0,463.1 L382.0,463.1 L383.0,463.2 L384.0,463.2 L385.0,463.2 L386.0,463.2 L387.0,463.3 L388.0,463.3" stroke="#000" stroke-width="1.7" stroke-dasharray="0.8 4.6" stroke-linecap="round"/>
<path d="M114.4,465.6 L114.8,465.6 L115.2,465.6 L115.7,465.6 L116.1,465.6 L116.6,465.6 L117.0,465.6 L117.4,465.6 L117.9,465.6 L118.3,465.6 L118.7,465.6 L119.2,465.6 L119.6,465.6 L120.1,465.6 L120.5,465.6 L120.9,465.6 L121.4,465.6 L121.8,465.6 L122.2,465.6 L122.7,465.6 L123.1,465.6 L123.6,465.6 L124.0,465.6 L124.4,465.6 L124.9,465.6 L125.3,465.6 L125.7,465.6 L126.2,465.6 L126.6,465.6 L127.1,465.6 L127.5,465.6 L127.9,465.6 L128.4,465.6 L128.8,465.6 L129.3,465.6 L129.7,465.6 L130.1,465.6 L130.6,465.6 L131.0,465.6 L131.4,465.6 L131.9,465.6 L132.3,465.6 L132.8,465.6 L133.2,465.6 L133.6,465.6 L134.1,465.6 L134.5,465.6 L134.9,465.6 L135.4,465.6 L135.8,465.6 L136.3,465.6 L136.7,465.6 L137.1,465.6 L137.6,465.6 L138.0,465.6 L138.4,465.6 L138.9,465.6 L139.3,465.6 L139.8,465.6 L140.2,465.6 L140.6,465.6 L141.1,465.6 L141.5,465.6 L141.9,465.6 L142.4,465.6 L142.8,465.6 L143.3,465.6 L143.7,465.6 L144.1,465.6 L144.6,465.6 L145.0,465.6 L145.4,465.6 L145.9,465.6 L146.3,465.6 L146.8,465.6 L147.2,465.6 L147.6,465.6 L148.1,465.6 L148.5,465.6 L148.9,465.6 L149.4,465.6 L149.8,465.6 L150.3,465.6 L150.7,465.6 L151.1,465.6 L151.6,465.6 L152.0,465.6 L152.4,465.6 L152.9,465.6 L153.3,465.6 L153.8,465.6 L154.2,465.6 L154.6,465.6 L155.1,465.6 L155.5,465.6 L155.9,465.6 L156.4,465.6 L156.8,465.6 L157.3,465.6 L157.7,465.6 L158.1,465.6 L158.6,465.6 L159.0,465.6 L159.4,465.6 L159.9,465.6 L160.3,465.6 L160.8,465.6 L161.2,465.6 L161.6,465.6 L162.1,465.6 L162.5,465.6 L162.9,465.5 L163.4,465.5 L163.8,465.5 L164.3,465.5 L164.7,465.5 L165.1,465.5 L165.6,465.4 L166.0,465.4 L166.4,465.4 L166.9,465.3 L167.3,465.3 L167.8,465.2 L168.2,465.2 L168.6,465.1 L169.1,465.0 L169.5,464.9 L169.9,464.8 L170.4,464.6 L170.8,464.5 L171.3,464.3 L171.7,464.1 L172.1,463.9 L172.6,463.7 L173.0,463.4 L173.4,463.1 L173.9,462.8 L174.3,462.4 L174.8,462.0 L175.2,461.5 L175.6,461.0 L176.1,460.4 L176.5,459.8 L176.9,459.1 L177.4,458.4 L177.8,457.6 L178.3,456.7 L178.7,455.7 L179.1,454.6 L179.6,453.5 L180.0,452.2 L180.5,450.9 L180.9,449.5 L181.3,448.0 L181.8,446.3 L182.2,444.6 L182.6,442.7 L183.1,440.8 L183.5,438.7 L184.0,436.5 L184.4,434.2 L184.8,431.9 L185.3,429.3 L185.7,426.7 L186.1,424.0 L186.6,421.2 L187.0,418.3 L187.5,415.4 L187.9,412.3 L188.3,409.2 L188.8,406.0 L189.2,402.8 L189.6,399.5 L190.1,396.2 L190.5,392.9 L191.0,389.5 L191.4,386.2 L191.8,382.9 L192.3,379.6 L192.7,376.4 L193.1,373.2 L193.6,370.1 L194.0,367.1 L194.5,364.2 L194.9,361.4 L195.3,358.7 L195.8,356.2 L196.2,353.8 L196.6,351.5 L197.1,349.4 L197.5,347.5 L198.0,345.8 L198.4,344.2 L198.8,342.8 L199.3,341.7 L199.7,340.7 L200.1,339.9 L200.6,339.4 L201.0,339.0 L201.5,338.8 L201.9,338.8 L202.3,339.0 L202.8,339.4 L203.2,339.9 L203.6,340.7 L204.1,341.6 L204.5,342.6 L205.0,343.8 L205.4,345.1 L205.8,346.6 L206.3,348.1 L206.7,349.8 L207.1,351.6 L207.6,353.4 L208.0,355.3 L208.5,357.3 L208.9,359.4 L209.3,361.4 L209.8,363.6 L210.2,365.7 L210.6,367.8 L211.1,370.0 L211.5,372.1 L212.0,374.3 L212.4,376.4 L212.8,378.5 L213.3,380.6 L213.7,382.6 L214.1,384.6 L214.6,386.5 L215.0,388.4 L215.5,390.3 L215.9,392.1 L216.3,393.9 L216.8,395.6 L217.2,397.2 L217.6,398.8 L218.1,400.3 L218.5,401.8 L219.0,403.2 L219.4,404.6 L219.8,405.9 L220.3,407.2 L220.7,408.4 L221.1,409.5 L221.6,410.7 L222.0,411.8 L222.5,412.8 L222.9,413.9 L223.3,414.9 L223.8,415.8 L224.2,416.8 L224.6,417.7 L225.1,418.6 L225.5,419.4 L226.0,420.3 L226.4,421.1 L226.8,421.9 L227.3,422.7 L227.7,423.5 L228.2,424.3 L228.6,425.1 L229.0,425.8 L229.5,426.5 L229.9,427.3 L230.3,428.0 L230.8,428.7 L231.2,429.4 L231.7,430.0 L232.1,430.7 L232.5,431.3 L233.0,432.0 L233.4,432.6 L233.8,433.2 L234.3,433.8 L234.7,434.3 L235.2,434.9 L235.6,435.4 L236.0,436.0 L236.5,436.5 L236.9,437.0 L237.3,437.4 L237.8,437.9 L238.2,438.3 L238.7,438.8 L239.1,439.2 L239.5,439.6 L240.0,440.0 L240.4,440.4 L240.8,440.7 L241.3,441.1 L241.7,441.5 L242.2,441.8 L242.6,442.1 L243.0,442.5 L243.5,442.8 L243.9,443.1 L244.3,443.4 L244.8,443.7 L245.2,444.0 L245.7,444.3 L246.1,444.5 L246.5,444.8 L247.0,445.1 L247.4,445.3 L247.8,445.6 L248.3,445.8 L248.7,446.1 L249.2,446.3 L249.6,446.6 L250.0,446.8 L250.5,447.0 L250.9,447.3 L251.3,447.5 L251.8,447.7 L252.2,447.9 L252.7,448.1 L253.1,448.3 L253.5,448.5 L254.0,448.7 L254.4,448.9 L254.8,449.1 L255.3,449.3 L255.7,449.5 L256.2,449.7 L256.6,449.9 L257.0,450.1 L257.5,450.2 L257.9,450.4 L258.3,450.6 L258.8,450.8 L259.2,450.9 L259.7,451.1 L260.1,451.3 L260.5,451.4 L261.0,451.6 L261.4,451.7 L261.8,451.9 L262.3,452.0 L262.7,452.2 L263.2,452.3 L263.6,452.5 L264.0,452.6 L264.5,452.8 L264.9,452.9 L265.3,453.0 L265.8,453.2 L266.2,453.3 L266.7,453.5 L267.1,453.6 L267.5,453.7 L268.0,453.8 L268.4,454.0 L268.8,454.1 L269.3,454.2 L269.7,454.3 L270.2,454.5 L270.6,454.6 L271.0,454.7 L271.5,454.8 L271.9,454.9 L272.3,455.0 L272.8,455.1 L273.2,455.2 L273.7,455.4 L274.1,455.5 L274.5,455.6 L275.0,455.7 L275.4,455.8 L275.8,455.9 L276.3,456.0 L276.7,456.1 L277.2,456.2 L277.6,456.3 L278.0,456.4 L278.5,456.5 L278.9,456.5 L279.4,456.6 L279.8,456.7 L280.2,456.8 L280.7,456.9 L281.1,457.0 L281.5,457.1 L282.0,457.2 L282.4,457.2 L282.9,457.3 L283.3,457.4 L283.7,457.5 L284.2,457.6 L284.6,457.7 L285.0,457.7 L285.5,457.8 L285.9,457.9 L286.4,458.0 L286.8,458.0 L287.2,458.1 L287.7,458.2 L288.1,458.3 L288.5,458.3 L289.0,458.4 L289.4,458.5 L289.9,458.5 L290.3,458.6 L290.7,458.7 L291.2,458.7 L291.6,458.8 L292.0,458.9 L292.5,458.9 L292.9,459.0 L293.4,459.1 L293.8,459.1 L294.2,459.2 L294.7,459.2 L295.1,459.3 L295.5,459.4 L296.0,459.4 L296.4,459.5 L296.9,459.5 L297.3,459.6 L297.7,459.7 L298.2,459.7 L298.6,459.8 L299.0,459.8 L299.5,459.9 L299.9,459.9 L300.4,460.0 L300.8,460.0 L301.2,460.1 L301.7,460.1 L302.1,460.2 L302.5,460.2 L303.0,460.3 L303.4,460.3 L303.9,460.4 L304.3,460.4 L304.7,460.5 L305.2,460.5 L305.6,460.6 L306.0,460.6 L306.5,460.7 L306.9,460.7 L307.4,460.7 L307.8,460.8 L308.2,460.8 L308.7,460.9 L309.1,460.9 L309.5,461.0 L310.0,461.0 L310.4,461.0 L310.9,461.1 L311.3,461.1 L311.7,461.2 L312.2,461.2 L312.6,461.2 L313.0,461.3 L313.5,461.3 L313.9,461.3 L314.4,461.4 L314.8,461.4 L315.2,461.5 L315.7,461.5 L316.1,461.5 L316.5,461.6 L317.0,461.6 L317.4,461.6 L317.9,461.7 L318.3,461.7 L318.7,461.7 L319.2,461.8 L319.6,461.8 L320.0,461.8 L320.5,461.9 L320.9,461.9 L321.4,461.9 L321.8,461.9 L322.2,462.0 L322.7,462.0 L323.1,462.0 L323.5,462.1 L324.0,462.1 L324.4,462.1 L324.9,462.1 L325.3,462.2 L325.7,462.2 L326.2,462.2 L326.6,462.3 L327.1,462.3 L327.5,462.3 L327.9,462.3 L328.4,462.4 L328.8,462.4 L329.2,462.4 L329.7,462.4 L330.1,462.5 L330.6,462.5 L331.0,462.5 L331.4,462.5 L331.9,462.6 L332.3,462.6 L332.7,462.6 L333.2,462.6 L333.6,462.7 L334.1,462.7 L334.5,462.7 L334.9,462.7 L335.4,462.7 L335.8,462.8 L336.2,462.8 L336.7,462.8 L337.1,462.8 L337.6,462.8 L338.0,462.9 L338.4,462.9 L338.9,462.9 L339.3,462.9 L339.7,462.9 L340.2,463.0 L340.6,463.0 L341.1,463.0 L341.5,463.0 L341.9,463.0 L342.4,463.1 L342.8,463.1 L343.2,463.1 L343.7,463.1 L344.1,463.1 L344.6,463.2 L345.0,463.2 L345.4,463.2 L345.9,463.2 L346.3,463.2 L346.7,463.2 L347.2,463.3 L347.6,463.3 L348.1,463.3 L348.5,463.3 L348.9,463.3 L349.4,463.3 L349.8,463.3 L350.2,463.4 L350.7,463.4 L351.1,463.4 L351.6,463.4 L352.0,463.4 L352.4,463.4 L352.9,463.5 L353.3,463.5 L353.7,463.5 L354.2,463.5 L354.6,463.5 L355.1,463.5 L355.5,463.5 L355.9,463.5 L356.4,463.6 L356.8,463.6 L357.2,463.6 L357.7,463.6 L358.1,463.6 L358.6,463.6 L359.0,463.6 L359.4,463.7 L359.9,463.7 L360.3,463.7 L360.7,463.7 L361.2,463.7 L361.6,463.7 L362.1,463.7 L362.5,463.7 L362.9,463.7 L363.4,463.8 L363.8,463.8 L364.2,463.8 L364.7,463.8 L365.1,463.8 L365.6,463.8 L366.0,463.8 L366.4,463.8 L366.9,463.8 L367.3,463.9 L367.7,463.9 L368.2,463.9 L368.6,463.9 L369.1,463.9 L369.5,463.9 L369.9,463.9 L370.4,463.9 L370.8,463.9 L371.2,463.9 L371.7,464.0 L372.1,464.0 L372.6,464.0 L373.0,464.0 L373.4,464.0 L373.9,464.0 L374.3,464.0 L374.7,464.0 L375.2,464.0 L375.6,464.0 L376.1,464.0 L376.5,464.1 L376.9,464.1 L377.4,464.1 L377.8,464.1 L378.3,464.1 L378.7,464.1 L379.1,464.1 L379.6,464.1 L380.0,464.1 L380.4,464.1 L380.9,464.1 L381.3,464.1 L381.8,464.2 L382.2,464.2 L382.6,464.2 L383.1,464.2 L383.5,464.2 L383.9,464.2 L384.4,464.2 L384.8,464.2 L385.3,464.2 L385.7,464.2 L386.1,464.2 L386.6,464.2 L387.0,464.2 L387.4,464.3 L387.9,464.3 L388.3,464.3 L388.8,464.3 L389.2,464.3 L389.6,464.3 L390.1,464.3 L390.5,464.3 L390.9,464.3 L391.4,464.3 L391.8,464.3 L392.3,464.3 L392.7,464.4 L393.1,464.4 L393.6,464.4 L394.0,464.4 L394.4,464.4 L394.9,464.4 L395.3,464.4 L395.8,464.4 L396.2,464.4 L396.6,464.4 L397.1,464.5 L397.5,464.5 L397.9,464.5 L398.4,464.5 L398.8,464.5 L399.3,464.5 L399.7,464.5 L400.1,464.6 L400.6,464.6 L401.0,464.6 L401.4,464.6 L401.9,464.6 L402.3,464.6" stroke="#ff0000"/>
<path d="M114.4,465.6 L114.8,465.6 L115.2,465.6 L115.7,465.6 L116.1,465.6 L116.6,465.6 L117.0,465.6 L117.4,465.6 L117.9,465.6 L118.3,465.6 L118.7,465.6 L119.2,465.6 L119.6,465.6 L120.1,465.6 L120.5,465.6 L120.9,465.6 L121.4,465.6 L121.8,465.6 L122.2,465.6 L122.7,465.6 L123.1,465.6 L123.6,465.6 L124.0,465.6 L124.4,465.6 L124.9,465.6 L125.3,465.6 L125.7,465.6 L126.2,465.6 L126.6,465.6 L127.1,465.6 L127.5,465.6 L127.9,465.6 L128.4,465.6 L128.8,465.6 L129.3,465.6 L129.7,465.6 L130.1,465.6 L130.6,465.6 L131.0,465.5 L131.4,465.5 L131.9,465.5 L132.3,465.5 L132.8,465.5 L133.2,465.5 L133.6,465.5 L134.1,465.5 L134.5,465.5 L134.9,465.5 L135.4,465.5 L135.8,465.5 L136.3,465.5 L136.7,465.4 L137.1,465.4 L137.6,465.4 L138.0,465.4 L138.4,465.4 L138.9,465.4 L139.3,465.3 L139.8,465.3 L140.2,465.3 L140.6,465.3 L141.1,465.2 L141.5,465.2 L141.9,465.2 L142.4,465.1 L142.8,465.1 L143.3,465.1 L143.7,465.0 L144.1,465.0 L144.6,464.9 L145.0,464.9 L145.4,464.8 L145.9,464.8 L146.3,464.7 L146.8,464.7 L147.2,464.6 L147.6,464.5 L148.1,464.5 L148.5,464.4 L148.9,464.3 L149.4,464.2 L149.8,464.1 L150.3,464.0 L150.7,463.9 L151.1,463.8 L151.6,463.7 L152.0,463.5 L152.4,463.4 L152.9,463.2 L153.3,463.1 L153.8,462.9 L154.2,462.8 L154.6,462.6 L155.1,462.4 L155.5,462.2 L155.9,462.0 L156.4,461.8 L156.8,461.6 L157.3,461.4 L157.7,461.1 L158.1,460.9 L158.6,460.6 L159.0,460.3 L159.4,460.0 L159.9,459.7 L160.3,459.4 L160.8,459.1 L161.2,458.7 L161.6,458.4 L162.1,458.0 L162.5,457.6 L162.9,457.2 L163.4,456.8 L163.8,456.3 L164.3,455.9 L164.7,455.4 L165.1,454.9 L165.6,454.4 L166.0,453.9 L166.4,453.4 L166.9,452.8 L167.3,452.2 L167.8,451.6 L168.2,451.0 L168.6,450.4 L169.1,449.7 L169.5,449.1 L169.9,448.4 L170.4,447.7 L170.8,447.0 L171.3,446.2 L171.7,445.5 L172.1,444.7 L172.6,443.9 L173.0,443.1 L173.4,442.3 L173.9,441.4 L174.3,440.6 L174.8,439.7 L175.2,438.8 L175.6,437.9 L176.1,436.9 L176.5,436.0 L176.9,435.0 L177.4,434.1 L177.8,433.1 L178.3,432.1 L178.7,431.1 L179.1,430.0 L179.6,429.0 L180.0,428.0 L180.5,426.9 L180.9,425.8 L181.3,424.8 L181.8,423.7 L182.2,422.6 L182.6,421.5 L183.1,420.4 L183.5,419.3 L184.0,418.2 L184.4,417.1 L184.8,416.0 L185.3,414.9 L185.7,413.9 L186.1,412.8 L186.6,411.7 L187.0,410.6 L187.5,409.5 L187.9,408.5 L188.3,407.4 L188.8,406.4 L189.2,405.3 L189.6,404.3 L190.1,403.3 L190.5,402.3 L191.0,401.4 L191.4,400.4 L191.8,399.5 L192.3,398.5 L192.7,397.6 L193.1,396.8 L193.6,395.9 L194.0,395.1 L194.5,394.3 L194.9,393.5 L195.3,392.8 L195.8,392.0 L196.2,391.3 L196.6,390.7 L197.1,390.0 L197.5,389.4 L198.0,388.9 L198.4,388.3 L198.8,387.8 L199.3,387.3 L199.7,386.9 L200.1,386.5 L200.6,386.1 L201.0,385.8 L201.5,385.5 L201.9,385.2 L202.3,384.9 L202.8,384.7 L203.2,384.6 L203.6,384.4 L204.1,384.3 L204.5,384.3 L205.0,384.2 L205.4,384.2 L205.8,384.3 L206.3,384.4 L206.7,384.5 L207.1,384.6 L207.6,384.8 L208.0,385.0 L208.5,385.2 L208.9,385.5 L209.3,385.8 L209.8,386.1 L210.2,386.4 L210.6,386.8 L211.1,387.2 L211.5,387.7 L212.0,388.1 L212.4,388.6 L212.8,389.1 L213.3,389.6 L213.7,390.2 L214.1,390.8 L214.6,391.4 L215.0,392.0 L215.5,392.6 L215.9,393.3 L216.3,393.9 L216.8,394.6 L217.2,395.3 L217.6,396.0 L218.1,396.7 L218.5,397.4 L219.0,398.2 L219.4,398.9 L219.8,399.7 L220.3,400.4 L220.7,401.2 L221.1,401.9 L221.6,402.7 L222.0,403.5 L222.5,404.2 L222.9,405.0 L223.3,405.8 L223.8,406.5 L224.2,407.3 L224.6,408.0 L225.1,408.8 L225.5,409.5 L226.0,410.3 L226.4,411.0 L226.8,411.7 L227.3,412.4 L227.7,413.1 L228.2,413.8 L228.6,414.5 L229.0,415.2 L229.5,415.8 L229.9,416.5 L230.3,417.2 L230.8,417.8 L231.2,418.5 L231.7,419.1 L232.1,419.7 L232.5,420.4 L233.0,421.0 L233.4,421.6 L233.8,422.3 L234.3,422.9 L234.7,423.5 L235.2,424.2 L235.6,424.8 L236.0,425.4 L236.5,426.0 L236.9,426.7 L237.3,427.3 L237.8,427.9 L238.2,428.5 L238.7,429.2 L239.1,429.8 L239.5,430.4 L240.0,431.0 L240.4,431.6 L240.8,432.2 L241.3,432.8 L241.7,433.4 L242.2,434.0 L242.6,434.6 L243.0,435.2 L243.5,435.7 L243.9,436.3 L244.3,436.8 L244.8,437.3 L245.2,437.8 L245.7,438.3 L246.1,438.8 L246.5,439.3 L247.0,439.7 L247.4,440.2 L247.8,440.6 L248.3,441.0 L248.7,441.4 L249.2,441.8 L249.6,442.2 L250.0,442.6 L250.5,442.9 L250.9,443.3 L251.3,443.6 L251.8,443.9 L252.2,444.3 L252.7,444.6 L253.1,444.9 L253.5,445.2 L254.0,445.5 L254.4,445.8 L254.8,446.0 L255.3,446.3 L255.7,446.6 L256.2,446.8 L256.6,447.1 L257.0,447.3 L257.5,447.6 L257.9,447.8 L258.3,448.1 L258.8,448.3 L259.2,448.5 L259.7,448.7 L260.1,448.9 L260.5,449.2 L261.0,449.4 L261.4,449.6 L261.8,449.8 L262.3,450.0 L262.7,450.2 L263.2,450.4 L263.6,450.5 L264.0,450.7 L264.5,450.9 L264.9,451.1 L265.3,451.3 L265.8,451.4 L266.2,451.6 L266.7,451.8 L267.1,451.9 L267.5,452.1 L268.0,452.2 L268.4,452.4 L268.8,452.5 L269.3,452.7 L269.7,452.8 L270.2,453.0 L270.6,453.1 L271.0,453.3 L271.5,453.4 L271.9,453.6 L272.3,453.7 L272.8,453.8 L273.2,454.0 L273.7,454.1 L274.1,454.2 L274.5,454.3 L275.0,454.5 L275.4,454.6 L275.8,454.7 L276.3,454.8 L276.7,454.9 L277.2,455.0 L277.6,455.2 L278.0,455.3 L278.5,455.4 L278.9,455.5 L279.4,455.6 L279.8,455.7 L280.2,455.8 L280.7,455.9 L281.1,456.0 L281.5,456.1 L282.0,456.2 L282.4,456.3 L282.9,456.4 L283.3,456.5 L283.7,456.6 L284.2,456.7 L284.6,456.8 L285.0,456.9 L285.5,457.0 L285.9,457.1 L286.4,457.1 L286.8,457.2 L287.2,457.3 L287.7,457.4 L288.1,457.5 L288.5,457.6 L289.0,457.6 L289.4,457.7 L289.9,457.8 L290.3,457.9 L290.7,458.0 L291.2,458.0 L291.6,458.1 L292.0,458.2 L292.5,458.2 L292.9,458.3 L293.4,458.4 L293.8,458.5 L294.2,458.5 L294.7,458.6 L295.1,458.7 L295.5,458.7 L296.0,458.8 L296.4,458.9 L296.9,458.9 L297.3,459.0 L297.7,459.1 L298.2,459.1 L298.6,459.2 L299.0,459.2 L299.5,459.3 L299.9,459.4 L300.4,459.4 L300.8,459.5 L301.2,459.5 L301.7,459.6 L302.1,459.7 L302.5,459.7 L303.0,459.8 L303.4,459.8 L303.9,459.9 L304.3,459.9 L304.7,460.0 L305.2,460.0 L305.6,460.1 L306.0,460.1 L306.5,460.2 L306.9,460.2 L307.4,460.3 L307.8,460.3 L308.2,460.4 L308.7,460.4 L309.1,460.5 L309.5,460.5 L310.0,460.6 L310.4,460.6 L310.9,460.7 L311.3,460.7 L311.7,460.7 L312.2,460.8 L312.6,460.8 L313.0,460.9 L313.5,460.9 L313.9,461.0 L314.4,461.0 L314.8,461.0 L315.2,461.1 L315.7,461.1 L316.1,461.2 L316.5,461.2 L317.0,461.2 L317.4,461.3 L317.9,461.3 L318.3,461.3 L318.7,461.4 L319.2,461.4 L319.6,461.5 L320.0,461.5 L320.5,461.5 L320.9,461.6 L321.4,461.6 L321.8,461.6 L322.2,461.7 L322.7,461.7 L323.1,461.7 L323.5,461.8 L324.0,461.8 L324.4,461.8 L324.9,461.9 L325.3,461.9 L325.7,461.9 L326.2,461.9 L326.6,462.0 L327.1,462.0 L327.5,462.0 L327.9,462.1 L328.4,462.1 L328.8,462.1 L329.2,462.2 L329.7,462.2 L330.1,462.2 L330.6,462.2 L331.0,462.3 L331.4,462.3 L331.9,462.3 L332.3,462.3 L332.7,462.4 L333.2,462.4 L333.6,462.4 L334.1,462.4 L334.5,462.5 L334.9,462.5 L335.4,462.5 L335.8,462.5 L336.2,462.6 L336.7,462.6 L337.1,462.6 L337.6,462.6 L338.0,462.7 L338.4,462.7 L338.9,462.7 L339.3,462.7 L339.7,462.7 L340.2,462.8 L340.6,462.8 L341.1,462.8 L341.5,462.8 L341.9,462.8 L342.4,462.9 L342.8,462.9 L343.2,462.9 L343.7,462.9 L344.1,462.9 L344.6,463.0 L345.0,463.0 L345.4,463.0 L345.9,463.0 L346.3,463.0 L346.7,463.1 L347.2,463.1 L347.6,463.1 L348.1,463.1 L348.5,463.1 L348.9,463.2 L349.4,463.2 L349.8,463.2 L350.2,463.2 L350.7,463.2 L351.1,463.2 L351.6,463.3 L352.0,463.3 L352.4,463.3 L352.9,463.3 L353.3,463.3 L353.7,463.3 L354.2,463.3 L354.6,463.4 L355.1,463.4 L355.5,463.4 L355.9,463.4 L356.4,463.4 L356.8,463.4 L357.2,463.5 L357.7,463.5 L358.1,463.5 L358.6,463.5 L359.0,463.5 L359.4,463.5 L359.9,463.5 L360.3,463.6 L360.7,463.6 L361.2,463.6 L361.6,463.6 L362.1,463.6 L362.5,463.6 L362.9,463.6 L363.4,463.6 L363.8,463.7 L364.2,463.7 L364.7,463.7 L365.1,463.7 L365.6,463.7 L366.0,463.7 L366.4,463.7 L366.9,463.7 L367.3,463.8 L367.7,463.8 L368.2,463.8 L368.6,463.8 L369.1,463.8 L369.5,463.8 L369.9,463.8 L370.4,463.8 L370.8,463.9 L371.2,463.9 L371.7,463.9 L372.1,463.9 L372.6,463.9 L373.0,463.9 L373.4,463.9 L373.9,463.9 L374.3,463.9 L374.7,464.0 L375.2,464.0 L375.6,464.0 L376.1,464.0 L376.5,464.0 L376.9,464.0 L377.4,464.0 L377.8,464.0 L378.3,464.0 L378.7,464.1 L379.1,464.1 L379.6,464.1 L380.0,464.1 L380.4,464.1 L380.9,464.1 L381.3,464.1 L381.8,464.1 L382.2,464.1 L382.6,464.2 L383.1,464.2 L383.5,464.2 L383.9,464.2 L384.4,464.2 L384.8,464.2 L385.3,464.2 L385.7,464.2 L386.1,464.2 L386.6,464.3 L387.0,464.3 L387.4,464.3 L387.9,464.3 L388.3,464.3 L388.8,464.3 L389.2,464.3 L389.6,464.3 L390.1,464.4 L390.5,464.4 L390.9,464.4 L391.4,464.4 L391.8,464.4 L392.3,464.4 L392.7,464.4 L393.1,464.4 L393.6,464.4 L394.0,464.5 L394.4,464.5 L394.9,464.5 L395.3,464.5 L395.8,464.5 L396.2,464.5 L396.6,464.5 L397.1,464.6 L397.5,464.6 L397.9,464.6 L398.4,464.6 L398.8,464.6 L399.3,464.6 L399.7,464.6 L400.1,464.6 L400.6,464.7 L401.0,464.7 L401.4,464.7 L401.9,464.7 L402.3,464.7" stroke="#00ff00"/>
<path d="M114.4,465.3 L114.8,465.3 L115.2,465.3 L115.7,465.2 L116.1,465.2 L116.6,465.2 L117.0,465.2 L117.4,465.2 L117.9,465.1 L118.3,465.1 L118.7,465.1 L119.2,465.1 L119.6,465.0 L120.1,465.0 L120.5,465.0 L120.9,464.9 L121.4,464.9 L121.8,464.9 L122.2,464.8 L122.7,464.8 L123.1,464.8 L123.6,464.7 L124.0,464.7 L124.4,464.6 L124.9,464.6 L125.3,464.6 L125.7,464.5 L126.2,464.5 L126.6,464.4 L127.1,464.4 L127.5,464.3 L127.9,464.2 L128.4,464.2 L128.8,464.1 L129.3,464.1 L129.7,464.0 L130.1,463.9 L130.6,463.9 L131.0,463.8 L131.4,463.7 L131.9,463.6 L132.3,463.5 L132.8,463.5 L133.2,463.4 L133.6,463.3 L134.1,463.2 L134.5,463.1 L134.9,463.0 L135.4,462.9 L135.8,462.8 L136.3,462.7 L136.7,462.6 L137.1,462.4 L137.6,462.3 L138.0,462.2 L138.4,462.1 L138.9,461.9 L139.3,461.8 L139.8,461.6 L140.2,461.5 L140.6,461.4 L141.1,461.2 L141.5,461.0 L141.9,460.9 L142.4,460.7 L142.8,460.5 L143.3,460.4 L143.7,460.2 L144.1,460.0 L144.6,459.8 L145.0,459.6 L145.4,459.4 L145.9,459.2 L146.3,459.0 L146.8,458.8 L147.2,458.5 L147.6,458.3 L148.1,458.1 L148.5,457.8 L148.9,457.6 L149.4,457.3 L149.8,457.1 L150.3,456.8 L150.7,456.5 L151.1,456.3 L151.6,456.0 L152.0,455.7 L152.4,455.4 L152.9,455.1 L153.3,454.8 L153.8,454.5 L154.2,454.2 L154.6,453.8 L155.1,453.5 L155.5,453.2 L155.9,452.8 L156.4,452.5 L156.8,452.1 L157.3,451.8 L157.7,451.4 L158.1,451.0 L158.6,450.6 L159.0,450.3 L159.4,449.9 L159.9,449.5 L160.3,449.1 L160.8,448.7 L161.2,448.2 L161.6,447.8 L162.1,447.4 L162.5,447.0 L162.9,446.5 L163.4,446.1 L163.8,445.6 L164.3,445.2 L164.7,444.7 L165.1,444.2 L165.6,443.8 L166.0,443.3 L166.4,442.8 L166.9,442.3 L167.3,441.8 L167.8,441.3 L168.2,440.8 L168.6,440.3 L169.1,439.8 L169.5,439.3 L169.9,438.8 L170.4,438.3 L170.8,437.7 L171.3,437.2 L171.7,436.7 L172.1,436.1 L172.6,435.6 L173.0,435.1 L173.4,434.5 L173.9,434.0 L174.3,433.4 L174.8,432.9 L175.2,432.3 L175.6,431.8 L176.1,431.2 L176.5,430.7 L176.9,430.1 L177.4,429.6 L177.8,429.0 L178.3,428.5 L178.7,427.9 L179.1,427.4 L179.6,426.8 L180.0,426.3 L180.5,425.8 L180.9,425.2 L181.3,424.7 L181.8,424.1 L182.2,423.6 L182.6,423.1 L183.1,422.5 L183.5,422.0 L184.0,421.5 L184.4,421.0 L184.8,420.4 L185.3,419.9 L185.7,419.4 L186.1,418.9 L186.6,418.4 L187.0,417.9 L187.5,417.5 L187.9,417.0 L188.3,416.5 L188.8,416.0 L189.2,415.6 L189.6,415.1 L190.1,414.7 L190.5,414.3 L191.0,413.8 L191.4,413.4 L191.8,413.0 L192.3,412.6 L192.7,412.2 L193.1,411.8 L193.6,411.4 L194.0,411.1 L194.5,410.7 L194.9,410.4 L195.3,410.0 L195.8,409.7 L196.2,409.4 L196.6,409.1 L197.1,408.8 L197.5,408.5 L198.0,408.2 L198.4,408.0 L198.8,407.7 L199.3,407.5 L199.7,407.3 L200.1,407.0 L200.6,406.8 L201.0,406.6 L201.5,406.5 L201.9,406.3 L202.3,406.1 L202.8,406.0 L203.2,405.9 L203.6,405.7 L204.1,405.6 L204.5,405.5 L205.0,405.4 L205.4,405.4 L205.8,405.3 L206.3,405.3 L206.7,405.2 L207.1,405.2 L207.6,405.2 L208.0,405.2 L208.5,405.2 L208.9,405.2 L209.3,405.3 L209.8,405.3 L210.2,405.4 L210.6,405.4 L211.1,405.5 L211.5,405.6 L212.0,405.7 L212.4,405.8 L212.8,406.0 L213.3,406.1 L213.7,406.3 L214.1,406.4 L214.6,406.6 L215.0,406.8 L215.5,407.0 L215.9,407.2 L216.3,407.4 L216.8,407.6 L217.2,407.8 L217.6,408.1 L218.1,408.3 L218.5,408.6 L219.0,408.8 L219.4,409.1 L219.8,409.4 L220.3,409.7 L220.7,410.0 L221.1,410.3 L221.6,410.6 L222.0,410.9 L222.5,411.2 L222.9,411.6 L223.3,411.9 L223.8,412.3 L224.2,412.6 L224.6,413.0 L225.1,413.3 L225.5,413.7 L226.0,414.1 L226.4,414.5 L226.8,414.9 L227.3,415.2 L227.7,415.6 L228.2,416.0 L228.6,416.4 L229.0,416.8 L229.5,417.3 L229.9,417.7 L230.3,418.1 L230.8,418.5 L231.2,418.9 L231.7,419.3 L232.1,419.8 L232.5,420.2 L233.0,420.6 L233.4,421.1 L233.8,421.5 L234.3,421.9 L234.7,422.4 L235.2,422.8 L235.6,423.2 L236.0,423.7 L236.5,424.1 L236.9,424.5 L237.3,425.0 L237.8,425.4 L238.2,425.8 L238.7,426.3 L239.1,426.7 L239.5,427.1 L240.0,427.6 L240.4,428.0 L240.8,428.4 L241.3,428.8 L241.7,429.3 L242.2,429.7 L242.6,430.1 L243.0,430.5 L243.5,430.9 L243.9,431.4 L244.3,431.8 L244.8,432.2 L245.2,432.6 L245.7,433.0 L246.1,433.4 L246.5,433.8 L247.0,434.2 L247.4,434.6 L247.8,434.9 L248.3,435.3 L248.7,435.7 L249.2,436.1 L249.6,436.5 L250.0,436.8 L250.5,437.2 L250.9,437.6 L251.3,437.9 L251.8,438.3 L252.2,438.6 L252.7,439.0 L253.1,439.3 L253.5,439.7 L254.0,440.0 L254.4,440.4 L254.8,440.7 L255.3,441.0 L255.7,441.3 L256.2,441.7 L256.6,442.0 L257.0,442.3 L257.5,442.6 L257.9,442.9 L258.3,443.2 L258.8,443.5 L259.2,443.8 L259.7,444.1 L260.1,444.4 L260.5,444.6 L261.0,444.9 L261.4,445.2 L261.8,445.5 L262.3,445.7 L262.7,446.0 L263.2,446.3 L263.6,446.5 L264.0,446.8 L264.5,447.0 L264.9,447.3 L265.3,447.5 L265.8,447.7 L266.2,448.0 L266.7,448.2 L267.1,448.4 L267.5,448.6 L268.0,448.9 L268.4,449.1 L268.8,449.3 L269.3,449.5 L269.7,449.7 L270.2,449.9 L270.6,450.1 L271.0,450.3 L271.5,450.5 L271.9,450.7 L272.3,450.9 L272.8,451.1 L273.2,451.3 L273.7,451.4 L274.1,451.6 L274.5,451.8 L275.0,452.0 L275.4,452.1 L275.8,452.3 L276.3,452.5 L276.7,452.6 L277.2,452.8 L277.6,453.0 L278.0,453.1 L278.5,453.3 L278.9,453.4 L279.4,453.6 L279.8,453.7 L280.2,453.8 L280.7,454.0 L281.1,454.1 L281.5,454.3 L282.0,454.4 L282.4,454.5 L282.9,454.7 L283.3,454.8 L283.7,454.9 L284.2,455.0 L284.6,455.2 L285.0,455.3 L285.5,455.4 L285.9,455.5 L286.4,455.6 L286.8,455.7 L287.2,455.9 L287.7,456.0 L288.1,456.1 L288.5,456.2 L289.0,456.3 L289.4,456.4 L289.9,456.5 L290.3,456.6 L290.7,456.7 L291.2,456.8 L291.6,456.9 L292.0,457.0 L292.5,457.1 L292.9,457.2 L293.4,457.3 L293.8,457.4 L294.2,457.4 L294.7,457.5 L295.1,457.6 L295.5,457.7 L296.0,457.8 L296.4,457.9 L296.9,457.9 L297.3,458.0 L297.7,458.1 L298.2,458.2 L298.6,458.3 L299.0,458.3 L299.5,458.4 L299.9,458.5 L300.4,458.6 L300.8,458.6 L301.2,458.7 L301.7,458.8 L302.1,458.8 L302.5,458.9 L303.0,459.0 L303.4,459.0 L303.9,459.1 L304.3,459.2 L304.7,459.2 L305.2,459.3 L305.6,459.4 L306.0,459.4 L306.5,459.5 L306.9,459.5 L307.4,459.6 L307.8,459.7 L308.2,459.7 L308.7,459.8 L309.1,459.8 L309.5,459.9 L310.0,459.9 L310.4,460.0 L310.9,460.0 L311.3,460.1 L311.7,460.2 L312.2,460.2 L312.6,460.3 L313.0,460.3 L313.5,460.4 L313.9,460.4 L314.4,460.4 L314.8,460.5 L315.2,460.5 L315.7,460.6 L316.1,460.6 L316.5,460.7 L317.0,460.7 L317.4,460.8 L317.9,460.8 L318.3,460.9 L318.7,460.9 L319.2,460.9 L319.6,461.0 L320.0,461.0 L320.5,461.1 L320.9,461.1 L321.4,461.1 L321.8,461.2 L322.2,461.2 L322.7,461.3 L323.1,461.3 L323.5,461.3 L324.0,461.4 L324.4,461.4 L324.9,461.5 L325.3,461.5 L325.7,461.5 L326.2,461.6 L326.6,461.6 L327.1,461.6 L327.5,461.7 L327.9,461.7 L328.4,461.7 L328.8,461.8 L329.2,461.8 L329.7,461.8 L330.1,461.9 L330.6,461.9 L331.0,461.9 L331.4,462.0 L331.9,462.0 L332.3,462.0 L332.7,462.0 L333.2,462.1 L333.6,462.1 L334.1,462.1 L334.5,462.2 L334.9,462.2 L335.4,462.2 L335.8,462.2 L336.2,462.3 L336.7,462.3 L337.1,462.3 L337.6,462.4 L338.0,462.4 L338.4,462.4 L338.9,462.4 L339.3,462.5 L339.7,462.5 L340.2,462.5 L340.6,462.5 L341.1,462.6 L341.5,462.6 L341.9,462.6 L342.4,462.6 L342.8,462.7 L343.2,462.7 L343.7,462.7 L344.1,462.7 L344.6,462.7 L345.0,462.8 L345.4,462.8 L345.9,462.8 L346.3,462.8 L346.7,462.9 L347.2,462.9 L347.6,462.9 L348.1,462.9 L348.5,462.9 L348.9,463.0 L349.4,463.0 L349.8,463.0 L350.2,463.0 L350.7,463.0 L351.1,463.1 L351.6,463.1 L352.0,463.1 L352.4,463.1 L352.9,463.1 L353.3,463.1 L353.7,463.2 L354.2,463.2 L354.6,463.2 L355.1,463.2 L355.5,463.2 L355.9,463.3 L356.4,463.3 L356.8,463.3 L357.2,463.3 L357.7,463.3 L358.1,463.3 L358.6,463.4 L359.0,463.4 L359.4,463.4 L359.9,463.4 L360.3,463.4 L360.7,463.4 L361.2,463.5 L361.6,463.5 L362.1,463.5 L362.5,463.5 L362.9,463.5 L363.4,463.5 L363.8,463.6 L364.2,463.6 L364.7,463.6 L365.1,463.6 L365.6,463.6 L366.0,463.6 L366.4,463.6 L366.9,463.7 L367.3,463.7 L367.7,463.7 L368.2,463.7 L368.6,463.7 L369.1,463.7 L369.5,463.7 L369.9,463.8 L370.4,463.8 L370.8,463.8 L371.2,463.8 L371.7,463.8 L372.1,463.8 L372.6,463.8 L373.0,463.9 L373.4,463.9 L373.9,463.9 L374.3,463.9 L374.7,463.9 L375.2,463.9 L375.6,463.9 L376.1,464.0 L376.5,464.0 L376.9,464.0 L377.4,464.0 L377.8,464.0 L378.3,464.0 L378.7,464.0 L379.1,464.0 L379.6,464.1 L380.0,464.1 L380.4,464.1 L380.9,464.1 L381.3,464.1 L381.8,464.1 L382.2,464.1 L382.6,464.1 L383.1,464.2 L383.5,464.2 L383.9,464.2 L384.4,464.2 L384.8,464.2 L385.3,464.2 L385.7,464.2 L386.1,464.3 L386.6,464.3 L387.0,464.3 L387.4,464.3 L387.9,464.3 L388.3,464.3 L388.8,464.3 L389.2,464.3 L389.6,464.4 L390.1,464.4 L390.5,464.4 L390.9,464.4 L391.4,464.4 L391.8,464.4 L392.3,464.4 L392.7,464.4 L393.1,464.4 L393.6,464.5 L394.0,464.5 L394.4,464.5 L394.9,464.5 L395.3,464.5 L395.8,464.5 L396.2,464.5 L396.6,464.5 L397.1,464.6 L397.5,464.6 L397.9,464.6 L398.4,464.6 L398.8,464.6 L399.3,464.6 L399.7,464.6 L400.1,464.6 L400.6,464.7 L401.0,464.7 L401.4,464.7 L401.9,464.7 L402.3,464.7" stroke="#0000ff"/>
</g>
<g transform="translate(256.5,164)" clip-path="url(#ct)"><use href="#tri"/></g>
<text transform="translate(139.60,97.00) scale(1,1.035)" text-anchor="start" style="font-family:'Liberation Sans';font-size:21.3px;" fill="#000" >(a)</text>
<text transform="translate(131.60,139.60) scale(1,1.035)" text-anchor="start" style="font-family:'Liberation Sans';font-size:17.7px;" fill="#000" ><tspan style="font-family:'Liberation Serif'">λ</tspan>=720nm, <tspan style="font-family:'Liberation Serif'">ξ</tspan>=13nm, <tspan style="font-family:'Liberation Serif'">μ</tspan><tspan dy="5.5" dx="0.5" font-size="11.5">0</tspan><tspan dy="-5.5" font-style="italic">H</tspan>=0.02T</text>
<path d="M244.2,315.7H282" stroke="#000" stroke-width="1.5"/>
<text transform="translate(286.30,321.40) scale(1,1.035)" text-anchor="start" style="font-family:'Liberation Sans';font-size:16.6px;" fill="#000" ><tspan style="font-family:'Liberation Serif'" font-size="17.5">σ</tspan><tspan dy="7.5" font-size="10.5">g</tspan><tspan dy="-7.5">=0.0006</tspan><tspan style="font-family:'Liberation Serif'">μ</tspan>s<tspan dy="-8.5" font-size="10">-1</tspan></text>
<path d="M244.2,344.9H282" stroke="#ff0000" stroke-width="1.5"/>
<text transform="translate(286.30,350.65) scale(1,1.035)" text-anchor="start" style="font-family:'Liberation Sans';font-size:16.6px;" fill="#000" ><tspan style="font-family:'Liberation Serif'" font-size="17.5">σ</tspan><tspan dy="7.5" font-size="10.5">g</tspan><tspan dy="-7.5">=0.05</tspan><tspan style="font-family:'Liberation Serif'">μ</tspan>s<tspan dy="-8.5" font-size="10">-1</tspan></text>
<path d="M244.2,374.2H282" stroke="#00ff00" stroke-width="1.5"/>
<text transform="translate(286.30,379.90) scale(1,1.035)" text-anchor="start" style="font-family:'Liberation Sans';font-size:16.6px;" fill="#000" ><tspan style="font-family:'Liberation Serif'" font-size="17.5">σ</tspan><tspan dy="7.5" font-size="10.5">g</tspan><tspan dy="-7.5">=0.10</tspan><tspan style="font-family:'Liberation Serif'">μ</tspan>s<tspan dy="-8.5" font-size="10">-1</tspan></text>
<path d="M244.2,403.4H282" stroke="#0000ff" stroke-width="1.5"/>
<text transform="translate(286.30,409.15) scale(1,1.035)" text-anchor="start" style="font-family:'Liberation Sans';font-size:16.6px;" fill="#000" ><tspan style="font-family:'Liberation Serif'" font-size="17.5">σ</tspan><tspan dy="7.5" font-size="10.5">g</tspan><tspan dy="-7.5">=0.15</tspan><tspan style="font-family:'Liberation Serif'">μ</tspan>s<tspan dy="-8.5" font-size="10">-1</tspan></text>
<text transform="translate(259.00,513.20) scale(1,1.035)" text-anchor="middle" style="font-family:'Liberation Sans';font-size:20.3px;" fill="#000" ><tspan font-style="italic">B</tspan>-<tspan font-style="italic">B</tspan><tspan dy="8" font-size="12.3">ext</tspan><tspan dy="-8"> (mT)</tspan></text>
<text transform="translate(77.8,259.5) rotate(-90) scale(1,1.035)" text-anchor="middle" style="font-family:'Liberation Sans';font-size:20.6px;font-style:italic">P(B)</text>
<path d="M499.40,467.40v-5.10 M499.40,68.60v5.10 M556.32,467.40v-5.10 M556.32,68.60v5.10 M613.24,467.40v-5.10 M613.24,68.60v5.10 M670.16,467.40v-5.10 M670.16,68.60v5.10 M727.08,467.40v-5.10 M727.08,68.60v5.10 M784.00,467.40v-5.10 M784.00,68.60v5.10 M527.86,467.40v-2.90 M527.86,68.60v2.90 M584.78,467.40v-2.90 M584.78,68.60v2.90 M641.70,467.40v-2.90 M641.70,68.60v2.90 M698.62,467.40v-2.90 M698.62,68.60v2.90 M755.54,467.40v-2.90 M755.54,68.60v2.90 M499.40,467.40h5.10 M784.00,467.40h-5.10 M499.40,397.80h5.10 M784.00,397.80h-5.10 M499.40,328.20h5.10 M784.00,328.20h-5.10 M499.40,258.60h5.10 M784.00,258.60h-5.10 M499.40,189.00h5.10 M784.00,189.00h-5.10 M499.40,119.40h5.10 M784.00,119.40h-5.10 M499.40,432.60h2.90 M784.00,432.60h-2.90 M499.40,363.00h2.90 M784.00,363.00h-2.90 M499.40,293.40h2.90 M784.00,293.40h-2.90 M499.40,223.80h2.90 M784.00,223.80h-2.90 M499.40,154.20h2.90 M784.00,154.20h-2.90 M499.40,84.60h2.90 M784.00,84.60h-2.90" stroke="#000" stroke-width="1.05" fill="none"/>
<rect x="499.40" y="68.60" width="284.60" height="398.80" fill="none" stroke="#000" stroke-width="1.2"/>
<text transform="translate(499.40,485.00) scale(1,1.035)" text-anchor="middle" style="font-family:'Liberation Sans';font-size:15.9px;" fill="#000" >0.0</text>
<text transform="translate(493.60,472.10) scale(1,1.035)" text-anchor="end" style="font-family:'Liberation Sans';font-size:15.4px;" fill="#000" >0.0</text>
<text transform="translate(556.32,485.00) scale(1,1.035)" text-anchor="middle" style="font-family:'Liberation Sans';font-size:15.9px;" fill="#000" >0.2</text>
<text transform="translate(493.60,402.50) scale(1,1.035)" text-anchor="end" style="font-family:'Liberation Sans';font-size:15.4px;" fill="#000" >0.2</text>
<text transform="translate(613.24,485.00) scale(1,1.035)" text-anchor="middle" style="font-family:'Liberation Sans';font-size:15.9px;" fill="#000" >0.4</text>
<text transform="translate(493.60,332.90) scale(1,1.035)" text-anchor="end" style="font-family:'Liberation Sans';font-size:15.4px;" fill="#000" >0.4</text>
<text transform="translate(670.16,485.00) scale(1,1.035)" text-anchor="middle" style="font-family:'Liberation Sans';font-size:15.9px;" fill="#000" >0.6</text>
<text transform="translate(493.60,263.30) scale(1,1.035)" text-anchor="end" style="font-family:'Liberation Sans';font-size:15.4px;" fill="#000" >0.6</text>
<text transform="translate(727.08,485.00) scale(1,1.035)" text-anchor="middle" style="font-family:'Liberation Sans';font-size:15.9px;" fill="#000" >0.8</text>
<text transform="translate(493.60,193.70) scale(1,1.035)" text-anchor="end" style="font-family:'Liberation Sans';font-size:15.4px;" fill="#000" >0.8</text>
<text transform="translate(784.00,485.00) scale(1,1.035)" text-anchor="middle" style="font-family:'Liberation Sans';font-size:15.9px;" fill="#000" >1.0</text>
<text transform="translate(493.60,124.10) scale(1,1.035)" text-anchor="end" style="font-family:'Liberation Sans';font-size:15.4px;" fill="#000" >1.0</text>
<g clip-path="url(#cb)">
<path d="M499.40,95.93 L499.43,102.03 L499.46,104.53 L499.49,106.45 L499.51,108.06 L499.54,109.48 L499.57,110.76 L499.60,111.94 L499.63,113.03 L499.66,114.05 L499.69,115.01 L499.71,115.93 L499.74,116.81 L499.77,117.64 L499.80,118.45 L499.83,119.23 L499.86,119.98 L499.89,120.70 L499.91,121.41 L499.94,122.09 L499.97,122.75 L500.00,123.40 L500.03,124.03 L500.06,124.65 L500.09,125.25 L500.12,125.84 L500.14,126.42 L500.17,126.99 L500.20,127.54 L500.23,128.09 L500.26,128.62 L500.29,129.15 L500.32,129.67 L500.34,130.18 L500.37,130.68 L500.40,131.17 L500.43,131.65 L500.46,132.13 L500.49,132.60 L500.52,133.07 L500.54,133.52 L500.57,133.98 L500.60,134.42 L500.63,134.86 L500.66,135.30 L500.69,135.73 L500.72,136.15 L500.74,136.57 L500.77,136.99 L500.80,137.40 L500.83,137.80 L500.86,138.21 L500.89,138.60 L500.92,139.00 L500.94,139.39 L500.97,139.77 L501.00,140.15 L501.03,140.53 L501.06,140.91 L501.09,141.28 L501.12,141.64 L501.14,142.01 L501.17,142.37 L501.20,142.73 L501.23,143.08 L501.26,143.43 L501.29,143.78 L501.32,144.13 L501.35,144.47 L501.37,144.81 L501.40,145.15 L501.43,145.48 L501.46,145.81 L501.49,146.14 L501.52,146.47 L501.55,146.80 L501.57,147.12 L501.60,147.44 L501.63,147.76 L501.66,148.07 L501.69,148.39 L501.72,148.70 L501.75,149.01 L501.77,149.31 L501.80,149.62 L501.83,149.92 L501.86,150.22 L501.89,150.52 L501.92,150.82 L501.95,151.11 L501.97,151.41 L502.00,151.70 L502.03,151.99 L502.06,152.28 L502.09,152.56 L502.12,152.85 L502.15,153.13 L502.17,153.41 L502.20,153.69 L502.23,153.97 L502.26,154.25 L502.29,154.52 L502.32,154.80 L502.35,155.07 L502.37,155.34 L502.40,155.61 L502.43,155.88 L502.46,156.14 L502.49,156.41 L502.52,156.67 L502.55,156.93 L502.57,157.19 L502.60,157.45 L502.63,157.71 L502.66,157.97 L502.69,158.22 L502.72,158.48 L502.75,158.73 L502.78,158.98 L502.80,159.23 L502.83,159.48 L502.86,159.73 L502.89,159.98 L502.92,160.22 L502.95,160.47 L502.98,160.71 L503.00,160.95 L503.03,161.20 L503.06,161.44 L503.09,161.68 L503.12,161.91 L503.15,162.15 L503.18,162.39 L503.20,162.62 L503.23,162.86 L503.26,163.09 L503.29,163.32 L503.32,163.55 L503.35,163.78 L503.38,164.01 L503.40,164.24 L503.43,164.47 L503.46,164.69 L503.49,164.92 L503.52,165.14 L503.55,165.37 L503.58,165.59 L503.60,165.81 L503.63,166.03 L503.66,166.25 L503.69,166.47 L503.72,166.69 L503.75,166.91 L503.78,167.13 L503.80,167.34 L503.83,167.56 L503.86,167.77 L503.89,167.99 L503.92,168.20 L503.95,168.41 L503.98,168.62 L504.01,168.83 L504.03,169.04 L504.06,169.25 L504.09,169.46 L504.12,169.67 L504.15,169.87 L504.18,170.08 L504.21,170.28 L504.23,170.49 L504.26,170.69 L504.29,170.90 L504.32,171.10 L504.35,171.30 L504.38,171.50 L504.41,171.70 L504.43,171.90 L504.46,172.10 L504.49,172.30 L504.52,172.50 L504.55,172.69 L504.58,172.89 L504.61,173.09 L504.63,173.28 L504.66,173.48 L504.69,173.67 L504.72,173.86 L504.75,174.06 L504.78,174.25 L504.81,174.44 L504.83,174.63 L504.86,174.82 L504.89,175.01 L504.92,175.20 L504.95,175.39 L504.98,175.58 L505.01,175.76 L505.03,175.95 L505.06,176.14 L505.09,176.32 L505.79,180.70 L506.49,184.79 L507.19,188.65 L507.89,192.29 L508.59,195.75 L509.29,199.06 L509.99,202.21 L510.68,205.23 L511.38,208.14 L512.08,210.93 L512.78,213.63 L513.48,216.23 L514.18,218.75 L514.88,221.18 L515.58,223.54 L516.28,225.84 L516.98,228.07 L517.67,230.23 L518.37,232.34 L519.07,234.40 L519.77,236.40 L520.47,238.35 L521.17,240.26 L521.87,242.13 L522.57,243.95 L523.27,245.73 L523.97,247.47 L524.66,249.18 L525.36,250.85 L526.06,252.49 L526.76,254.10 L527.46,255.68 L528.16,257.23 L528.86,258.78 L529.56,260.29 L530.26,261.78 L530.96,263.24 L531.65,264.68 L532.35,266.10 L533.05,267.49 L533.75,268.86 L534.45,270.21 L535.15,271.54 L535.85,272.85 L536.55,274.13 L537.25,275.40 L537.95,276.65 L538.64,277.89 L539.34,279.10 L540.04,280.30 L540.74,281.48 L541.44,282.65 L542.14,283.80 L542.84,284.94 L543.54,286.06 L544.24,287.17 L544.94,288.26 L545.64,289.34 L546.33,290.41 L547.03,291.47 L547.73,292.51 L548.43,293.54 L549.13,294.56 L549.83,295.56 L550.53,296.56 L551.23,297.54 L551.93,298.52 L552.63,299.48 L553.32,300.43 L554.02,301.38 L554.72,302.31 L555.42,303.23 L556.12,304.15 L556.82,305.05 L557.52,305.95 L558.22,306.83 L558.92,307.71 L559.62,308.58 L560.31,309.44 L561.01,310.30 L561.71,311.14 L562.41,311.98 L563.11,312.81 L563.81,313.64 L564.51,314.45 L565.21,315.26 L565.91,316.06 L566.61,316.86 L567.30,317.65 L568.00,318.43 L568.70,319.21 L569.40,319.98 L570.10,320.74 L570.80,321.50 L571.50,322.25 L572.20,322.99 L572.90,323.73 L573.60,324.47 L574.29,325.19 L574.99,325.92 L575.69,326.64 L576.39,327.35 L577.09,328.06 L577.79,328.76 L578.49,329.46 L579.19,330.15 L579.89,330.84 L580.59,331.52 L581.28,332.20 L581.98,332.87 L582.68,333.54 L583.38,334.21 L584.08,334.87 L584.78,335.53 L585.48,336.18 L586.18,336.83 L586.88,337.47 L587.58,338.11 L588.28,338.75 L588.97,339.38 L589.67,340.01 L590.37,340.64 L591.07,341.26 L591.77,341.88 L592.47,342.50 L593.17,343.11 L593.87,343.72 L594.57,344.32 L595.27,344.92 L595.96,345.52 L596.66,346.12 L597.36,346.71 L598.06,347.30 L598.76,347.89 L599.46,348.47 L600.16,349.05 L600.86,349.63 L601.56,350.21 L602.26,350.78 L602.95,351.35 L603.65,351.92 L604.35,352.48 L605.05,353.04 L605.75,353.60 L606.45,354.16 L607.15,354.71 L607.85,355.26 L608.55,355.81 L609.25,356.36 L609.94,356.91 L610.64,357.45 L611.34,357.99 L612.04,358.53 L612.74,359.06 L613.44,359.60 L614.14,360.13 L614.84,360.66 L615.54,361.19 L616.24,361.72 L616.93,362.24 L617.63,362.76 L618.33,363.28 L619.03,363.80 L619.73,364.32 L620.43,364.83 L621.13,365.34 L621.83,365.85 L622.53,366.36 L623.23,366.87 L623.92,367.38 L624.62,367.88 L625.32,368.39 L626.02,368.89 L626.72,369.39 L627.42,369.88 L628.12,370.40 L628.82,370.91 L629.52,371.42 L630.22,371.93 L630.92,372.44 L631.61,372.94 L632.31,373.45 L633.01,373.95 L633.71,374.45 L634.41,374.96 L635.11,375.46 L635.81,375.95 L636.51,376.45 L637.21,376.95 L637.91,377.44 L638.60,377.94 L639.30,378.43 L640.00,378.92 L640.70,379.41 L641.40,379.90 L642.10,380.39 L642.80,380.87 L643.50,381.36 L644.20,381.84 L644.90,382.33 L645.59,382.81 L646.29,383.29 L646.99,383.77 L647.69,384.25 L648.39,384.73 L649.09,385.21 L649.79,385.68 L650.49,386.16 L651.19,386.63 L651.89,387.11 L652.58,387.58 L653.28,388.05 L653.98,388.53 L654.68,389.00 L655.38,389.47 L656.08,389.94 L656.78,390.40 L657.48,390.87 L658.18,391.34 L658.88,391.80 L659.57,392.27 L660.27,392.73 L660.97,393.20 L661.67,393.66 L662.37,394.12 L663.07,394.59 L663.77,395.05 L664.47,395.51 L665.17,395.97 L665.87,396.43 L666.57,396.89 L667.26,397.34 L667.96,397.80 L668.66,398.26 L669.36,398.71 L670.06,399.17 L670.76,399.61 L671.46,400.05 L672.16,400.48 L672.86,400.92 L673.56,401.36 L674.25,401.79 L674.95,402.23 L675.65,402.66 L676.35,403.10 L677.05,403.53 L677.75,403.96 L678.45,404.39 L679.15,404.83 L679.85,405.26 L680.55,405.69 L681.24,406.12 L681.94,406.55 L682.64,406.98 L683.34,407.41 L684.04,407.84 L684.74,408.27 L685.44,408.70 L686.14,409.12 L686.84,409.55 L687.54,409.98 L688.23,410.40 L688.93,410.83 L689.63,411.26 L690.33,411.68 L691.03,412.11 L691.73,412.53 L692.43,412.96 L693.13,413.38 L693.83,413.81 L694.53,414.23 L695.22,414.66 L695.92,415.08 L696.62,415.50 L697.32,415.92 L698.02,416.35 L698.72,416.77 L699.42,417.19 L700.12,417.61 L700.82,418.03 L701.52,418.46 L702.21,418.88 L702.91,419.30 L703.61,419.72 L704.31,420.14 L705.01,420.56 L705.71,420.98 L706.41,421.40 L707.11,421.82 L707.81,422.24 L708.51,422.66 L709.21,423.08 L709.90,423.49 L710.60,423.91 L711.30,424.33 L712.00,424.75 L712.70,425.17 L713.40,425.59 L714.10,426.00 L714.80,426.42 L715.50,426.84 L716.20,427.25 L716.89,427.67 L717.59,428.09 L718.29,428.51 L718.99,428.92 L719.69,429.34 L720.39,429.76 L721.09,430.17 L721.79,430.59 L722.49,431.00 L723.19,431.42 L723.88,431.84 L724.58,432.25 L725.28,432.67 L725.98,433.08 L726.68,433.50 L727.38,433.91 L728.08,434.33 L728.78,434.74 L729.48,435.16 L730.18,435.57 L730.87,435.99 L731.57,436.40 L732.27,436.82 L732.97,437.23 L733.67,437.65 L734.37,438.06 L735.07,438.48 L735.77,438.89 L736.47,439.30 L737.17,439.72 L737.86,440.13 L738.56,440.55 L739.26,440.96 L739.96,441.37 L740.66,441.79 L741.36,442.20 L742.06,442.62 L742.76,443.03 L743.46,443.44 L744.16,443.86 L744.86,444.27 L745.55,444.68 L746.25,445.10 L746.95,445.51 L747.65,445.92 L748.35,446.34 L749.05,446.75 L749.75,447.17 L750.45,447.58 L751.15,447.99 L751.85,448.40 L752.54,448.82 L753.24,449.23 L753.94,449.64 L754.64,450.06 L755.34,450.47 L756.04,450.88 L756.74,451.30 L757.44,451.71 L758.14,452.12 L758.84,452.54 L759.53,452.95 L760.23,453.36 L760.93,453.78 L761.63,454.19 L762.33,454.60 L763.03,455.01 L763.73,455.43 L764.43,455.84 L765.13,456.25 L765.83,456.67 L766.52,457.08 L767.22,457.49 L767.92,457.90 L768.62,458.32 L769.32,458.73 L770.02,459.14 L770.72,459.56 L771.42,459.97 L772.12,460.38 L772.82,460.79 L773.51,461.21 L774.21,461.62 L774.91,462.03 L775.61,462.45 L776.31,462.86 L777.01,463.27 L777.71,463.68 L778.41,464.10 L779.11,464.51 L779.81,464.92 L780.50,465.34 L781.20,465.75 L781.90,466.16 L782.60,466.57 L783.30,466.99 L784.00,467.40" fill="none" stroke="#ff0000" stroke-width="1.4"/>
<path d="M499.40,64.61 L499.43,74.31 L499.46,78.31 L499.49,81.38 L499.51,83.96 L499.54,86.22 L499.57,88.27 L499.60,90.16 L499.63,91.91 L499.66,93.55 L499.69,95.10 L499.71,96.57 L499.74,97.98 L499.77,99.33 L499.80,100.63 L499.83,101.85 L499.86,102.74 L499.89,103.60 L499.91,104.43 L499.94,105.24 L499.97,106.03 L500.00,106.80 L500.03,107.55 L500.06,108.28 L500.09,109.00 L500.12,109.70 L500.14,110.39 L500.17,111.06 L500.20,111.72 L500.23,112.36 L500.26,113.00 L500.29,113.62 L500.32,114.24 L500.34,114.84 L500.37,115.44 L500.40,116.02 L500.43,116.60 L500.46,117.17 L500.49,117.73 L500.52,118.28 L500.54,118.83 L500.57,119.37 L500.60,119.90 L500.63,120.42 L500.66,120.94 L500.69,121.45 L500.72,121.96 L500.74,122.46 L500.77,122.95 L500.80,123.44 L500.83,123.92 L500.86,124.40 L500.89,124.88 L500.92,125.35 L500.94,125.81 L500.97,126.27 L501.00,126.72 L501.03,127.18 L501.06,127.62 L501.09,128.06 L501.12,128.48 L501.14,128.85 L501.17,129.21 L501.20,129.58 L501.23,129.93 L501.26,130.29 L501.29,130.64 L501.32,130.99 L501.35,131.33 L501.37,131.68 L501.40,132.02 L501.43,132.36 L501.46,132.69 L501.49,133.02 L501.52,133.35 L501.55,133.68 L501.57,134.01 L501.60,134.33 L501.63,134.65 L501.66,134.97 L501.69,135.29 L501.72,135.60 L501.75,135.91 L501.77,136.22 L501.80,136.53 L501.83,136.84 L501.86,137.14 L501.89,137.44 L501.92,137.74 L501.95,138.04 L501.97,138.34 L502.00,138.63 L502.03,138.92 L502.06,139.21 L502.09,139.50 L502.12,139.79 L502.15,140.08 L502.17,140.36 L502.20,140.64 L502.23,140.92 L502.26,141.20 L502.29,141.48 L502.32,141.76 L502.35,142.03 L502.37,142.31 L502.40,142.58 L502.43,142.85 L502.46,143.12 L502.49,143.38 L502.52,143.65 L502.55,143.91 L502.57,144.18 L502.60,144.44 L502.63,144.70 L502.66,144.96 L502.69,145.22 L502.72,145.47 L502.75,145.73 L502.78,145.98 L502.80,146.24 L502.83,146.49 L502.86,146.74 L502.89,146.99 L502.92,147.24 L502.95,147.49 L502.98,147.73 L503.00,147.98 L503.03,148.22 L503.06,148.46 L503.09,148.71 L503.12,148.95 L503.15,149.19 L503.18,149.43 L503.20,149.66 L503.23,149.90 L503.26,150.13 L503.29,150.37 L503.32,150.60 L503.35,150.84 L503.38,151.07 L503.40,151.30 L503.43,151.53 L503.46,151.76 L503.49,151.98 L503.52,152.21 L503.55,152.44 L503.58,152.66 L503.60,152.89 L503.63,153.11 L503.66,153.33 L503.69,153.56 L503.72,153.78 L503.75,154.00 L503.78,154.22 L503.80,154.43 L503.83,154.65 L503.86,154.87 L503.89,155.08 L503.92,155.30 L503.95,155.51 L503.98,155.73 L504.01,155.94 L504.03,156.15 L504.06,156.36 L504.09,156.57 L504.12,156.78 L504.15,156.99 L504.18,157.20 L504.21,157.41 L504.23,157.61 L504.26,157.82 L504.29,158.03 L504.32,158.23 L504.35,158.44 L504.38,158.64 L504.41,158.84 L504.43,159.04 L504.46,159.24 L504.49,159.45 L504.52,159.65 L504.55,159.84 L504.58,160.04 L504.61,160.24 L504.63,160.44 L504.66,160.64 L504.69,160.83 L504.72,161.03 L504.75,161.22 L504.78,161.42 L504.81,161.61 L504.83,161.80 L504.86,162.00 L504.89,162.19 L504.92,162.38 L504.95,162.57 L504.98,162.76 L505.01,162.95 L505.03,163.14 L505.06,163.33 L505.09,163.52 L505.79,167.94 L506.49,172.09 L507.19,175.99 L507.89,179.69 L508.59,183.20 L509.29,186.55 L509.99,189.75 L510.68,192.82 L511.38,195.77 L512.08,198.61 L512.78,201.35 L513.48,203.99 L514.18,206.55 L514.88,209.03 L515.58,211.44 L516.28,213.78 L516.98,216.05 L517.67,218.25 L518.37,220.40 L519.07,222.50 L519.77,224.54 L520.47,226.54 L521.17,228.49 L521.87,230.39 L522.57,232.25 L523.27,234.08 L523.97,235.87 L524.66,237.62 L525.36,239.34 L526.06,241.03 L526.76,242.68 L527.46,244.30 L528.16,245.89 L528.86,247.46 L529.56,248.99 L530.26,250.50 L530.96,251.98 L531.65,253.44 L532.35,254.88 L533.05,256.29 L533.75,257.68 L534.45,259.04 L535.15,260.39 L535.85,261.71 L536.55,263.02 L537.25,264.31 L537.95,265.58 L538.64,266.83 L539.34,268.06 L540.04,269.27 L540.74,270.47 L541.44,271.66 L542.14,272.83 L542.84,273.98 L543.54,275.12 L544.24,276.24 L544.94,277.35 L545.64,278.45 L546.33,279.53 L547.03,280.60 L547.73,281.66 L548.43,282.70 L549.13,283.74 L549.83,284.76 L550.53,285.77 L551.23,286.78 L551.93,287.78 L552.63,288.77 L553.32,289.75 L554.02,290.71 L554.72,291.67 L555.42,292.62 L556.12,293.56 L556.82,294.49 L557.52,295.41 L558.22,296.32 L558.92,297.23 L559.62,298.12 L560.31,299.01 L561.01,299.89 L561.71,300.76 L562.41,301.62 L563.11,302.47 L563.81,303.32 L564.51,304.16 L565.21,304.99 L565.91,305.82 L566.61,306.64 L567.30,307.45 L568.00,308.26 L568.70,309.05 L569.40,309.85 L570.10,310.63 L570.80,311.43 L571.50,312.26 L572.20,313.09 L572.90,313.91 L573.60,314.72 L574.29,315.53 L574.99,316.33 L575.69,317.13 L576.39,317.92 L577.09,318.70 L577.79,319.48 L578.49,320.25 L579.19,321.02 L579.89,321.79 L580.59,322.55 L581.28,323.30 L581.98,324.05 L582.68,324.79 L583.38,325.53 L584.08,326.27 L584.78,327.00 L585.48,327.74 L586.18,328.48 L586.88,329.21 L587.58,329.94 L588.28,330.66 L588.97,331.39 L589.67,332.10 L590.37,332.81 L591.07,333.52 L591.77,334.23 L592.47,334.93 L593.17,335.62 L593.87,336.32 L594.57,337.01 L595.27,337.69 L595.96,338.38 L596.66,339.06 L597.36,339.73 L598.06,340.40 L598.76,341.07 L599.46,341.72 L600.16,342.35 L600.86,342.98 L601.56,343.60 L602.26,344.22 L602.95,344.84 L603.65,345.46 L604.35,346.07 L605.05,346.68 L605.75,347.29 L606.45,347.90 L607.15,348.50 L607.85,349.10 L608.55,349.70 L609.25,350.29 L609.94,350.88 L610.64,351.47 L611.34,352.06 L612.04,352.65 L612.74,353.23 L613.44,353.81 L614.14,354.39 L614.84,354.97 L615.54,355.54 L616.24,356.11 L616.93,356.68 L617.63,357.25 L618.33,357.82 L619.03,358.38 L619.73,358.94 L620.43,359.50 L621.13,360.06 L621.83,360.62 L622.53,361.17 L623.23,361.73 L623.92,362.28 L624.62,362.83 L625.32,363.37 L626.02,363.92 L626.72,364.46 L627.42,365.00 L628.12,365.55 L628.82,366.08 L629.52,366.62 L630.22,367.16 L630.92,367.69 L631.61,368.22 L632.31,368.76 L633.01,369.29 L633.71,369.81 L634.41,370.34 L635.11,370.87 L635.81,371.39 L636.51,371.91 L637.21,372.44 L637.91,372.96 L638.60,373.47 L639.30,373.99 L640.00,374.51 L640.70,375.02 L641.40,375.54 L642.10,376.05 L642.80,376.55 L643.50,377.05 L644.20,377.56 L644.90,378.06 L645.59,378.56 L646.29,379.06 L646.99,379.55 L647.69,380.05 L648.39,380.55 L649.09,381.04 L649.79,381.53 L650.49,382.03 L651.19,382.52 L651.89,383.01 L652.58,383.50 L653.28,383.99 L653.98,384.48 L654.68,384.96 L655.38,385.45 L656.08,385.93 L656.78,386.42 L657.48,386.90 L658.18,387.39 L658.88,387.87 L659.57,388.35 L660.27,388.83 L660.97,389.31 L661.67,389.79 L662.37,390.27 L663.07,390.74 L663.77,391.22 L664.47,391.70 L665.17,392.17 L665.87,392.64 L666.57,393.12 L667.26,393.59 L667.96,394.06 L668.66,394.54 L669.36,395.01 L670.06,395.48 L670.76,395.95 L671.46,396.42 L672.16,396.89 L672.86,397.35 L673.56,397.82 L674.25,398.29 L674.95,398.75 L675.65,399.22 L676.35,399.68 L677.05,400.15 L677.75,400.61 L678.45,401.08 L679.15,401.54 L679.85,402.00 L680.55,402.46 L681.24,402.92 L681.94,403.38 L682.64,403.84 L683.34,404.30 L684.04,404.76 L684.74,405.21 L685.44,405.67 L686.14,406.13 L686.84,406.58 L687.54,407.04 L688.23,407.49 L688.93,407.95 L689.63,408.40 L690.33,408.86 L691.03,409.31 L691.73,409.77 L692.43,410.22 L693.13,410.67 L693.83,411.13 L694.53,411.58 L695.22,412.03 L695.92,412.48 L696.62,412.93 L697.32,413.38 L698.02,413.83 L698.72,414.28 L699.42,414.73 L700.12,415.18 L700.82,415.63 L701.52,416.08 L702.21,416.53 L702.91,416.98 L703.61,417.43 L704.31,417.87 L705.01,418.32 L705.71,418.77 L706.41,419.22 L707.11,419.66 L707.81,420.11 L708.51,420.56 L709.21,421.00 L709.90,421.45 L710.60,421.89 L711.30,422.34 L712.00,422.78 L712.70,423.23 L713.40,423.67 L714.10,424.12 L714.80,424.56 L715.50,425.01 L716.20,425.45 L716.89,425.90 L717.59,426.34 L718.29,426.78 L718.99,427.23 L719.69,427.67 L720.39,428.11 L721.09,428.55 L721.79,429.00 L722.49,429.44 L723.19,429.88 L723.88,430.32 L724.58,430.77 L725.28,431.21 L725.98,431.65 L726.68,432.09 L727.38,432.53 L728.08,432.96 L728.78,433.40 L729.48,433.83 L730.18,434.26 L730.87,434.69 L731.57,435.13 L732.27,435.56 L732.97,435.99 L733.67,436.42 L734.37,436.86 L735.07,437.29 L735.77,437.72 L736.47,438.15 L737.17,438.58 L737.86,439.02 L738.56,439.45 L739.26,439.88 L739.96,440.31 L740.66,440.74 L741.36,441.17 L742.06,441.61 L742.76,442.04 L743.46,442.47 L744.16,442.90 L744.86,443.33 L745.55,443.76 L746.25,444.19 L746.95,444.62 L747.65,445.05 L748.35,445.48 L749.05,445.92 L749.75,446.35 L750.45,446.78 L751.15,447.21 L751.85,447.64 L752.54,448.07 L753.24,448.50 L753.94,448.93 L754.64,449.36 L755.34,449.79 L756.04,450.22 L756.74,450.65 L757.44,451.08 L758.14,451.51 L758.84,451.94 L759.53,452.37 L760.23,452.80 L760.93,453.23 L761.63,453.66 L762.33,454.09 L763.03,454.52 L763.73,454.95 L764.43,455.38 L765.13,455.81 L765.83,456.24 L766.52,456.67 L767.22,457.10 L767.92,457.53 L768.62,457.96 L769.32,458.39 L770.02,458.82 L770.72,459.24 L771.42,459.67 L772.12,460.10 L772.82,460.53 L773.51,460.96 L774.21,461.39 L774.91,461.82 L775.61,462.25 L776.31,462.68 L777.01,463.11 L777.71,463.54 L778.41,463.97 L779.11,464.40 L779.81,464.83 L780.50,465.25 L781.20,465.68 L781.90,466.11 L782.60,466.54 L783.30,466.97 L784.00,467.40" fill="none" stroke="#0000ff" stroke-width="1.4"/>
<path d="M753.4,443.9 754.2,446.4 756.8,446.4 754.7,447.9 755.5,450.4 753.4,448.9 751.3,450.4 752.1,447.9 750.0,446.4 752.6,446.4ZM725.7,426.7 726.5,429.2 729.1,429.2 727.0,430.7 727.8,433.2 725.7,431.7 723.6,433.2 724.4,430.7 722.3,429.2 724.9,429.2ZM700.8,410.5 701.6,412.9 704.2,412.9 702.1,414.5 702.9,417.0 700.8,415.5 698.7,417.0 699.5,414.5 697.4,412.9 700.0,412.9ZM678.8,395.5 679.6,397.9 682.2,397.9 680.1,399.5 680.9,402.0 678.8,400.5 676.7,402.0 677.5,399.5 675.4,397.9 678.0,397.9ZM659.1,381.6 660.0,384.0 662.6,384.1 660.5,385.6 661.3,388.1 659.1,386.6 657.0,388.1 657.8,385.6 655.7,384.1 658.3,384.0ZM641.9,368.9 642.7,371.4 645.3,371.4 643.2,372.9 644.0,375.4 641.9,373.9 639.8,375.4 640.6,372.9 638.5,371.4 641.1,371.4ZM626.4,357.0 627.2,359.5 629.8,359.5 627.7,361.0 628.5,363.5 626.4,362.0 624.2,363.5 625.0,361.0 622.9,359.5 625.5,359.5ZM612.3,345.7 613.2,348.2 615.8,348.2 613.7,349.8 614.4,352.2 612.3,350.7 610.2,352.2 611.0,349.8 608.9,348.2 611.5,348.2ZM600.1,335.3 600.9,337.8 603.5,337.8 601.5,339.4 602.2,341.9 600.1,340.3 598.0,341.9 598.8,339.4 596.7,337.8 599.3,337.8ZM589.0,325.3 589.8,327.7 592.4,327.8 590.3,329.3 591.1,331.8 589.0,330.3 586.9,331.8 587.7,329.3 585.6,327.8 588.2,327.7ZM579.5,316.0 580.3,318.5 582.9,318.5 580.8,320.1 581.6,322.5 579.5,321.0 577.3,322.5 578.1,320.1 576.0,318.5 578.6,318.5ZM570.7,306.8 571.5,309.3 574.1,309.3 572.0,310.8 572.8,313.3 570.7,311.8 568.5,313.3 569.3,310.8 567.2,309.3 569.8,309.3ZM562.8,297.9 563.7,300.4 566.3,300.4 564.2,301.9 565.0,304.4 562.8,302.9 560.7,304.4 561.5,301.9 559.4,300.4 562.0,300.4ZM555.7,289.1 556.5,291.5 559.1,291.5 557.1,293.1 557.8,295.6 555.7,294.1 553.6,295.6 554.4,293.1 552.3,291.5 554.9,291.5ZM549.6,280.7 550.4,283.2 553.0,283.2 550.9,284.7 551.7,287.2 549.6,285.7 547.5,287.2 548.3,284.7 546.2,283.2 548.8,283.2ZM544.2,272.6 545.0,275.1 547.6,275.1 545.5,276.7 546.3,279.1 544.2,277.6 542.1,279.1 542.9,276.7 540.8,275.1 543.4,275.1ZM539.6,265.1 540.4,267.5 543.0,267.5 540.9,269.1 541.7,271.6 539.6,270.1 537.5,271.6 538.3,269.1 536.2,267.5 538.8,267.5ZM535.2,257.1 536.0,259.6 538.6,259.6 536.5,261.1 537.3,263.6 535.2,262.1 533.1,263.6 533.8,261.1 531.8,259.6 534.4,259.6ZM531.8,250.4 532.6,252.8 535.2,252.9 533.1,254.4 533.9,256.9 531.8,255.4 529.6,256.9 530.4,254.4 528.3,252.9 530.9,252.8ZM528.3,242.8 529.1,245.3 531.7,245.3 529.6,246.9 530.4,249.3 528.3,247.8 526.1,249.3 526.9,246.9 524.8,245.3 527.4,245.3ZM525.0,235.1 525.8,237.6 528.4,237.6 526.3,239.2 527.1,241.6 525.0,240.1 522.9,241.6 523.7,239.2 521.6,237.6 524.2,237.6ZM522.2,227.7 523.0,230.1 525.6,230.2 523.5,231.7 524.3,234.2 522.2,232.7 520.1,234.2 520.8,231.7 518.7,230.2 521.3,230.1ZM519.7,220.8 520.5,223.3 523.1,223.3 521.0,224.9 521.8,227.3 519.7,225.8 517.6,227.3 518.4,224.9 516.3,223.3 518.9,223.3ZM517.5,214.2 518.3,216.7 520.9,216.7 518.8,218.3 519.6,220.8 517.5,219.2 515.4,220.8 516.2,218.3 514.1,216.7 516.7,216.7ZM515.5,207.9 516.4,210.4 519.0,210.4 516.9,211.9 517.7,214.4 515.5,212.9 513.4,214.4 514.2,211.9 512.1,210.4 514.7,210.4ZM513.8,201.8 514.6,204.2 517.2,204.2 515.1,205.8 515.9,208.3 513.8,206.8 511.7,208.3 512.5,205.8 510.4,204.2 513.0,204.2ZM512.2,195.9 513.1,198.3 515.7,198.4 513.6,199.9 514.3,202.4 512.2,200.9 510.1,202.4 510.9,199.9 508.8,198.4 511.4,198.3ZM510.8,190.2 511.7,192.7 514.3,192.7 512.2,194.2 513.0,196.7 510.8,195.2 508.7,196.7 509.5,194.2 507.4,192.7 510.0,192.7ZM509.6,184.7 510.4,187.2 513.0,187.2 510.9,188.8 511.7,191.3 509.6,189.7 507.5,191.3 508.3,188.8 506.2,187.2 508.8,187.2ZM508.5,179.5 509.3,182.0 511.9,182.0 509.8,183.6 510.6,186.0 508.5,184.5 506.4,186.0 507.2,183.6 505.1,182.0 507.7,182.0ZM507.5,174.5 508.3,177.0 510.9,177.0 508.8,178.6 509.6,181.0 507.5,179.5 505.4,181.0 506.2,178.6 504.1,177.0 506.7,177.0ZM506.6,169.7 507.5,172.2 510.1,172.2 508.0,173.8 508.7,176.2 506.6,174.7 504.5,176.2 505.3,173.8 503.2,172.2 505.8,172.2ZM505.8,165.2 506.7,167.6 509.3,167.6 507.2,169.2 508.0,171.7 505.8,170.2 503.7,171.7 504.5,169.2 502.4,167.6 505.0,167.6ZM505.2,160.8 506.0,163.3 508.6,163.3 506.5,164.8 507.3,167.3 505.2,165.8 503.0,167.3 503.8,164.8 501.7,163.3 504.3,163.3ZM504.5,156.6 505.4,159.1 508.0,159.1 505.9,160.6 506.6,163.1 504.5,161.6 502.4,163.1 503.2,160.6 501.1,159.1 503.7,159.1ZM504.0,152.6 504.8,155.1 507.4,155.1 505.3,156.7 506.1,159.1 504.0,157.6 501.9,159.1 502.6,156.7 500.5,155.1 503.1,155.1ZM503.5,148.8 504.3,151.3 506.9,151.3 504.8,152.9 505.6,155.3 503.5,153.8 501.4,155.3 502.1,152.9 500.1,151.3 502.7,151.3ZM503.0,145.2 503.9,147.7 506.5,147.7 504.4,149.3 505.2,151.7 503.0,150.2 500.9,151.7 501.7,149.3 499.6,147.7 502.2,147.7ZM502.6,141.8 503.5,144.3 506.1,144.3 504.0,145.8 504.8,148.3 502.6,146.8 500.5,148.3 501.3,145.8 499.2,144.3 501.8,144.3ZM502.3,138.5 503.1,141.0 505.7,141.0 503.6,142.5 504.4,145.0 502.3,143.5 500.2,145.0 501.0,142.5 498.9,141.0 501.5,141.0ZM502.0,135.4 502.8,137.9 505.4,137.9 503.3,139.4 504.1,141.9 502.0,140.4 499.9,141.9 500.6,139.4 498.6,137.9 501.2,137.9ZM501.7,132.4 502.5,134.9 505.1,134.9 503.0,136.5 503.8,139.0 501.7,137.4 499.6,139.0 500.4,136.5 498.3,134.9 500.9,134.9ZM501.4,129.6 502.3,132.1 504.9,132.1 502.8,133.7 503.6,136.2 501.4,134.6 499.3,136.2 500.1,133.7 498.0,132.1 500.6,132.1ZM501.2,127.0 502.0,129.4 504.7,129.5 502.6,131.0 503.3,133.5 501.2,132.0 499.1,133.5 499.9,131.0 497.8,129.5 500.4,129.4ZM501.0,124.4 501.9,126.9 504.5,126.9 502.4,128.5 503.1,131.0 501.0,129.4 498.9,131.0 499.7,128.5 497.6,126.9 500.2,126.9ZM500.9,122.0 501.7,124.5 504.3,124.5 502.2,126.1 503.0,128.6 500.9,127.0 498.7,128.6 499.5,126.1 497.4,124.5 500.0,124.5ZM500.7,119.8 501.5,122.2 504.1,122.3 502.0,123.8 502.8,126.3 500.7,124.8 498.6,126.3 499.4,123.8 497.3,122.3 499.9,122.2ZM500.6,117.6 501.4,120.1 504.0,120.1 501.9,121.6 502.7,124.1 500.6,122.6 498.4,124.1 499.2,121.6 497.1,120.1 499.7,120.1ZM500.4,115.6 501.3,118.0 503.9,118.1 501.8,119.6 502.5,122.1 500.4,120.6 498.3,122.1 499.1,119.6 497.0,118.1 499.6,118.0ZM500.3,113.6 501.1,116.1 503.7,116.1 501.6,117.7 502.4,120.1 500.3,118.6 498.2,120.1 499.0,117.7 496.9,116.1 499.5,116.1ZM500.2,111.8 501.0,114.3 503.6,114.3 501.6,115.8 502.3,118.3 500.2,116.8 498.1,118.3 498.9,115.8 496.8,114.3 499.4,114.3Z" fill="#0000ff"/>
<g fill="#ff0000"><circle cx="780.9" cy="465.5" r="2.8"/><circle cx="765.2" cy="456.1" r="2.8"/><circle cx="747.3" cy="445.2" r="2.8"/><circle cx="730.9" cy="435.1" r="2.8"/><circle cx="715.2" cy="425.2" r="2.8"/><circle cx="700.8" cy="416.0" r="2.8"/><circle cx="687.4" cy="407.4" r="2.8"/><circle cx="675.0" cy="399.2" r="2.8"/><circle cx="663.2" cy="391.4" r="2.8"/><circle cx="652.2" cy="384.0" r="2.8"/><circle cx="641.9" cy="376.9" r="2.8"/><circle cx="632.5" cy="370.2" r="2.8"/><circle cx="623.5" cy="363.6" r="2.8"/><circle cx="615.0" cy="357.3" r="2.8"/><circle cx="607.2" cy="351.2" r="2.8"/><circle cx="599.9" cy="345.3" r="2.8"/><circle cx="593.2" cy="339.7" r="2.8"/><circle cx="587.1" cy="334.3" r="2.8"/><circle cx="581.6" cy="329.3" r="2.8"/><circle cx="575.9" cy="323.8" r="2.8"/><circle cx="570.4" cy="318.3" r="2.8"/><circle cx="565.6" cy="313.1" r="2.8"/><circle cx="561.2" cy="308.2" r="2.8"/><circle cx="557.0" cy="303.1" r="2.8"/><circle cx="553.2" cy="298.3" r="2.8"/><circle cx="549.6" cy="293.5" r="2.8"/><circle cx="546.3" cy="288.8" r="2.8"/><circle cx="543.3" cy="284.3" r="2.8"/><circle cx="540.4" cy="279.7" r="2.8"/><circle cx="537.7" cy="275.1" r="2.8"/><circle cx="535.2" cy="270.7" r="2.8"/><circle cx="532.7" cy="266.0" r="2.8"/><circle cx="530.5" cy="261.6" r="2.8"/><circle cx="528.3" cy="256.9" r="2.8"/><circle cx="526.2" cy="252.1" r="2.8"/><circle cx="524.2" cy="247.6" r="2.8"/><circle cx="522.5" cy="243.2" r="2.8"/><circle cx="520.9" cy="238.7" r="2.8"/><circle cx="519.0" cy="233.2" r="2.8"/><circle cx="517.6" cy="228.7" r="2.8"/><circle cx="516.4" cy="224.2" r="2.8"/><circle cx="515.2" cy="219.7" r="2.8"/><circle cx="514.2" cy="215.4" r="2.8"/><circle cx="513.2" cy="211.1" r="2.8"/><circle cx="512.2" cy="206.7" r="2.8"/><circle cx="511.4" cy="202.4" r="2.8"/><circle cx="510.6" cy="198.3" r="2.8"/><circle cx="509.8" cy="194.2" r="2.8"/><circle cx="509.1" cy="190.3" r="2.8"/><circle cx="508.5" cy="187.2" r="2.8"/><circle cx="507.8" cy="184.2" r="2.8"/><circle cx="507.3" cy="181.3" r="2.8"/><circle cx="506.7" cy="178.5" r="2.8"/><circle cx="506.2" cy="175.8" r="2.8"/><circle cx="505.8" cy="173.1" r="2.8"/><circle cx="505.3" cy="170.6" r="2.8"/><circle cx="504.9" cy="168.0" r="2.8"/><circle cx="504.6" cy="165.6" r="2.8"/><circle cx="504.2" cy="163.2" r="2.8"/><circle cx="503.9" cy="160.9" r="2.8"/><circle cx="503.6" cy="158.7" r="2.8"/><circle cx="503.3" cy="156.5" r="2.8"/><circle cx="503.0" cy="154.4" r="2.8"/><circle cx="502.8" cy="152.3" r="2.8"/><circle cx="502.6" cy="150.3" r="2.8"/><circle cx="502.4" cy="148.3" r="2.8"/><circle cx="502.2" cy="146.4" r="2.8"/><circle cx="502.0" cy="144.5" r="2.8"/><circle cx="501.8" cy="142.7" r="2.8"/><circle cx="501.6" cy="140.9" r="2.8"/><circle cx="501.5" cy="139.2" r="2.8"/><circle cx="501.3" cy="137.5" r="2.8"/><circle cx="501.2" cy="135.9" r="2.8"/><circle cx="501.1" cy="134.4" r="2.8"/><circle cx="501.0" cy="132.9" r="2.8"/><circle cx="500.9" cy="131.4" r="2.8"/><circle cx="500.8" cy="130.0" r="2.8"/><circle cx="500.7" cy="128.6" r="2.8"/><circle cx="500.6" cy="127.3" r="2.8"/><circle cx="500.5" cy="126.0" r="2.8"/><circle cx="500.4" cy="124.8" r="2.8"/><circle cx="500.4" cy="123.6" r="2.8"/><circle cx="500.3" cy="122.4" r="2.8"/><circle cx="500.2" cy="121.3" r="2.8"/></g>
</g>
<g transform="translate(508,360.7) scale(0.7668,0.7525)" clip-path="url(#ct)"><use href="#tri"/></g>
<g transform="translate(649.4,251.5)" clip-path="url(#cs)"><use href="#sq"/></g>
<rect x="256.3" y="164" width="126.5" height="121.7" fill="none" stroke="#8890b0" stroke-opacity="0.4" stroke-width="0.8"/>
<rect x="508" y="360.7" width="97" height="91.8" fill="none" stroke="#8890b0" stroke-opacity="0.4" stroke-width="0.8"/>
<rect x="649.4" y="251.5" width="95.7" height="89" fill="none" stroke="#8890b0" stroke-opacity="0.4" stroke-width="0.8"/>
<path d="M643.6,309.6L622.7,334.2" stroke="#0000ff" stroke-width="1.05"/><path d="M616.6,341.4L620.9,332.6L624.6,335.7Z" fill="#0000ff"/>
<path d="M606.3,415.8L629.9,387.2" stroke="#ff0000" stroke-width="1.05"/><path d="M635.9,379.9L631.7,388.8L628.0,385.7Z" fill="#ff0000"/>
<circle cx="645.9" cy="173.8" r="4.3" fill="#ff0000"/>
<path d="M645.9,194.0 647.1,197.5 650.8,197.5 647.8,199.7 648.9,203.2 645.9,201.1 642.9,203.2 644.0,199.7 641.0,197.5 644.7,197.5Z" fill="#0000ff"/>
<text transform="translate(674.40,180.80) scale(1,1)" text-anchor="start" style="font-family:'Liberation Sans';font-size:19.8px;" fill="#000" >Triangular</text>
<text transform="translate(673.80,205.50) scale(1,1)" text-anchor="start" style="font-family:'Liberation Sans';font-size:19.8px;" fill="#000" >Rectangular</text>
<text transform="translate(523.90,97.50) scale(1,1.035)" text-anchor="start" style="font-family:'Liberation Sans';font-size:20.8px;" fill="#000" >(b)</text>
<text transform="translate(642.30,515.00) scale(1,1.035)" text-anchor="middle" style="font-family:'Liberation Sans';font-size:20.3px;" fill="#000" ><tspan font-style="italic">b</tspan>=<tspan font-style="italic">B</tspan>/<tspan font-style="italic">B</tspan><tspan dy="8" font-size="12.3">c2</tspan></text>
<g transform="translate(461.4,0) rotate(-90) scale(1,1.03)" style="font-family:'Liberation Sans'">
<text x="-367.0" y="0.0" font-size="21.5" style="font-family:'Liberation Serif'">σ</text>
<text x="-355.4" y="7.5" font-size="11.3">sc</text>
<text x="-338.8" y="0.0" font-size="21.5" style="font-family:'Liberation Serif'">λ</text>
<text x="-328.3" y="-11.3" font-size="11.3">2</text>
<text x="-321.8" y="0.0" font-size="14.6">x</text>
<text x="-314.5" y="0.0" font-size="19.6">10</text>
<text x="-292.4" y="-11.3" font-size="11.3">5</text>
<text x="-279.7" y="0.0" font-size="19.6">[</text>
<text x="-274.3" y="0.0" font-size="20.5" style="font-family:'Liberation Serif'">μ</text>
<text x="-263.9" y="0.0" font-size="19.6">s</text>
<text x="-254.2" y="-11.3" font-size="11.3">-1</text>
<text x="-243.9" y="0.0" font-size="19.6">nm</text>
<text x="-216.4" y="-11.3" font-size="11.3">2</text>
<text x="-209.8" y="0.0" font-size="19.6">]</text>
</g>
</svg>
</body></html>
